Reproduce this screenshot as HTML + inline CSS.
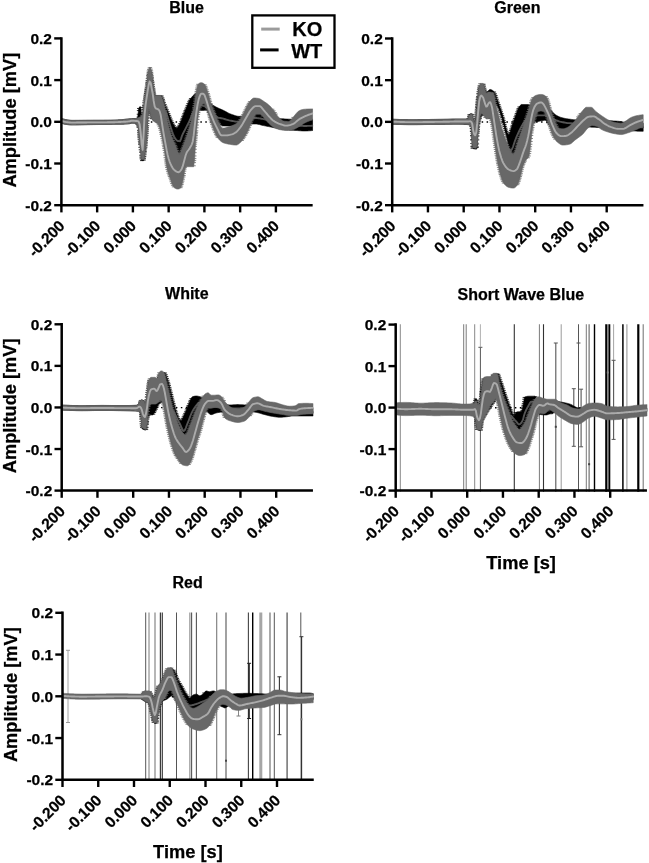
<!DOCTYPE html>
<html lang="en"><head><meta charset="utf-8"><title>ERG amplitude: KO vs WT</title>
<style>
html,body{margin:0;padding:0;background:#fff;}
body{width:649px;height:863px;overflow:hidden;}
svg{display:block;}
text{font-family:"Liberation Sans", sans-serif;font-weight:bold;fill:#000;stroke:#000;stroke-width:0.25px;}
.title{font-size:16px;}
.tick{font-size:15.5px;}
.axl{font-size:18.25px;}
.leg{font-size:20px;}
</style></head><body>
<svg width="649" height="863" viewBox="0 0 649 863">
<rect width="649" height="863" fill="#fff"/>
<g class="panel" id="p-blue">
<text class="title" x="186.52" y="13.3" text-anchor="middle">Blue</text>
<line x1="61.75" y1="122" x2="311.65" y2="122" stroke="#000" stroke-width="1.4" stroke-dasharray="1.5 3.45"/>
<clipPath id="clip-blue"><rect x="61.4" y="38.1" width="251.75" height="168.3"/></clipPath>
<g clip-path="url(#clip-blue)">
<polygon points="61.6,118.6 62.6,118.86 63.6,119.11 64.6,119.33 65.6,119.53 66.6,119.71 67.6,119.89 68.6,120.06 69.6,120.22 70.6,120.33 71.61,120.39 72.61,120.4 73.61,120.4 74.61,120.4 75.61,120.39 76.61,120.39 77.61,120.38 78.61,120.38 79.61,120.37 80.61,120.36 81.61,120.36 82.61,120.35 83.61,120.34 84.61,120.34 85.61,120.33 86.61,120.32 87.61,120.31 88.61,120.31 89.61,120.3 90.61,120.3 91.62,120.29 92.62,120.29 93.62,120.28 94.62,120.28 95.62,120.28 96.62,120.27 97.62,120.27 98.62,120.27 99.62,120.26 100.62,120.26 101.62,120.25 102.62,120.25 103.62,120.25 104.62,120.24 105.62,120.23 106.62,120.23 107.62,120.22 108.62,120.21 109.62,120.2 110.62,120.19 111.63,120.17 112.63,120.14 113.63,120.1 114.63,120.06 115.63,120.01 116.63,119.95 117.63,119.89 118.63,119.83 119.63,119.76 120.63,119.69 121.63,119.63 122.63,119.55 123.63,119.47 124.63,119.38 125.63,119.28 126.63,119.17 127.63,119.06 128.63,118.95 129.63,118.84 130.63,118.73 131.64,118.63 132.64,118.58 133.64,118.55 134.64,118.52 135.64,118.47 136.64,118.38 137.64,118.03 138.64,109.07 139.64,106.8 140.64,106.8 141.64,116.79 142.64,115.03 143.64,107.53 144.64,99.49 145.64,93.32 146.64,86.2 147.64,78.63 148.64,73.19 149.64,70.73 150.65,71.45 151.65,75.18 152.65,82.3 153.65,88.68 154.65,94.74 155.65,95.3 156.65,95.51 157.65,95.59 158.65,95.6 159.65,95.6 160.65,95.6 161.65,95.65 162.65,97.71 163.65,101.1 164.65,103.74 165.65,106.1 166.65,108.47 167.65,110.93 168.65,113.42 169.65,115.86 170.66,118.29 171.66,120.73 172.66,122.88 173.66,124.66 174.66,126.43 175.66,127.79 176.66,128.29 177.66,127.3 178.66,125.88 179.66,124.17 180.66,122.23 181.66,119.79 182.66,117.1 183.66,114.51 184.66,111.98 185.66,109.45 186.66,107.01 187.66,104.56 188.66,102.16 189.66,100.1 190.67,98.53 191.67,97.21 192.67,96.09 193.67,95.11 194.67,94.11 195.67,93.36 196.67,93.16 197.67,93.4 198.67,93.9 199.67,94.53 200.67,95.19 201.67,95.81 202.67,96.43 203.67,97.1 204.67,97.82 205.67,98.58 206.67,99.39 207.67,100.28 208.67,101.33 209.68,102.41 210.68,103.39 211.68,104.2 212.68,104.94 213.68,105.62 214.68,106.24 215.68,106.82 216.68,107.35 217.68,107.83 218.68,108.28 219.68,108.71 220.68,109.12 221.68,109.55 222.68,109.99 223.68,110.47 224.68,110.99 225.68,111.53 226.68,112.09 227.68,112.63 228.68,113.15 229.69,113.63 230.69,114.05 231.69,114.41 232.69,114.77 233.69,115.12 234.69,115.46 235.69,115.77 236.69,116.03 237.69,116.23 238.69,116.34 239.69,116.36 240.69,116.32 241.69,116.25 242.69,116.14 243.69,116.01 244.69,115.86 245.69,115.69 246.69,115.52 247.69,115.35 248.69,115.1 249.7,114.77 250.7,114.4 251.7,114.02 252.7,113.66 253.7,113.37 254.7,113.18 255.7,113.12 256.7,113.19 257.7,113.37 258.7,113.62 259.7,113.94 260.7,114.29 261.7,114.67 262.7,115.04 263.7,115.39 264.7,115.78 265.7,116.26 266.7,116.79 267.7,117.32 268.7,117.81 269.71,118.22 270.71,118.51 271.71,118.64 272.71,118.64 273.71,118.64 274.71,118.64 275.71,118.64 276.71,118.64 277.71,118.64 278.71,118.64 279.71,118.64 280.71,118.65 281.71,118.69 282.71,118.75 283.71,118.83 284.71,118.91 285.71,118.99 286.71,119.06 287.71,119.11 288.72,119.14 289.72,119.17 290.72,119.2 291.72,119.23 292.72,119.25 293.72,119.27 294.72,119.28 295.72,119.28 296.72,119.28 297.72,119.22 298.72,119.13 299.72,119.02 300.72,118.9 301.72,118.79 302.72,118.7 303.72,118.65 304.72,118.64 305.72,118.65 306.72,118.67 307.72,118.71 308.73,118.76 309.73,118.82 310.73,118.91 311.73,119.01 312.73,119.12 312.73,130.49 311.73,130.6 310.73,130.69 309.73,130.77 308.73,130.84 307.72,130.9 306.72,130.93 305.72,130.96 304.72,130.97 303.72,130.97 302.72,130.94 301.72,130.89 300.72,130.83 299.72,130.75 298.72,130.67 297.72,130.59 296.72,130.52 295.72,130.46 294.72,130.41 293.72,130.35 292.72,130.3 291.72,130.25 290.72,130.19 289.72,130.13 288.72,130.05 287.71,129.97 286.71,129.87 285.71,129.75 284.71,129.62 283.71,129.47 282.71,129.32 281.71,129.16 280.71,128.99 279.71,128.83 278.71,128.65 277.71,128.46 276.71,128.26 275.71,128.05 274.71,127.84 273.71,127.63 272.71,127.42 271.71,127.22 270.71,127.02 269.71,126.82 268.7,126.62 267.7,126.42 266.7,126.22 265.7,126.02 264.7,125.82 263.7,125.62 262.7,125.4 261.7,125.14 260.7,124.88 259.7,124.62 258.7,124.38 257.7,124.19 256.7,124.05 255.7,123.99 254.7,123.99 253.7,123.99 252.7,123.99 251.7,123.99 250.7,123.99 249.7,123.99 248.69,123.99 247.69,123.99 246.69,124.01 245.69,124.09 244.69,124.22 243.69,124.38 242.69,124.56 241.69,124.75 240.69,124.93 239.69,125.08 238.69,125.22 237.69,125.37 236.69,125.53 235.69,125.69 234.69,125.83 233.69,125.96 232.69,126.05 231.69,126.1 230.69,126.1 229.69,126.1 228.68,126.09 227.68,126.07 226.68,126.05 225.68,126.03 224.68,126 223.68,125.96 222.68,125.89 221.68,125.55 220.68,124.97 219.68,124.2 218.68,123.32 217.68,122.4 216.68,121.52 215.68,120.59 214.68,119.53 213.68,118.39 212.68,117.23 211.68,116.08 210.68,114.98 209.68,113.68 208.67,112.32 207.67,111.16 206.67,110.46 205.67,110.36 204.67,110.37 203.67,110.39 202.67,110.43 201.67,110.47 200.67,110.54 199.67,110.62 198.67,110.72 197.67,110.83 196.67,110.97 195.67,111.55 194.67,113.25 193.67,115.54 192.67,118.08 191.67,121.52 190.67,125.08 189.66,128.46 188.66,131.79 187.66,134.96 186.66,138.05 185.66,140.99 184.66,143.75 183.66,146.34 182.66,148.8 181.66,151.16 180.66,153.95 179.66,155.89 178.66,155.64 177.66,154.2 176.66,151.99 175.66,149.35 174.66,146.64 173.66,144.17 172.66,141.57 171.66,138.78 170.66,135.89 169.65,133.01 168.65,130.09 167.65,127.11 166.65,124.05 165.65,120.77 164.65,116.46 163.65,112.86 162.65,112.24 161.65,114.78 160.65,117.93 159.65,119.19 158.65,119.68 157.65,120.06 156.65,120.33 155.65,120.47 154.65,120.48 153.65,120.23 152.65,119.73 151.65,118.14 150.65,114.36 149.64,110.39 148.64,107.51 147.64,122.05 146.64,135.54 145.64,146.91 144.64,155.82 143.64,160.6 142.64,160.6 141.64,160.52 140.64,150.83 139.64,141.59 138.64,129.61 137.64,125.13 136.64,123.75 135.64,123.52 134.64,123.37 133.64,123.27 132.64,123.2 131.64,123.18 130.63,123.41 129.63,123.65 128.63,123.77 127.63,123.87 126.63,123.96 125.63,124.03 124.63,124.09 123.63,124.14 122.63,124.18 121.63,124.21 120.63,124.24 119.63,124.26 118.63,124.28 117.63,124.3 116.63,124.31 115.63,124.33 114.63,124.34 113.63,124.36 112.63,124.37 111.63,124.38 110.62,124.39 109.62,124.4 108.62,124.42 107.62,124.43 106.62,124.44 105.62,124.45 104.62,124.46 103.62,124.47 102.62,124.48 101.62,124.49 100.62,124.5 99.62,124.5 98.62,124.51 97.62,124.52 96.62,124.53 95.62,124.54 94.62,124.55 93.62,124.56 92.62,124.57 91.62,124.58 90.61,124.59 89.61,124.61 88.61,124.62 87.61,124.64 86.61,124.66 85.61,124.68 84.61,124.7 83.61,124.72 82.61,124.74 81.61,124.76 80.61,124.79 79.61,124.81 78.61,124.83 77.61,124.85 76.61,124.86 75.61,124.88 74.61,124.89 73.61,124.89 72.61,124.9 71.61,124.9 70.6,124.86 69.6,124.8 68.6,124.71 67.6,124.6 66.6,124.48 65.6,124.34 64.6,124.13 63.6,123.86 62.6,123.55 61.6,123.2" fill="#000000" stroke="#000" stroke-width="0.6"/>
<path d="M136.56 117.13h3.4M136.71 114.25h3.4M136.86 110.55h3.4M137.01 108.46h3.4M139.41 107.46h3.4M139.56 109.95h3.4M139.71 113.17h3.4M139.86 115.92h3.4M140.46 116.49h3.4M141.06 114.56h3.4M141.51 112.45h3.4M141.81 109.36h3.4M141.96 107.3h3.4M142.11 105.41h3.4M142.41 102.87h3.4M142.71 100.9h3.4M143.01 99.08h3.4M143.31 97.18h3.4M143.61 95.35h3.4M143.91 93.53h3.4M144.21 91.61h3.4M144.51 89.52h3.4M144.81 87.24h3.4M145.11 84.91h3.4M145.41 82.65h3.4M145.71 80.45h3.4M146.01 78.13h3.4M146.31 75.99h3.4M146.61 74.35h3.4M147.06 72.82h3.4M147.66 71.21h3.4M148.71 70.91h3.4M149.31 72.59h3.4M149.76 74.24h3.4M150.06 75.88h3.4M150.36 78.03h3.4M150.66 80.31h3.4M150.96 82.39h3.4M151.26 84.35h3.4M151.56 86.29h3.4M151.86 88.16h3.4M152.16 90.02h3.4M152.46 92.14h3.4M152.76 93.99h3.4M160.26 96h3.4M161.01 97.9h3.4M161.46 99.43h3.4M161.91 100.97h3.4M162.51 102.68h3.4M163.26 104.48h3.4M164.01 106.23h3.4M164.76 108.01h3.4M165.51 109.84h3.4M166.26 111.7h3.4M167.01 113.56h3.4M167.76 115.39h3.4M168.51 117.19h3.4M169.26 119.05h3.4M170.01 120.86h3.4M170.76 122.5h3.4M171.66 124.13h3.4M172.56 125.76h3.4M173.61 127.4h3.4M176.31 126.84h3.4M177.36 125.22h3.4M178.26 123.61h3.4M179.16 121.77h3.4M179.91 119.92h3.4M180.51 118.32h3.4M181.11 116.7h3.4M181.71 115.14h3.4M182.31 113.62h3.4M182.91 112.1h3.4M183.51 110.58h3.4M184.11 109.07h3.4M184.86 107.24h3.4M185.61 105.43h3.4M186.36 103.58h3.4M187.11 101.83h3.4M187.86 100.29h3.4M188.91 98.61h3.4" stroke="#000" stroke-width="0.8" fill="none"/>
<path d="M135.51 124.32h3.4M136.26 125.94h3.4M136.71 127.54h3.4M137.01 130.4h3.4M137.16 132.27h3.4M137.31 134.21h3.4M137.46 136.04h3.4M137.61 137.71h3.4M137.76 139.46h3.4M137.91 141.23h3.4M138.06 142.96h3.4M138.21 144.59h3.4M138.51 147.37h3.4M138.81 149.79h3.4M139.11 152.21h3.4M139.41 155.29h3.4M139.56 157.18h3.4M139.71 158.91h3.4M140.01 160.6h3.4M142.26 160.13h3.4M142.56 158.62h3.4M142.86 156.47h3.4M143.16 154.09h3.4M143.46 151.71h3.4M143.76 148.86h3.4M143.91 147.27h3.4M144.06 145.61h3.4M144.21 143.92h3.4M144.36 142.2h3.4M144.51 140.5h3.4M144.66 138.8h3.4M144.81 137.09h3.4M144.96 135.35h3.4M145.11 133.56h3.4M145.26 131.72h3.4M145.41 129.81h3.4M145.56 127.81h3.4M145.71 125.72h3.4M145.86 123.48h3.4M146.01 120.86h3.4M146.16 118.04h3.4M146.31 115.26h3.4M146.46 112.78h3.4M146.61 110.54h3.4M146.76 108.39h3.4M147.21 107.83h3.4M147.81 109.81h3.4M148.26 111.78h3.4M148.71 113.53h3.4M149.16 115.18h3.4M149.61 116.95h3.4M150.06 118.49h3.4M158.61 118.65h3.4M159.36 116.74h3.4M159.96 114.75h3.4M160.56 112.99h3.4M161.76 112.45h3.4M162.36 114.1h3.4M162.81 115.86h3.4M163.26 117.83h3.4M163.71 119.79h3.4M164.16 121.54h3.4M164.76 123.45h3.4M165.36 125.31h3.4M165.96 127.13h3.4M166.56 128.93h3.4M167.16 130.7h3.4M167.76 132.45h3.4M168.36 134.18h3.4M168.96 135.91h3.4M169.56 137.65h3.4M170.16 139.37h3.4M170.76 141.04h3.4M171.36 142.66h3.4M171.96 144.19h3.4M172.71 146.01h3.4M173.31 147.59h3.4M173.91 149.23h3.4M174.51 150.84h3.4M175.11 152.37h3.4M175.86 154.02h3.4M178.26 155.52h3.4M179.01 153.81h3.4M179.61 152.1h3.4M180.21 150.56h3.4M180.96 148.79h3.4M181.71 146.96h3.4M182.31 145.44h3.4M182.91 143.88h3.4M183.51 142.25h3.4M184.11 140.56h3.4M184.71 138.8h3.4M185.31 136.98h3.4M185.91 135.12h3.4M186.51 133.23h3.4M187.11 131.3h3.4M187.71 129.3h3.4M188.16 127.78h3.4M188.61 126.26h3.4M189.06 124.75h3.4M189.51 123.17h3.4M189.96 121.53h3.4M190.41 119.91h3.4M190.86 118.4h3.4M191.46 116.73h3.4M192.21 114.95h3.4M192.96 113.25h3.4M193.86 111.68h3.4M207.07 112.44h3.4M208.27 114.07h3.4" stroke="#000" stroke-width="0.8" fill="none"/>
<polyline points="166,112 167,115.19 168.01,118.41 169.01,121.68 170.02,124.95 171.02,128.16 172.03,131.4 173.03,134.18 174.04,136.49 175.04,138.38 176.05,139.63 177.05,140.6 178.06,141.03 179.06,141.16 180.07,141.18 181.07,138.62 182.08,135.56 183.08,133.41 184.09,131.46 185.09,129.57 186.1,127.61 187.1,125.64 188.11,123.69 189.11,121.67 190.12,119.52 191.12,117.01 192.13,114.33 193.13,111.86 194.14,109.96 195.14,108.3 196.15,106.77 197.15,105.69 198.16,105.32 199.16,105.35 200.17,105.42 201.17,105.53 202.18,105.68 203.18,105.85 204.19,106.06 205.19,106.39 206.2,107.11 207.2,108.08 208.21,109.12 209.21,110.04 210.22,110.7 211.22,111.17 212.23,111.65 213.23,112.32 214.24,113.38 215.24,116.07 216.25,116.72 217.25,117.21 218.26,117.56 219.26,117.82 220.27,118.02 221.27,118.21 222.28,118.42 223.28,118.69 224.29,118.98 225.29,119.28 226.3,119.56 227.3,119.84 228.31,120.1 229.31,120.35 230.32,120.57 231.32,120.76 232.33,120.95 233.33,121.15 234.34,121.33 235.34,121.51 236.35,121.66 237.35,121.78 238.36,121.86 239.36,121.88 240.37,121.83 241.37,121.67 242.38,121.44 243.38,121.16 244.39,120.85 245.39,120.53 246.4,120.22 247.4,119.95 248.41,119.69 249.41,119.38 250.42,119.06 251.42,118.75 252.43,118.46 253.43,118.22 254.44,118.06 255.44,117.99 256.45,118.01 257.45,118.08 258.46,118.19 259.46,118.34 260.47,118.51 261.47,118.7 262.48,118.89 263.48,119.08 264.49,119.28 265.49,119.51 266.5,119.76 267.5,120.04 268.51,120.32 269.51,120.61 270.52,120.89 271.52,121.16 272.53,121.41 273.53,121.66 274.54,121.91 275.54,122.16 276.55,122.4 277.55,122.64 278.56,122.87 279.56,123.1 280.57,123.32 281.57,123.55 282.58,123.77 283.58,123.99 284.59,124.2 285.59,124.4 286.6,124.58 287.6,124.74 288.61,124.88 289.61,125.01 290.62,125.13 291.62,125.24 292.63,125.34 293.63,125.43 294.64,125.51 295.64,125.59 296.65,125.64 297.65,125.7 298.66,125.76 299.66,125.81 300.67,125.86 301.67,125.89 302.68,125.92 303.68,125.94 304.69,125.94 305.69,125.94 306.7,125.93 307.7,125.92 308.71,125.91 309.71,125.89 310.72,125.86 311.72,125.82 312.73,125.78" fill="none" stroke="#555555" stroke-width="1.9" stroke-linejoin="round" stroke-linecap="round"/>
<polygon points="61.6,118.6 62.6,118.86 63.6,119.11 64.6,119.33 65.6,119.53 66.6,119.71 67.6,119.89 68.6,120.06 69.6,120.22 70.6,120.33 71.61,120.39 72.61,120.4 73.61,120.4 74.61,120.4 75.61,120.39 76.61,120.39 77.61,120.38 78.61,120.38 79.61,120.37 80.61,120.36 81.61,120.36 82.61,120.35 83.61,120.34 84.61,120.34 85.61,120.33 86.61,120.32 87.61,120.31 88.61,120.31 89.61,120.3 90.61,120.3 91.62,120.29 92.62,120.29 93.62,120.28 94.62,120.28 95.62,120.28 96.62,120.27 97.62,120.27 98.62,120.27 99.62,120.26 100.62,120.26 101.62,120.25 102.62,120.25 103.62,120.25 104.62,120.24 105.62,120.23 106.62,120.23 107.62,120.22 108.62,120.21 109.62,120.2 110.62,120.19 111.63,120.17 112.63,120.14 113.63,120.1 114.63,120.06 115.63,120.01 116.63,119.95 117.63,119.89 118.63,119.83 119.63,119.76 120.63,119.69 121.63,119.63 122.63,119.55 123.63,119.44 124.63,119.32 125.63,119.18 126.63,119.05 127.63,118.94 128.63,118.85 129.63,118.8 130.63,118.8 131.64,118.8 132.64,118.78 133.64,118.74 134.64,118.68 135.64,118.59 136.64,118.48 137.64,118.01 138.64,117.43 139.64,117.03 140.64,116.6 141.64,115.86 142.64,113.99 143.64,107.08 144.64,99.01 145.64,92.5 146.64,84.91 147.64,76.24 148.64,69.78 149.64,67.42 150.65,68.08 151.65,72.05 152.65,81.55 153.65,89.58 154.65,94.8 155.65,95.4 156.65,95.4 157.65,95.4 158.65,95.4 159.65,95.4 160.65,95.4 161.65,97.08 162.65,99.91 163.65,103.16 164.65,107.07 165.65,111.69 166.65,117.07 167.65,121.92 168.65,126.33 169.65,130.28 170.66,133.66 171.66,136.63 172.66,139.24 173.66,141.53 174.66,143.66 175.66,145.87 176.66,148.66 177.66,151.57 178.66,153.72 179.66,154.19 180.66,152.28 181.66,149.53 182.66,147.18 183.66,144.72 184.66,142.12 185.66,139.37 186.66,136.42 187.66,133.34 188.66,130.2 189.66,127.07 190.67,123.51 191.67,118.75 192.67,113.62 193.67,108.75 194.67,102.28 195.67,95.29 196.67,89.37 197.67,84.94 198.67,83.69 199.67,83.03 200.67,82.66 201.67,82.63 202.67,82.94 203.67,83.54 204.67,84.34 205.67,86.13 206.67,88.92 207.67,91.99 208.67,95.25 209.68,98.98 210.68,102.56 211.68,105.57 212.68,108.39 213.68,111.09 214.68,113.64 215.68,116.06 216.68,118.32 217.68,120.43 218.68,122.44 219.68,124.62 220.68,126.62 221.68,127.95 222.68,128.2 223.68,128.09 224.68,127.89 225.68,127.64 226.68,127.37 227.68,127.11 228.68,126.82 229.69,126.51 230.69,126.16 231.69,125.78 232.69,125.37 233.69,124.93 234.69,124.46 235.69,123.93 236.69,123.31 237.69,122.56 238.69,121.53 239.69,120.14 240.69,118.53 241.69,116.85 242.69,115.04 243.69,113 244.69,110.89 245.69,108.86 246.69,106.89 247.69,104.87 248.69,103 249.7,101.51 250.7,100.37 251.7,99.31 252.7,98.47 253.7,98.04 254.7,98.03 255.7,98.09 256.7,98.19 257.7,98.33 258.7,98.48 259.7,98.76 260.7,99.25 261.7,99.88 262.7,100.58 263.7,101.27 264.7,101.93 265.7,102.61 266.7,103.33 267.7,104.1 268.7,104.93 269.71,105.83 270.71,106.83 271.71,108.01 272.71,109.29 273.71,110.6 274.71,111.99 275.71,113.48 276.71,114.91 277.71,116.16 278.71,117.3 279.71,118.3 280.71,119.15 281.71,119.98 282.71,120.67 283.71,121.05 284.71,121.18 285.71,121.27 286.71,121.34 287.71,121.39 288.72,121.38 289.72,120.89 290.72,119.99 291.72,119.05 292.72,117.87 293.72,116.55 294.72,115.27 295.72,114.1 296.72,112.92 297.72,111.87 298.72,111.1 299.72,110.52 300.72,110.04 301.72,109.68 302.72,109.48 303.72,109.34 304.72,109.22 305.72,109.14 306.72,109.07 307.72,109.03 308.73,108.99 309.73,108.95 310.73,108.92 311.73,108.9 312.73,108.9 312.73,119.94 311.73,120.18 310.73,120.47 309.73,120.81 308.73,121.18 307.72,121.58 306.72,122.01 305.72,122.46 304.72,122.99 303.72,123.61 302.72,124.28 301.72,124.96 300.72,125.63 299.72,126.25 298.72,126.83 297.72,127.43 296.72,128.02 295.72,128.59 294.72,129.08 293.72,129.47 292.72,129.72 291.72,129.91 290.72,130.09 289.72,130.24 288.72,130.36 287.71,130.44 286.71,130.48 285.71,130.47 284.71,130.41 283.71,130.3 282.71,130.16 281.71,130 280.71,129.82 279.71,129.63 278.71,129.4 277.71,129.1 276.71,128.74 275.71,128.33 274.71,127.88 273.71,127.38 272.71,126.8 271.71,126.07 270.71,125.22 269.71,124.28 268.7,123.31 267.7,122.27 266.7,121.1 265.7,119.86 264.7,118.64 263.7,117.5 262.7,116.25 261.7,115.01 260.7,114.29 259.7,114.25 258.7,114.25 257.7,114.25 256.7,114.25 255.7,114.54 254.7,115.73 253.7,117.39 252.7,119.13 251.7,121.41 250.7,124.03 249.7,126.64 248.69,128.92 247.69,131.08 246.69,133.15 245.69,135.04 244.69,136.71 243.69,138.29 242.69,139.77 241.69,141.09 240.69,142.19 239.69,143.06 238.69,143.88 237.69,144.58 236.69,145.02 235.69,145.09 234.69,145.04 233.69,144.94 232.69,144.8 231.69,144.64 230.69,144.47 229.69,144.3 228.68,144.13 227.68,143.94 226.68,143.73 225.68,143.49 224.68,143.21 223.68,142.88 222.68,142.47 221.68,141.88 220.68,141.11 219.68,140.18 218.68,139.11 217.68,137.86 216.68,136.25 215.68,134.29 214.68,132.04 213.68,129.55 212.68,126.88 211.68,124.09 210.68,121.23 209.68,118.16 208.67,114.38 207.67,110.65 206.67,107.77 205.67,105.16 204.67,103.72 203.67,103.84 202.67,104.3 201.67,105.01 200.67,106.2 199.67,108.82 198.67,112.77 197.67,120.83 196.67,130.24 195.67,140.96 194.67,158.56 193.67,166.69 192.67,166.69 191.67,166.69 190.67,166.69 189.66,166.69 188.66,166.69 187.66,166.69 186.66,166.79 185.66,167.18 184.66,170.8 183.66,177.27 182.66,181.72 181.66,185.41 180.66,187.99 179.66,188.61 178.66,188.98 177.66,189.09 176.66,188.93 175.66,188.56 174.66,188.04 173.66,187.07 172.66,185.36 171.66,182.97 170.66,179.8 169.65,176.99 168.65,174.33 167.65,171.22 166.65,166.83 165.65,160.59 164.65,152.68 163.65,146.18 162.65,141.33 161.65,136.44 160.65,131.83 159.65,127.74 158.65,125.38 157.65,124.03 156.65,123.23 155.65,122.62 154.65,121.99 153.65,121.26 152.65,120.43 151.65,118.39 150.65,114.58 149.64,110.48 148.64,107.51 147.64,122.05 146.64,135.56 145.64,146.84 144.64,155.5 143.64,159.5 142.64,159.5 141.64,159.5 140.64,150.67 139.64,141.62 138.64,129.45 137.64,124.99 136.64,123.66 135.64,123.35 134.64,123.14 133.64,122.98 132.64,122.89 131.64,122.86 130.63,123.28 129.63,123.66 128.63,123.79 127.63,123.9 126.63,123.98 125.63,124.05 124.63,124.11 123.63,124.15 122.63,124.18 121.63,124.21 120.63,124.24 119.63,124.26 118.63,124.28 117.63,124.3 116.63,124.31 115.63,124.33 114.63,124.34 113.63,124.36 112.63,124.37 111.63,124.38 110.62,124.39 109.62,124.4 108.62,124.42 107.62,124.43 106.62,124.44 105.62,124.45 104.62,124.46 103.62,124.47 102.62,124.48 101.62,124.49 100.62,124.5 99.62,124.5 98.62,124.51 97.62,124.52 96.62,124.53 95.62,124.54 94.62,124.55 93.62,124.56 92.62,124.57 91.62,124.58 90.61,124.59 89.61,124.61 88.61,124.62 87.61,124.64 86.61,124.66 85.61,124.68 84.61,124.7 83.61,124.72 82.61,124.74 81.61,124.76 80.61,124.79 79.61,124.81 78.61,124.83 77.61,124.85 76.61,124.86 75.61,124.88 74.61,124.89 73.61,124.89 72.61,124.9 71.61,124.9 70.6,124.86 69.6,124.8 68.6,124.71 67.6,124.6 66.6,124.48 65.6,124.34 64.6,124.13 63.6,123.86 62.6,123.55 61.6,123.2" fill="#686868" stroke="#686868" stroke-width="0.6"/>
<path d="M140.31 115.38h3.4M141.06 113.63h3.4M141.51 111.96h3.4M141.81 108.94h3.4M141.96 106.84h3.4M142.11 104.91h3.4M142.41 102.38h3.4M142.71 100.43h3.4M143.01 98.59h3.4M143.31 96.63h3.4M143.61 94.69h3.4M143.91 92.72h3.4M144.21 90.66h3.4M144.51 88.42h3.4M144.81 86.01h3.4M145.11 83.53h3.4M145.41 81.04h3.4M145.71 78.47h3.4M146.01 75.61h3.4M146.31 72.94h3.4M146.61 70.97h3.4M147.06 69.41h3.4M147.66 67.87h3.4M148.71 67.57h3.4M149.31 69.16h3.4M149.76 70.86h3.4M150.06 73h3.4M150.36 75.95h3.4M150.51 77.52h3.4M150.66 79.02h3.4M150.96 81.67h3.4M151.26 84.25h3.4M151.56 86.71h3.4M151.86 88.93h3.4M152.16 91.22h3.4M152.46 93.29h3.4M159.36 95.78h3.4M160.11 97.53h3.4M160.71 99.26h3.4M161.31 100.99h3.4M161.91 103.02h3.4M162.36 104.7h3.4M162.81 106.49h3.4M163.26 108.36h3.4M163.71 110.46h3.4M164.01 112h3.4M164.31 113.6h3.4M164.61 115.23h3.4M164.91 116.84h3.4M165.21 118.41h3.4M165.66 120.58h3.4M166.11 122.63h3.4M166.56 124.64h3.4M167.01 126.57h3.4M167.46 128.41h3.4M167.91 130.12h3.4M168.36 131.71h3.4M168.96 133.68h3.4M169.56 135.51h3.4M170.16 137.2h3.4M170.76 138.77h3.4M171.51 140.54h3.4M172.26 142.19h3.4M173.01 143.78h3.4M173.76 145.42h3.4M174.36 146.92h3.4M174.96 148.67h3.4M175.56 150.46h3.4M176.16 152.1h3.4M176.91 153.65h3.4M178.26 153.82h3.4M179.01 152.14h3.4M179.61 150.46h3.4M180.21 148.94h3.4M180.96 147.18h3.4M181.71 145.35h3.4M182.31 143.83h3.4M182.91 142.26h3.4M183.51 140.63h3.4M184.11 138.94h3.4M184.71 137.17h3.4M185.31 135.36h3.4M185.91 133.5h3.4M186.51 131.61h3.4M187.11 129.74h3.4M187.71 127.88h3.4M188.31 125.91h3.4M188.76 124.29h3.4M189.21 122.47h3.4M189.66 120.32h3.4M189.96 118.76h3.4M190.26 117.17h3.4M190.56 115.6h3.4M191.01 113.39h3.4M191.46 111.26h3.4M191.91 109.03h3.4M192.21 107.4h3.4M192.51 105.56h3.4M192.81 103.43h3.4M193.11 101.16h3.4M193.41 98.91h3.4M193.71 96.82h3.4M194.01 95.02h3.4M194.31 93.24h3.4M194.61 91.44h3.4M194.91 89.68h3.4M195.21 88.04h3.4M195.66 85.97h3.4M196.26 84.32h3.4M203.32 84.8h3.4M204.07 86.36h3.4M204.67 88h3.4M205.27 89.82h3.4M205.87 91.67h3.4M206.47 93.5h3.4M206.92 95.04h3.4M207.37 96.68h3.4M207.82 98.38h3.4M208.27 100.07h3.4M208.72 101.68h3.4M209.32 103.63h3.4M209.92 105.39h3.4M210.52 107.11h3.4M211.12 108.78h3.4M211.72 110.4h3.4M212.32 111.97h3.4M212.92 113.49h3.4M213.67 115.32h3.4M214.42 117.07h3.4M215.17 118.73h3.4M215.92 120.31h3.4M216.82 122.1h3.4M217.57 123.72h3.4M218.32 125.34h3.4M219.22 127.02h3.4M237.37 121.04h3.4M238.42 119.47h3.4M239.47 117.73h3.4M240.37 116.2h3.4M241.27 114.49h3.4M242.02 112.94h3.4M242.77 111.36h3.4M243.52 109.8h3.4M244.42 108.04h3.4M245.17 106.54h3.4M245.92 105.02h3.4M246.82 103.31h3.4M247.87 101.67h3.4M270.97 109.24h3.4M272.17 110.82h3.4M273.37 112.53h3.4M274.42 114.08h3.4M291.38 117.41h3.4" stroke="#686868" stroke-width="0.8" fill="none"/>
<path d="M135.51 124.22h3.4M136.26 125.77h3.4M136.71 127.34h3.4M137.01 130.27h3.4M137.16 132.19h3.4M137.31 134.17h3.4M137.46 136.03h3.4M137.61 137.72h3.4M137.76 139.48h3.4M137.91 141.26h3.4M138.06 142.98h3.4M138.21 144.6h3.4M138.51 147.33h3.4M138.81 149.67h3.4M139.11 152.02h3.4M139.41 155.14h3.4M139.56 157.03h3.4M139.71 158.61h3.4M142.41 158.82h3.4M142.71 157.17h3.4M143.01 154.99h3.4M143.31 152.73h3.4M143.61 150.22h3.4M143.91 147.2h3.4M144.06 145.56h3.4M144.21 143.88h3.4M144.36 142.19h3.4M144.51 140.5h3.4M144.66 138.81h3.4M144.81 137.11h3.4M144.96 135.37h3.4M145.11 133.58h3.4M145.26 131.73h3.4M145.41 129.82h3.4M145.56 127.82h3.4M145.71 125.72h3.4M145.86 123.48h3.4M146.01 120.86h3.4M146.16 118.04h3.4M146.31 115.26h3.4M146.46 112.78h3.4M146.61 110.54h3.4M146.76 108.39h3.4M147.21 107.84h3.4M147.81 109.88h3.4M148.26 111.92h3.4M148.71 113.73h3.4M149.16 115.4h3.4M149.61 117.17h3.4M150.06 118.75h3.4M156.66 124.89h3.4M157.56 126.72h3.4M158.16 128.44h3.4M158.61 130.29h3.4M159.06 132.33h3.4M159.51 134.36h3.4M159.96 136.49h3.4M160.41 138.69h3.4M160.86 140.9h3.4M161.31 143.04h3.4M161.76 145.21h3.4M162.06 146.76h3.4M162.36 148.47h3.4M162.66 150.45h3.4M162.96 152.75h3.4M163.26 155.22h3.4M163.56 157.67h3.4M163.86 159.95h3.4M164.16 161.95h3.4M164.46 163.89h3.4M164.76 165.73h3.4M165.06 167.42h3.4M165.51 169.55h3.4M165.96 171.25h3.4M166.56 173.2h3.4M167.16 174.9h3.4M167.76 176.48h3.4M168.36 178.07h3.4M168.96 179.82h3.4M169.56 181.74h3.4M170.16 183.57h3.4M170.91 185.28h3.4M171.81 186.86h3.4M179.16 187.67h3.4M179.76 186.08h3.4M180.21 184.49h3.4M180.66 182.81h3.4M181.11 181.12h3.4M181.56 179.17h3.4M182.01 177.02h3.4M182.31 175.48h3.4M182.61 173.45h3.4M182.91 171.17h3.4M183.21 169.09h3.4M183.66 167.36h3.4M192.36 165.76h3.4M192.66 162.6h3.4M192.81 160.62h3.4M192.96 158.6h3.4M193.11 155.94h3.4M193.26 152.63h3.4M193.41 149.25h3.4M193.56 146.35h3.4M193.71 144.15h3.4M193.86 142.2h3.4M194.01 140.43h3.4M194.16 138.76h3.4M194.31 137.14h3.4M194.46 135.51h3.4M194.61 133.89h3.4M194.76 132.32h3.4M194.91 130.78h3.4M195.21 127.82h3.4M195.51 125.03h3.4M195.81 122.28h3.4M196.11 119.47h3.4M196.41 116.79h3.4M196.71 114.42h3.4M197.01 112.52h3.4M197.46 110.62h3.4M197.91 109h3.4M198.52 107.22h3.4M199.27 105.71h3.4M203.47 104.19h3.4M204.22 105.74h3.4M204.82 107.34h3.4M205.42 108.93h3.4M206.02 110.79h3.4M206.47 112.42h3.4M206.92 114.15h3.4M207.37 115.91h3.4M207.82 117.6h3.4M208.27 119.14h3.4M208.87 120.91h3.4M209.47 122.63h3.4M210.07 124.34h3.4M210.67 126.03h3.4M211.27 127.67h3.4M211.87 129.26h3.4M212.47 130.79h3.4M213.22 132.6h3.4M213.97 134.27h3.4M214.72 135.77h3.4M215.62 137.32h3.4M240.52 140.41h3.4M241.72 138.7h3.4M242.77 137.07h3.4M243.82 135.35h3.4M244.72 133.68h3.4M245.47 132.18h3.4M246.22 130.59h3.4M246.97 128.97h3.4M247.72 127.3h3.4M248.47 125.42h3.4M249.07 123.83h3.4M249.67 122.24h3.4M250.27 120.73h3.4M251.02 119.08h3.4M251.92 117.52h3.4M252.82 116.01h3.4M260.77 115.95h3.4" stroke="#686868" stroke-width="0.8" fill="none"/>
<polyline points="61.6,121 62.6,121.27 63.6,121.53 64.6,121.75 65.6,121.94 66.6,122.09 67.6,122.23 68.6,122.36 69.6,122.47 70.6,122.55 71.61,122.6 72.61,122.6 73.61,122.6 74.61,122.59 75.61,122.58 76.61,122.57 77.61,122.56 78.61,122.55 79.61,122.54 80.61,122.52 81.61,122.51 82.61,122.49 83.61,122.48 84.61,122.46 85.61,122.45 86.61,122.43 87.61,122.42 88.61,122.41 89.61,122.4 90.61,122.4 91.62,122.39 92.62,122.38 93.62,122.38 94.62,122.38 95.62,122.37 96.62,122.37 97.62,122.36 98.62,122.36 99.62,122.36 100.62,122.35 101.62,122.35 102.62,122.35 103.62,122.34 104.62,122.34 105.62,122.33 106.62,122.33 107.62,122.32 108.62,122.31 109.62,122.3 110.62,122.29 111.63,122.28 112.63,122.26 113.63,122.23 114.63,122.21 115.63,122.17 116.63,122.14 117.63,122.1 118.63,122.06 119.63,122.01 120.63,121.97 121.63,121.92 122.63,121.87 123.63,121.81 124.63,121.75 125.63,121.68 126.63,121.6 127.63,121.51 128.63,121.39 129.63,121.26 130.63,120.99 131.64,120.75 132.64,120.76 133.64,120.8 134.64,120.85 135.64,120.93 136.64,121.01 137.64,121.19 138.64,121.61 139.64,124.39 140.64,132.08 141.64,143.74 142.64,149.95 143.64,133.88 144.64,114.03 145.64,104.29 146.64,97.63 147.64,91.07 148.64,85.04 149.64,81.52 150.65,82.75 151.65,88.23 152.65,93.47 153.65,100.9 154.65,106.31 155.65,108.29 156.65,108.76 157.65,109.06 158.65,109.64 159.65,111.33 160.65,114.66 161.65,120.86 162.65,127.6 163.65,133.77 164.65,139.27 165.65,144.73 166.65,150.18 167.65,155.01 168.65,158.76 169.65,161.82 170.66,164.19 171.66,166.22 172.66,168.01 173.66,169.43 174.66,170.37 175.66,171.07 176.66,171.67 177.66,172.07 178.66,172.2 179.66,171.68 180.66,170.49 181.66,168.9 182.66,166.43 183.66,162.69 184.66,159.04 185.66,155.25 186.66,152.6 187.66,151.02 188.66,149.75 189.66,148.33 190.67,146.56 191.67,144.58 192.67,141.74 193.67,135.44 194.67,126.49 195.67,117.69 196.67,110.25 197.67,104.13 198.67,99.47 199.67,96.4 200.67,94.13 201.67,93.64 202.67,93.74 203.67,93.95 204.67,95.33 205.67,98.2 206.67,101.11 207.67,104.47 208.67,107.92 209.68,110.91 210.68,113.61 211.68,116.2 212.68,118.67 213.68,121.03 214.68,123.28 215.68,125.41 216.68,127.42 217.68,129.33 218.68,131.43 219.68,133.46 220.68,134.92 221.68,135.36 222.68,135.36 223.68,135.36 224.68,135.36 225.68,135.36 226.68,135.35 227.68,135.28 228.68,135.12 229.69,134.92 230.69,134.68 231.69,134.42 232.69,134.06 233.69,133.59 234.69,133.03 235.69,132.4 236.69,131.65 237.69,130.67 238.69,129.49 239.69,128.19 240.69,126.82 241.69,125.39 242.69,123.78 243.69,122.05 244.69,120.29 245.69,118.56 246.69,116.83 247.69,114.99 248.69,113.18 249.7,111.54 250.7,110.22 251.7,109.07 252.7,107.95 253.7,106.99 254.7,106.34 255.7,106.14 256.7,106.14 257.7,106.14 258.7,106.14 259.7,106.14 260.7,106.6 261.7,107.66 262.7,108.97 263.7,110.2 264.7,111.32 265.7,112.51 266.7,113.72 267.7,114.91 268.7,116.02 269.71,117.13 270.71,118.23 271.71,119.27 272.71,120.19 273.71,120.92 274.71,121.56 275.71,122.14 276.71,122.66 277.71,123.13 278.71,123.55 279.71,123.92 280.71,124.26 281.71,124.6 282.71,124.93 283.71,125.22 284.71,125.45 285.71,125.59 286.71,125.61 287.71,125.53 288.72,125.35 289.72,125.1 290.72,124.79 291.72,124.44 292.72,124.07 293.72,123.61 294.72,122.95 295.72,122.13 296.72,121.25 297.72,120.38 298.72,119.59 299.72,118.94 300.72,118.37 301.72,117.83 302.72,117.32 303.72,116.84 304.72,116.39 305.72,115.95 306.72,115.54 307.72,115.14 308.73,114.76 309.73,114.4 310.73,114.06 311.73,113.74 312.73,113.44" fill="none" stroke="#ababab" stroke-width="1.9" stroke-linejoin="round" stroke-linecap="round"/>
</g>
<path d="M61.4 37.15V205.2H312.65" fill="none" stroke="#000" stroke-width="2.5" stroke-linejoin="miter"/>
<line x1="54.2" y1="38.4" x2="61.4" y2="38.4" stroke="#000" stroke-width="2.4"/>
<text class="tick" x="52" y="44" text-anchor="end">0.2</text>
<line x1="54.2" y1="80.1" x2="61.4" y2="80.1" stroke="#000" stroke-width="2.4"/>
<text class="tick" x="52" y="85.7" text-anchor="end">0.1</text>
<line x1="54.2" y1="121.8" x2="61.4" y2="121.8" stroke="#000" stroke-width="2.4"/>
<text class="tick" x="52" y="127.4" text-anchor="end">0.0</text>
<line x1="54.2" y1="163.5" x2="61.4" y2="163.5" stroke="#000" stroke-width="2.4"/>
<text class="tick" x="52" y="169.1" text-anchor="end">-0.1</text>
<line x1="54.2" y1="205.2" x2="61.4" y2="205.2" stroke="#000" stroke-width="2.4"/>
<text class="tick" x="52" y="210.8" text-anchor="end">-0.2</text>
<line x1="61.4" y1="205.2" x2="61.4" y2="212.4" stroke="#000" stroke-width="2.4"/>
<text class="tick" text-anchor="end" transform="translate(61.9 223) rotate(-45)" x="0" y="5.4">-0.200</text>
<line x1="97.15" y1="205.2" x2="97.15" y2="212.4" stroke="#000" stroke-width="2.4"/>
<text class="tick" text-anchor="end" transform="translate(97.65 223) rotate(-45)" x="0" y="5.4">-0.100</text>
<line x1="132.9" y1="205.2" x2="132.9" y2="212.4" stroke="#000" stroke-width="2.4"/>
<text class="tick" text-anchor="end" transform="translate(133.4 223) rotate(-45)" x="0" y="5.4">0.000</text>
<line x1="168.65" y1="205.2" x2="168.65" y2="212.4" stroke="#000" stroke-width="2.4"/>
<text class="tick" text-anchor="end" transform="translate(169.15 223) rotate(-45)" x="0" y="5.4">0.100</text>
<line x1="204.4" y1="205.2" x2="204.4" y2="212.4" stroke="#000" stroke-width="2.4"/>
<text class="tick" text-anchor="end" transform="translate(204.9 223) rotate(-45)" x="0" y="5.4">0.200</text>
<line x1="240.15" y1="205.2" x2="240.15" y2="212.4" stroke="#000" stroke-width="2.4"/>
<text class="tick" text-anchor="end" transform="translate(240.65 223) rotate(-45)" x="0" y="5.4">0.300</text>
<line x1="275.9" y1="205.2" x2="275.9" y2="212.4" stroke="#000" stroke-width="2.4"/>
<text class="tick" text-anchor="end" transform="translate(276.4 223) rotate(-45)" x="0" y="5.4">0.400</text>
<text class="axl" text-anchor="middle" transform="translate(15.8 120.2) rotate(-90)">Amplitude [mV]</text>
</g>
<g class="panel" id="p-green">
<text class="title" x="517.33" y="13.4" text-anchor="middle">Green</text>
<line x1="392.55" y1="122.05" x2="642.45" y2="122.05" stroke="#000" stroke-width="1.4" stroke-dasharray="1.5 3.45"/>
<clipPath id="clip-green"><rect x="392.2" y="38.2" width="251.75" height="168.2"/></clipPath>
<g clip-path="url(#clip-green)">
<polygon points="392.2,119.25 393.2,119.28 394.2,119.32 395.2,119.35 396.2,119.38 397.2,119.41 398.2,119.44 399.2,119.47 400.2,119.49 401.2,119.52 402.2,119.54 403.2,119.56 404.2,119.58 405.2,119.59 406.2,119.61 407.2,119.62 408.2,119.63 409.2,119.64 410.2,119.65 411.2,119.65 412.2,119.65 413.2,119.65 414.2,119.65 415.2,119.64 416.2,119.64 417.2,119.63 418.2,119.62 419.2,119.61 420.2,119.6 421.2,119.59 422.2,119.58 423.2,119.57 424.2,119.55 425.2,119.54 426.2,119.53 427.2,119.51 428.2,119.5 429.2,119.49 430.2,119.47 431.2,119.46 432.2,119.45 433.2,119.44 434.2,119.43 435.2,119.42 436.2,119.41 437.2,119.4 438.2,119.38 439.2,119.37 440.2,119.36 441.2,119.35 442.2,119.33 443.2,119.32 444.2,119.3 445.2,119.29 446.2,119.27 447.2,119.25 448.2,119.22 449.2,119.18 450.2,119.13 451.2,119.08 452.2,119.03 453.2,118.99 454.2,118.97 455.2,118.96 456.2,118.96 457.2,118.96 458.2,118.96 459.2,118.96 460.2,118.96 461.2,118.96 462.2,118.96 463.2,118.96 464.2,118.96 465.2,118.96 466.2,118.96 467.2,118.96 468.2,118.71 469.2,114.58 470.2,113.77 471.2,113.77 472.2,113.77 473.2,119.07 474.2,121.79 475.2,122.78 476.2,113.1 477.2,101.91 478.2,92.4 479.2,86.68 480.21,84.86 481.21,84.51 482.21,84.3 483.21,84.22 484.21,86.31 485.21,90.53 486.21,91.31 487.21,91.52 488.21,91.06 489.21,89.84 490.21,89.43 491.21,89.68 492.21,90.19 493.21,90.9 494.21,91.79 495.21,93.68 496.21,96.49 497.21,99.64 498.21,102.6 499.21,105.47 500.21,108.44 501.21,111.49 502.21,114.57 503.21,117.73 504.21,121.57 505.21,125.81 506.21,129.82 507.21,133 508.21,134.72 509.21,134.3 510.21,131.7 511.21,128.3 512.21,125.37 513.21,122.55 514.21,119.69 515.21,116.87 516.21,114.17 517.21,111.32 518.21,108.69 519.21,106.83 520.21,105.46 521.21,104.59 522.21,104.51 523.21,104.51 524.21,104.51 525.21,104.51 526.21,104.51 527.21,104.51 528.21,104.52 529.21,104.85 530.21,105.47 531.21,106.09 532.21,106.62 533.21,107.19 534.21,107.74 535.21,108.22 536.21,108.58 537.21,108.87 538.21,109.16 539.21,109.41 540.21,109.62 541.21,109.78 542.21,109.86 543.21,109.8 544.21,109.51 545.21,109.38 546.21,109.42 547.21,109.52 548.21,109.66 549.21,109.85 550.21,110.08 551.21,110.45 552.21,111.4 553.21,112.64 554.21,113.8 555.21,114.57 556.21,115.2 557.21,115.78 558.21,116.31 559.21,116.77 560.21,117.17 561.21,117.49 562.21,117.77 563.21,118.02 564.21,118.25 565.21,118.45 566.21,118.64 567.21,118.81 568.21,118.96 569.21,119.1 570.21,119.24 571.21,119.38 572.21,119.51 573.21,119.64 574.21,119.75 575.21,119.84 576.21,119.9 577.21,119.93 578.21,119.94 579.21,119.94 580.21,119.94 581.21,119.94 582.21,119.94 583.21,119.94 584.21,119.94 585.21,119.94 586.21,119.94 587.21,119.94 588.21,119.94 589.21,119.94 590.21,119.94 591.21,119.94 592.21,119.94 593.21,119.94 594.21,119.94 595.21,119.95 596.21,119.97 597.21,120 598.21,120.04 599.21,120.08 600.21,120.14 601.21,120.19 602.21,120.25 603.21,120.32 604.21,120.38 605.21,120.45 606.21,120.52 607.21,120.58 608.21,120.65 609.21,120.71 610.21,120.76 611.21,120.81 612.21,120.87 613.21,120.92 614.21,120.97 615.21,121.03 616.21,121.1 617.21,121.17 618.21,121.25 619.21,121.36 620.21,121.5 621.21,121.66 622.21,121.83 623.21,122 624.21,122.15 625.21,122.28 626.21,122.37 627.21,122.45 628.21,122.52 629.21,122.59 630.21,122.66 631.21,122.73 632.21,122.79 633.21,122.85 634.21,122.91 635.21,122.96 636.21,123.01 637.21,123.05 638.21,123.09 639.21,123.12 640.21,123.15 641.21,123.17 642.21,123.18 643.21,123.18 643.21,131.3 642.21,131.29 641.21,131.28 640.21,131.25 639.21,131.22 638.21,131.18 637.21,131.14 636.21,131.08 635.21,131.03 634.21,130.97 633.21,130.88 632.21,130.74 631.21,130.58 630.21,130.39 629.21,130.19 628.21,130 627.21,129.83 626.21,129.68 625.21,129.56 624.21,129.43 623.21,129.31 622.21,129.19 621.21,129.07 620.21,128.95 619.21,128.84 618.21,128.73 617.21,128.63 616.21,128.53 615.21,128.44 614.21,128.35 613.21,128.27 612.21,128.2 611.21,128.13 610.21,128.07 609.21,128.01 608.21,127.97 607.21,127.93 606.21,127.89 605.21,127.86 604.21,127.83 603.21,127.79 602.21,127.75 601.21,127.7 600.21,127.64 599.21,127.57 598.21,127.51 597.21,127.44 596.21,127.38 595.21,127.32 594.21,127.26 593.21,127.22 592.21,127.18 591.21,127.14 590.21,127.09 589.21,127.05 588.21,127.01 587.21,126.97 586.21,126.93 585.21,126.9 584.21,126.87 583.21,126.84 582.21,126.81 581.21,126.79 580.21,126.77 579.21,126.76 578.21,126.75 577.21,126.76 576.21,126.83 575.21,126.97 574.21,127.17 573.21,127.41 572.21,127.67 571.21,127.94 570.21,128.19 569.21,128.41 568.21,128.63 567.21,128.89 566.21,129.15 565.21,129.41 564.21,129.64 563.21,129.83 562.21,129.96 561.21,130 560.21,129.97 559.21,129.87 558.21,129.73 557.21,129.53 556.21,129.3 555.21,129.03 554.21,128.73 553.21,128.41 552.21,127.86 551.21,126.87 550.21,125.6 549.21,124.19 548.21,122.81 547.21,121.59 546.21,120.7 545.21,120.27 544.21,120.32 543.21,120.49 542.21,120.66 541.21,120.83 540.21,121.02 539.21,121.22 538.21,121.43 537.21,121.65 536.21,121.87 535.21,122.16 534.21,122.51 533.21,122.84 532.21,123.09 531.21,123.18 530.21,123.18 529.21,123.18 528.21,123.18 527.21,123.18 526.21,123.22 525.21,124.18 524.21,125.98 523.21,128 522.21,130.26 521.21,133.07 520.21,136.15 519.21,139.24 518.21,142.13 517.21,145.45 516.21,149 515.21,152.22 514.21,154.52 513.21,155.32 512.21,154.74 511.21,153.39 510.21,151.61 509.21,148.5 508.21,143.79 507.21,138.91 506.21,134.69 505.21,130.44 504.21,126.27 503.21,122.32 502.21,118.74 501.21,115.36 500.21,112.02 499.21,109.14 498.21,107.18 497.21,106.09 496.21,105.15 495.21,104.4 494.21,103.9 493.21,103.7 492.21,106.75 491.21,113.35 490.21,118.27 489.21,118.53 488.21,118.09 487.21,117.42 486.21,116.68 485.21,116 484.21,115.52 483.21,115.4 482.21,115.82 481.21,116.83 480.21,118.43 479.2,120.73 478.2,129.1 477.2,148.3 476.2,149.14 475.2,149.06 474.2,148.91 473.2,148.65 472.2,147.08 471.2,126.71 470.2,125.56 469.2,124.93 468.2,124.67 467.2,124.58 466.2,124.5 465.2,124.44 464.2,124.38 463.2,124.33 462.2,124.29 461.2,124.25 460.2,124.22 459.2,124.2 458.2,124.18 457.2,124.17 456.2,124.16 455.2,124.16 454.2,124.16 453.2,124.18 452.2,124.21 451.2,124.24 450.2,124.27 449.2,124.31 448.2,124.33 447.2,124.35 446.2,124.36 445.2,124.37 444.2,124.38 443.2,124.39 442.2,124.39 441.2,124.4 440.2,124.4 439.2,124.41 438.2,124.41 437.2,124.42 436.2,124.42 435.2,124.43 434.2,124.44 433.2,124.44 432.2,124.45 431.2,124.46 430.2,124.47 429.2,124.48 428.2,124.49 427.2,124.5 426.2,124.52 425.2,124.53 424.2,124.54 423.2,124.56 422.2,124.57 421.2,124.58 420.2,124.59 419.2,124.61 418.2,124.62 417.2,124.63 416.2,124.63 415.2,124.64 414.2,124.65 413.2,124.65 412.2,124.65 411.2,124.65 410.2,124.65 409.2,124.64 408.2,124.63 407.2,124.62 406.2,124.61 405.2,124.59 404.2,124.58 403.2,124.56 402.2,124.54 401.2,124.52 400.2,124.49 399.2,124.47 398.2,124.44 397.2,124.41 396.2,124.38 395.2,124.35 394.2,124.32 393.2,124.28 392.2,124.25" fill="#000000" stroke="#000" stroke-width="0.6"/>
<path d="M466.57 118.54h3.4M467.02 116.74h3.4M467.47 114.71h3.4M470.77 114.43h3.4M471.07 116.26h3.4M471.37 118.32h3.4M471.82 120.1h3.4M472.42 121.61h3.4M473.62 122.4h3.4M473.92 120.18h3.4M474.07 118.57h3.4M474.22 116.76h3.4M474.37 114.84h3.4M474.52 112.89h3.4M474.67 111.01h3.4M474.82 109.29h3.4M474.97 107.76h3.4M475.12 106.18h3.4M475.27 104.53h3.4M475.42 102.85h3.4M475.57 101.16h3.4M475.72 99.5h3.4M475.87 97.89h3.4M476.02 96.37h3.4M476.32 93.7h3.4M476.62 91.67h3.4M476.92 89.8h3.4M477.22 88.07h3.4M477.67 86.01h3.4M482.02 84.61h3.4M482.47 86.18h3.4M482.92 88.26h3.4M483.37 90.13h3.4M492.68 92.02h3.4M493.58 93.85h3.4M494.18 95.49h3.4M494.78 97.33h3.4M495.38 99.24h3.4M495.98 101.09h3.4M496.58 102.8h3.4M497.18 104.51h3.4M497.78 106.27h3.4M498.38 108.05h3.4M498.98 109.87h3.4M499.58 111.71h3.4M500.18 113.56h3.4M500.78 115.41h3.4M501.38 117.29h3.4M501.83 118.88h3.4M502.28 120.64h3.4M502.73 122.5h3.4M503.18 124.41h3.4M503.63 126.32h3.4M504.08 128.17h3.4M504.53 129.9h3.4M504.98 131.46h3.4M505.58 133.18h3.4M507.53 134.26h3.4M508.28 132.41h3.4M508.88 130.45h3.4M509.33 128.89h3.4M509.93 126.96h3.4M510.53 125.3h3.4M511.13 123.62h3.4M511.73 121.91h3.4M512.33 120.19h3.4M512.93 118.48h3.4M513.53 116.81h3.4M514.13 115.18h3.4M514.73 113.54h3.4M515.33 111.82h3.4M515.93 110.15h3.4M516.53 108.64h3.4M517.43 106.94h3.4" stroke="#000" stroke-width="0.8" fill="none"/>
<path d="M469.42 126.59h3.4M469.72 128.49h3.4M469.87 131.53h3.4M470.02 135.42h3.4M470.17 139.61h3.4M470.32 143.51h3.4M470.47 146.56h3.4M470.62 148.21h3.4M475.57 147.26h3.4M475.72 143.94h3.4M475.87 139.92h3.4M476.02 136.04h3.4M476.17 133.16h3.4M476.32 131.28h3.4M476.47 129.48h3.4M476.62 127.77h3.4M476.77 126.18h3.4M477.07 123.41h3.4M477.37 121.36h3.4M477.82 119.86h3.4M478.57 118.3h3.4M488.48 118.34h3.4M488.93 116.75h3.4M489.23 115.12h3.4M489.53 113.22h3.4M489.83 111.17h3.4M490.13 109.13h3.4M490.43 107.22h3.4M490.73 105.6h3.4M491.18 104h3.4M496.58 107.28h3.4M497.48 109.07h3.4M498.08 110.7h3.4M498.68 112.57h3.4M499.28 114.58h3.4M499.73 116.12h3.4M500.18 117.65h3.4M500.78 119.67h3.4M501.23 121.28h3.4M501.68 122.98h3.4M502.13 124.74h3.4M502.58 126.57h3.4M503.03 128.43h3.4M503.48 130.33h3.4M503.93 132.24h3.4M504.38 134.15h3.4M504.83 136.05h3.4M505.28 137.92h3.4M505.73 139.94h3.4M506.18 142.15h3.4M506.48 143.66h3.4M506.93 145.89h3.4M507.38 147.96h3.4M507.83 149.75h3.4M508.43 151.46h3.4M509.33 153.1h3.4M512.48 154.56h3.4M513.23 152.97h3.4M513.83 151.25h3.4M514.43 149.27h3.4M514.88 147.68h3.4M515.33 146.07h3.4M515.78 144.49h3.4M516.23 142.99h3.4M516.83 141.2h3.4M517.43 139.46h3.4M518.03 137.63h3.4M518.63 135.75h3.4M519.23 133.9h3.4M519.83 132.11h3.4M520.43 130.46h3.4M521.18 128.66h3.4M521.93 127.15h3.4M522.68 125.63h3.4M523.58 124.07h3.4M546.54 122.85h3.4M547.74 124.52h3.4M548.94 126.17h3.4" stroke="#000" stroke-width="0.8" fill="none"/>
<polyline points="502.08,131.3 503.08,135.09 504.08,138.52 505.08,141.55 506.08,144.11 507.08,146.16 508.08,148.05 509.08,149.69 510.09,150.67 511.09,150.52 512.09,149.01 513.09,146.53 514.09,143.56 515.09,140.56 516.09,138 517.09,135.74 518.09,133.46 519.09,131.25 520.1,129.16 521.1,127.24 522.1,125.44 523.1,123.77 524.1,122.29 525.1,120.94 526.1,119.72 527.1,118.75 528.1,118 529.1,117.36 530.11,116.83 531.11,116.42 532.11,116.12 533.11,115.85 534.11,115.61 535.11,115.45 536.11,115.39 537.11,115.39 538.11,115.39 539.11,115.39 540.11,115.39 541.12,115.39 542.12,115.39 543.12,115.39 544.12,115.39 545.12,115.39 546.12,115.53 547.12,115.86 548.12,116.33 549.12,116.9 550.12,117.51 551.13,118.12 552.13,118.67 553.13,119.13 554.13,119.52 555.13,119.91 556.13,120.29 557.13,120.66 558.13,121.01 559.13,121.33 560.13,121.62 561.13,121.86 562.14,122.08 563.14,122.28 564.14,122.48 565.14,122.66 566.14,122.82 567.14,122.97 568.14,123.08 569.14,123.17 570.14,123.23 571.14,123.28 572.15,123.33 573.15,123.37 574.15,123.41 575.15,123.44 576.15,123.47 577.15,123.5 578.15,123.52 579.15,123.55 580.15,123.57 581.15,123.59 582.16,123.61 583.16,123.63 584.16,123.64 585.16,123.66 586.16,123.67 587.16,123.69 588.16,123.71 589.16,123.72 590.16,123.74 591.16,123.76 592.16,123.79 593.17,123.82 594.17,123.85 595.17,123.88 596.17,123.92 597.17,123.97 598.17,124.02 599.17,124.07 600.17,124.13 601.17,124.19 602.17,124.25 603.18,124.32 604.18,124.38 605.18,124.45 606.18,124.53 607.18,124.6 608.18,124.67 609.18,124.75 610.18,124.82 611.18,124.91 612.18,125 613.19,125.1 614.19,125.2 615.19,125.31 616.19,125.42 617.19,125.54 618.19,125.65 619.19,125.77 620.19,125.88 621.19,125.99 622.19,126.09 623.19,126.19 624.2,126.28 625.2,126.36 626.2,126.43 627.2,126.49 628.2,126.56 629.2,126.62 630.2,126.68 631.2,126.74 632.2,126.8 633.2,126.85 634.21,126.9 635.21,126.95 636.21,127 637.21,127.05 638.21,127.09 639.21,127.12 640.21,127.16 641.21,127.19 642.21,127.22 643.21,127.24" fill="none" stroke="#555555" stroke-width="1.9" stroke-linejoin="round" stroke-linecap="round"/>
<polygon points="392.2,119.25 393.2,119.28 394.2,119.32 395.2,119.35 396.2,119.38 397.2,119.41 398.2,119.44 399.2,119.47 400.2,119.49 401.2,119.52 402.2,119.54 403.2,119.56 404.2,119.58 405.2,119.59 406.2,119.61 407.2,119.62 408.2,119.63 409.2,119.64 410.2,119.65 411.2,119.65 412.2,119.65 413.2,119.65 414.2,119.65 415.2,119.64 416.2,119.64 417.2,119.63 418.2,119.62 419.2,119.61 420.2,119.6 421.2,119.59 422.2,119.58 423.2,119.57 424.2,119.55 425.2,119.54 426.2,119.53 427.2,119.51 428.2,119.5 429.2,119.49 430.2,119.47 431.2,119.46 432.2,119.45 433.2,119.44 434.2,119.43 435.2,119.41 436.2,119.4 437.2,119.39 438.2,119.38 439.2,119.36 440.2,119.35 441.2,119.34 442.2,119.32 443.2,119.31 444.2,119.29 445.2,119.28 446.2,119.26 447.2,119.25 448.2,119.23 449.2,119.21 450.2,119.19 451.2,119.17 452.2,119.15 453.2,119.14 454.2,119.13 455.2,119.12 456.2,119.12 457.2,119.12 458.2,119.12 459.2,119.12 460.2,119.12 461.2,119.12 462.2,119.12 463.2,119.12 464.2,119.12 465.2,119.12 466.2,119.12 467.2,119.12 468.2,118.96 469.2,115.79 470.2,114.25 471.2,114.25 472.2,114.51 473.2,119.99 474.2,122.16 475.2,123.17 476.2,116.65 477.2,105.66 478.2,95.1 479.2,87.42 480.21,83.41 481.21,83.41 482.21,83.41 483.21,83.41 484.21,86.45 485.21,91.16 486.21,93.32 487.21,93.2 488.21,92.02 489.21,92.03 490.21,92.09 491.21,92.22 492.21,92.41 493.21,92.69 494.21,95.71 495.21,101.1 496.21,107.08 497.21,110.97 498.21,114.44 499.21,118.26 500.21,122.2 501.21,126.22 502.21,130.54 503.21,134.48 504.21,137.45 505.21,139.99 506.21,142.29 507.21,144.55 508.21,146.87 509.21,149.03 510.21,150.8 511.21,152.36 512.21,153.72 513.21,154.35 514.21,153.56 515.21,151.28 516.21,148.09 517.21,144.53 518.21,141.18 519.21,138.28 520.21,135.33 521.21,132.31 522.21,129.26 523.21,126.21 524.21,123.19 525.21,120.25 526.21,117.34 527.21,114.39 528.21,111.31 529.21,107.92 530.21,104.37 531.21,101.04 532.21,98.68 533.21,97.31 534.21,96.28 535.21,95.64 536.21,95.3 537.21,95 538.21,94.76 539.21,94.58 540.21,94.48 541.21,94.45 542.21,94.57 543.21,94.83 544.21,95.21 545.21,95.71 546.21,96.77 547.21,98.41 548.21,100.87 549.21,104.62 550.21,108.58 551.21,111.85 552.21,114.94 553.21,117.84 554.21,120.4 555.21,122.53 556.21,124.59 557.21,126.41 558.21,127.68 559.21,128.19 560.21,128.49 561.21,128.71 562.21,128.84 563.21,128.85 564.21,128.69 565.21,128.37 566.21,127.96 567.21,127.49 568.21,126.98 569.21,126.3 570.21,125.47 571.21,124.54 572.21,123.56 573.21,122.56 574.21,121.47 575.21,120.29 576.21,119.07 577.21,117.82 578.21,116.53 579.21,115.14 580.21,113.72 581.21,112.36 582.21,111.15 583.21,109.98 584.21,108.77 585.21,107.78 586.21,107.29 587.21,107.27 588.21,107.27 589.21,107.27 590.21,107.27 591.21,107.27 592.21,107.65 593.21,108.62 594.21,109.83 595.21,110.91 596.21,111.73 597.21,112.53 598.21,113.29 599.21,114.04 600.21,114.76 601.21,115.46 602.21,116.15 603.21,116.83 604.21,117.51 605.21,118.17 606.21,118.8 607.21,119.38 608.21,119.89 609.21,120.36 610.21,120.81 611.21,121.24 612.21,121.63 613.21,121.97 614.21,122.24 615.21,122.45 616.21,122.63 617.21,122.8 618.21,122.95 619.21,123.07 620.21,123.15 621.21,123.18 622.21,123.04 623.21,122.61 624.21,122.01 625.21,121.34 626.21,120.72 627.21,120.07 628.21,119.34 629.21,118.6 630.21,117.93 631.21,117.42 632.21,117.01 633.21,116.64 634.21,116.32 635.21,116.04 636.21,115.81 637.21,115.6 638.21,115.4 639.21,115.21 640.21,115.05 641.21,114.91 642.21,114.81 643.21,114.74 643.21,126.43 642.21,126.92 641.21,127.41 640.21,127.88 639.21,128.35 638.21,128.8 637.21,129.25 636.21,129.68 635.21,130.1 634.21,130.52 633.21,130.93 632.21,131.33 631.21,131.73 630.21,132.1 629.21,132.46 628.21,132.79 627.21,133.1 626.21,133.43 625.21,133.77 624.21,134.07 623.21,134.32 622.21,134.49 621.21,134.55 620.21,134.51 619.21,134.42 618.21,134.3 617.21,134.14 616.21,133.98 615.21,133.8 614.21,133.63 613.21,133.43 612.21,133.19 611.21,132.94 610.21,132.67 609.21,132.38 608.21,132.08 607.21,131.77 606.21,131.45 605.21,131.1 604.21,130.72 603.21,130.31 602.21,129.86 601.21,129.33 600.21,128.59 599.21,127.78 598.21,127.04 597.21,126.51 596.21,126.24 595.21,126 594.21,125.81 593.21,125.67 592.21,125.62 591.21,125.79 590.21,126.33 589.21,127.09 588.21,127.9 587.21,128.78 586.21,129.9 585.21,131.16 584.21,132.45 583.21,133.65 582.21,134.66 581.21,135.51 580.21,136.29 579.21,137.03 578.21,137.73 577.21,138.43 576.21,139.14 575.21,139.92 574.21,140.81 573.21,141.73 572.21,142.62 571.21,143.4 570.21,143.99 569.21,144.32 568.21,144.52 567.21,144.7 566.21,144.85 565.21,144.97 564.21,145.05 563.21,145.09 562.21,145.03 561.21,144.72 560.21,144.2 559.21,143.54 558.21,142.82 557.21,142.01 556.21,140.93 555.21,139.6 554.21,138.06 553.21,136.34 552.21,134.18 551.21,131.39 550.21,128.31 549.21,125.25 548.21,121.99 547.21,118.27 546.21,114.92 545.21,112.83 544.21,112.1 543.21,111.55 542.21,111.17 541.21,111.01 540.21,111.08 539.21,111.36 538.21,111.82 537.21,112.46 536.21,114.03 535.21,117.42 534.21,121.19 533.21,125.37 532.21,130.69 531.21,139.26 530.21,148.09 529.21,155.19 528.21,157.67 527.21,158.81 526.21,159.75 525.21,161.17 524.21,163 523.21,165.32 522.21,168.95 521.21,173.36 520.21,177.05 519.21,180.6 518.21,183.54 517.21,185.24 516.21,186.42 515.21,187.37 514.21,187.97 513.21,188.11 512.21,188.05 511.21,187.92 510.21,187.72 509.21,187.48 508.21,187.19 507.21,186.69 506.21,185.96 505.21,185.02 504.21,183.89 503.21,182.47 502.21,180.24 501.21,177.3 500.21,173.91 499.21,170.19 498.21,165.58 497.21,160.25 496.21,154.53 495.21,148 494.21,141.07 493.21,133.96 492.21,126.78 491.21,121.85 490.21,118.57 489.21,118.41 488.21,118.75 487.21,119.06 486.21,118.96 485.21,117.72 484.21,116.07 483.21,114.89 482.21,114 481.21,113.47 480.21,115.41 479.2,120.73 478.2,127.93 477.2,144.65 476.2,148.33 475.2,148.25 474.2,148.08 473.2,147.8 472.2,144.18 471.2,126.39 470.2,125.34 469.2,124.76 468.2,124.5 467.2,124.42 466.2,124.34 465.2,124.28 464.2,124.22 463.2,124.17 462.2,124.12 461.2,124.09 460.2,124.06 459.2,124.03 458.2,124.02 457.2,124 456.2,124 455.2,123.99 454.2,124 453.2,124.04 452.2,124.09 451.2,124.15 450.2,124.22 449.2,124.28 448.2,124.32 447.2,124.35 446.2,124.36 445.2,124.37 444.2,124.38 443.2,124.39 442.2,124.4 441.2,124.4 440.2,124.41 439.2,124.41 438.2,124.42 437.2,124.42 436.2,124.43 435.2,124.43 434.2,124.44 433.2,124.44 432.2,124.45 431.2,124.46 430.2,124.47 429.2,124.48 428.2,124.49 427.2,124.5 426.2,124.52 425.2,124.53 424.2,124.54 423.2,124.56 422.2,124.57 421.2,124.58 420.2,124.59 419.2,124.61 418.2,124.62 417.2,124.63 416.2,124.63 415.2,124.64 414.2,124.65 413.2,124.65 412.2,124.65 411.2,124.65 410.2,124.65 409.2,124.64 408.2,124.63 407.2,124.62 406.2,124.61 405.2,124.59 404.2,124.58 403.2,124.56 402.2,124.54 401.2,124.52 400.2,124.49 399.2,124.47 398.2,124.44 397.2,124.41 396.2,124.38 395.2,124.35 394.2,124.32 393.2,124.28 392.2,124.25" fill="#686868" stroke="#686868" stroke-width="0.6"/>
<path d="M466.57 118.85h3.4M467.17 117.03h3.4M467.62 115.4h3.4M470.62 114.97h3.4M470.92 116.79h3.4M471.22 118.79h3.4M471.67 120.4h3.4M472.42 122.01h3.4M473.77 122.85h3.4M474.07 121.06h3.4M474.37 118.16h3.4M474.52 116.45h3.4M474.67 114.67h3.4M474.82 112.88h3.4M474.97 111.13h3.4M475.12 109.5h3.4M475.42 106.53h3.4M475.57 104.95h3.4M475.72 103.32h3.4M475.87 101.67h3.4M476.02 100.03h3.4M476.17 98.42h3.4M476.32 96.87h3.4M476.62 94.05h3.4M476.92 91.74h3.4M477.22 89.49h3.4M477.52 87.3h3.4M477.82 85.39h3.4M478.27 83.61h3.4M482.02 84h3.4M482.47 86.25h3.4M482.77 88.1h3.4M483.07 89.75h3.4M483.67 91.6h3.4M484.42 93.2h3.4M485.62 93.04h3.4M491.78 93.11h3.4M492.38 95.17h3.4M492.83 97.06h3.4M493.13 98.65h3.4M493.43 100.56h3.4M493.73 102.6h3.4M494.03 104.56h3.4M494.33 106.25h3.4M494.78 108.23h3.4M495.23 109.97h3.4M495.68 111.57h3.4M496.13 113.11h3.4M496.58 114.7h3.4M497.03 116.4h3.4M497.48 118.15h3.4M497.93 119.91h3.4M498.38 121.69h3.4M498.83 123.48h3.4M499.28 125.28h3.4M499.73 127.16h3.4M500.18 129.12h3.4M500.63 131.07h3.4M501.08 132.91h3.4M501.53 134.55h3.4M502.13 136.4h3.4M502.73 138.05h3.4M503.33 139.56h3.4M504.08 141.32h3.4M504.83 143.01h3.4M505.58 144.72h3.4M506.33 146.47h3.4M507.08 148.15h3.4M507.83 149.66h3.4M508.88 151.37h3.4M509.93 152.99h3.4M512.48 153.6h3.4M513.23 152.03h3.4M513.83 150.32h3.4M514.43 148.35h3.4M514.88 146.76h3.4M515.33 145.15h3.4M515.78 143.56h3.4M516.23 142.04h3.4M516.83 140.22h3.4M517.43 138.5h3.4M518.03 136.74h3.4M518.63 134.95h3.4M519.23 133.15h3.4M519.83 131.32h3.4M520.43 129.49h3.4M521.03 127.66h3.4M521.63 125.83h3.4M522.23 124.01h3.4M522.83 122.22h3.4M523.43 120.46h3.4M524.03 118.72h3.4M524.63 116.97h3.4M525.23 115.21h3.4M525.83 113.4h3.4M526.43 111.54h3.4M527.03 109.6h3.4M527.49 108.01h3.4M527.94 106.35h3.4M528.39 104.76h3.4M528.99 102.76h3.4M529.59 100.8h3.4M530.19 99.24h3.4M531.24 97.65h3.4M544.44 96.68h3.4M545.49 98.37h3.4M546.24 100.04h3.4M546.84 102.02h3.4M547.29 103.74h3.4M547.74 105.56h3.4M548.19 107.36h3.4M548.64 109.05h3.4M549.24 111h3.4M549.84 112.88h3.4M550.44 114.73h3.4M551.04 116.52h3.4M551.64 118.2h3.4M552.24 119.76h3.4M552.99 121.46h3.4M553.74 123.02h3.4M554.49 124.56h3.4M555.39 126.22h3.4M576.25 116.88h3.4M577.45 115.23h3.4M578.65 113.53h3.4" stroke="#686868" stroke-width="0.8" fill="none"/>
<path d="M469.57 126.52h3.4M469.87 130.16h3.4M470.02 133.3h3.4M470.17 136.82h3.4M470.32 140.36h3.4M470.47 143.54h3.4M470.62 146h3.4M470.92 147.57h3.4M475.42 146.33h3.4M475.57 143.08h3.4M475.72 139.23h3.4M475.87 135.6h3.4M476.02 132.99h3.4M476.17 131.28h3.4M476.32 129.7h3.4M476.62 126.89h3.4M476.92 124.49h3.4M477.22 122.43h3.4M477.52 120.64h3.4M477.82 119h3.4M478.12 117.34h3.4M478.42 115.79h3.4M478.87 114.04h3.4M482.32 115.79h3.4M483.37 117.51h3.4M488.63 118.8h3.4M489.23 120.71h3.4M489.68 122.56h3.4M490.13 124.57h3.4M490.43 126.28h3.4M490.73 128.24h3.4M491.03 130.37h3.4M491.33 132.6h3.4M491.63 134.86h3.4M491.93 137.08h3.4M492.23 139.18h3.4M492.53 141.21h3.4M492.83 143.28h3.4M493.13 145.36h3.4M493.43 147.45h3.4M493.73 149.51h3.4M494.03 151.51h3.4M494.33 153.43h3.4M494.63 155.25h3.4M494.93 156.97h3.4M495.23 158.68h3.4M495.53 160.37h3.4M495.83 162.02h3.4M496.13 163.63h3.4M496.43 165.18h3.4M496.88 167.39h3.4M497.33 169.43h3.4M497.78 171.27h3.4M498.23 172.91h3.4M498.68 174.51h3.4M499.13 176.06h3.4M499.73 178h3.4M500.33 179.76h3.4M500.93 181.28h3.4M501.83 183.01h3.4M515.93 184.68h3.4M516.68 183.1h3.4M517.28 181.34h3.4M517.73 179.82h3.4M518.18 178.22h3.4M518.63 176.59h3.4M519.08 175h3.4M519.53 173.25h3.4M519.98 171.28h3.4M520.43 169.27h3.4M520.88 167.39h3.4M521.33 165.81h3.4M521.93 164.26h3.4M522.68 162.65h3.4M523.58 161.05h3.4M526.43 157.78h3.4M527.34 155.94h3.4M527.79 153.58h3.4M528.09 151.44h3.4M528.39 149.08h3.4M528.69 146.69h3.4M528.99 144.29h3.4M529.29 141.48h3.4M529.59 138.48h3.4M529.89 135.53h3.4M530.19 132.91h3.4M530.49 130.83h3.4M530.79 129.06h3.4M531.09 127.44h3.4M531.54 125.24h3.4M531.99 123.26h3.4M532.44 121.46h3.4M532.89 119.78h3.4M533.34 118.08h3.4M533.79 116.38h3.4M534.24 114.83h3.4M534.84 113.25h3.4M543.69 113.08h3.4M544.44 114.73h3.4M545.04 116.6h3.4M545.49 118.2h3.4M545.94 119.88h3.4M546.39 121.56h3.4M546.84 123.16h3.4M547.44 125.04h3.4M548.04 126.85h3.4M548.64 128.72h3.4M549.24 130.58h3.4M549.84 132.37h3.4M550.44 134h3.4M551.19 135.73h3.4M552.09 137.36h3.4M553.14 139.06h3.4" stroke="#686868" stroke-width="0.8" fill="none"/>
<polyline points="392.2,121.65 393.2,121.69 394.2,121.73 395.2,121.77 396.2,121.81 397.2,121.85 398.2,121.88 399.2,121.92 400.2,121.95 401.2,121.98 402.2,122.01 403.2,122.03 404.2,122.06 405.2,122.08 406.2,122.1 407.2,122.11 408.2,122.13 409.2,122.14 410.2,122.14 411.2,122.15 412.2,122.15 413.2,122.15 414.2,122.15 415.2,122.14 416.2,122.14 417.2,122.13 418.2,122.12 419.2,122.11 420.2,122.1 421.2,122.09 422.2,122.08 423.2,122.07 424.2,122.05 425.2,122.04 426.2,122.03 427.2,122.01 428.2,122 429.2,121.99 430.2,121.97 431.2,121.96 432.2,121.95 433.2,121.94 434.2,121.93 435.2,121.92 436.2,121.9 437.2,121.89 438.2,121.88 439.2,121.87 440.2,121.86 441.2,121.84 442.2,121.83 443.2,121.81 444.2,121.8 445.2,121.78 446.2,121.77 447.2,121.75 448.2,121.73 449.2,121.7 450.2,121.67 451.2,121.63 452.2,121.6 453.2,121.58 454.2,121.56 455.2,121.56 456.2,121.56 457.2,121.56 458.2,121.56 459.2,121.56 460.2,121.56 461.2,121.56 462.2,121.56 463.2,121.56 464.2,121.56 465.2,121.56 466.2,121.56 467.2,121.56 468.2,121.55 469.2,121.4 470.2,121.24 471.2,121.76 472.2,123.67 473.2,130.61 474.2,134.12 475.2,135.35 476.2,132.48 477.2,123.19 478.2,111.23 479.2,101.25 480.21,96.94 481.21,95.62 482.21,96.34 483.21,97.72 484.21,101.01 485.21,104.14 486.21,106.55 487.21,106.25 488.21,103.81 489.21,102.49 490.21,102.24 491.21,104.4 492.21,108.27 493.21,114.79 494.21,121.52 495.21,128.41 496.21,135.04 497.21,140.77 498.21,146.1 499.21,150.71 500.21,154.4 501.21,157.69 502.21,160.54 503.21,162.86 504.21,164.59 505.21,166.09 506.21,167.39 507.21,168.45 508.21,169.24 509.21,169.77 510.21,170.25 511.21,170.65 512.21,170.93 513.21,171.07 514.21,170.96 515.21,170.51 516.21,169.83 517.21,168.83 518.21,166.77 519.21,164.1 520.21,161.42 521.21,158.49 522.21,155.35 523.21,152.33 524.21,149.67 525.21,147.11 526.21,144.2 527.21,140.55 528.21,136.13 529.21,131.05 530.21,124.72 531.21,118.76 532.21,114.01 533.21,110.03 534.21,107.55 535.21,105.69 536.21,104.33 537.21,103.58 538.21,103.09 539.21,102.71 540.21,102.47 541.21,102.41 542.21,102.86 543.21,103.87 544.21,105.34 545.21,107.14 546.21,109.16 547.21,111.27 548.21,113.36 549.21,115.79 550.21,118.76 551.21,121.84 552.21,124.58 553.21,126.95 554.21,129.26 555.21,131.27 556.21,132.76 557.21,133.77 558.21,134.69 559.21,135.45 560.21,135.97 561.21,136.17 562.21,136.15 563.21,136.11 564.21,136.04 565.21,135.94 566.21,135.83 567.21,135.53 568.21,134.98 569.21,134.28 570.21,133.51 571.21,132.74 572.21,131.9 573.21,130.93 574.21,129.9 575.21,128.82 576.21,127.74 577.21,126.69 578.21,125.67 579.21,124.61 580.21,123.55 581.21,122.5 582.21,121.49 583.21,120.56 584.21,119.73 585.21,118.88 586.21,118.05 587.21,117.33 588.21,116.84 589.21,116.64 590.21,116.54 591.21,116.46 592.21,116.4 593.21,116.37 594.21,116.42 595.21,116.79 596.21,117.41 597.21,118.15 598.21,118.88 599.21,119.56 600.21,120.3 601.21,121.1 602.21,121.91 603.21,122.7 604.21,123.44 605.21,124.08 606.21,124.67 607.21,125.24 608.21,125.78 609.21,126.28 610.21,126.73 611.21,127.12 612.21,127.46 613.21,127.81 614.21,128.14 615.21,128.44 616.21,128.67 617.21,128.82 618.21,128.86 619.21,128.86 620.21,128.86 621.21,128.86 622.21,128.86 623.21,128.85 624.21,128.63 625.21,128.2 626.21,127.62 627.21,126.96 628.21,126.31 629.21,125.72 630.21,125.21 631.21,124.68 632.21,124.15 633.21,123.63 634.21,123.13 635.21,122.66 636.21,122.25 637.21,121.86 638.21,121.48 639.21,121.13 640.21,120.79 641.21,120.48 642.21,120.19 643.21,119.94" fill="none" stroke="#ababab" stroke-width="1.9" stroke-linejoin="round" stroke-linecap="round"/>
</g>
<path d="M392.2 37.25V205.2H643.45" fill="none" stroke="#000" stroke-width="2.5" stroke-linejoin="miter"/>
<line x1="385" y1="38.5" x2="392.2" y2="38.5" stroke="#000" stroke-width="2.4"/>
<text class="tick" x="382.8" y="44.1" text-anchor="end">0.2</text>
<line x1="385" y1="80.17" x2="392.2" y2="80.17" stroke="#000" stroke-width="2.4"/>
<text class="tick" x="382.8" y="85.77" text-anchor="end">0.1</text>
<line x1="385" y1="121.85" x2="392.2" y2="121.85" stroke="#000" stroke-width="2.4"/>
<text class="tick" x="382.8" y="127.45" text-anchor="end">0.0</text>
<line x1="385" y1="163.52" x2="392.2" y2="163.52" stroke="#000" stroke-width="2.4"/>
<text class="tick" x="382.8" y="169.12" text-anchor="end">-0.1</text>
<line x1="385" y1="205.2" x2="392.2" y2="205.2" stroke="#000" stroke-width="2.4"/>
<text class="tick" x="382.8" y="210.8" text-anchor="end">-0.2</text>
<line x1="392.2" y1="205.2" x2="392.2" y2="212.4" stroke="#000" stroke-width="2.4"/>
<text class="tick" text-anchor="end" transform="translate(392.7 223) rotate(-45)" x="0" y="5.4">-0.200</text>
<line x1="427.95" y1="205.2" x2="427.95" y2="212.4" stroke="#000" stroke-width="2.4"/>
<text class="tick" text-anchor="end" transform="translate(428.45 223) rotate(-45)" x="0" y="5.4">-0.100</text>
<line x1="463.7" y1="205.2" x2="463.7" y2="212.4" stroke="#000" stroke-width="2.4"/>
<text class="tick" text-anchor="end" transform="translate(464.2 223) rotate(-45)" x="0" y="5.4">0.000</text>
<line x1="499.45" y1="205.2" x2="499.45" y2="212.4" stroke="#000" stroke-width="2.4"/>
<text class="tick" text-anchor="end" transform="translate(499.95 223) rotate(-45)" x="0" y="5.4">0.100</text>
<line x1="535.2" y1="205.2" x2="535.2" y2="212.4" stroke="#000" stroke-width="2.4"/>
<text class="tick" text-anchor="end" transform="translate(535.7 223) rotate(-45)" x="0" y="5.4">0.200</text>
<line x1="570.95" y1="205.2" x2="570.95" y2="212.4" stroke="#000" stroke-width="2.4"/>
<text class="tick" text-anchor="end" transform="translate(571.45 223) rotate(-45)" x="0" y="5.4">0.300</text>
<line x1="606.7" y1="205.2" x2="606.7" y2="212.4" stroke="#000" stroke-width="2.4"/>
<text class="tick" text-anchor="end" transform="translate(607.2 223) rotate(-45)" x="0" y="5.4">0.400</text>
</g>
<g class="panel" id="p-white">
<text class="title" x="186.82" y="299.2" text-anchor="middle">White</text>
<line x1="62.05" y1="407.65" x2="311.95" y2="407.65" stroke="#000" stroke-width="1.4" stroke-dasharray="1.5 3.45"/>
<clipPath id="clip-white"><rect x="61.7" y="324" width="251.75" height="167.8"/></clipPath>
<g clip-path="url(#clip-white)">
<polygon points="61.7,405.05 62.7,405.1 63.7,405.15 64.71,405.2 65.71,405.24 66.71,405.28 67.71,405.33 68.71,405.37 69.72,405.41 70.72,405.44 71.72,405.48 72.72,405.51 73.72,405.54 74.73,405.56 75.73,405.58 76.73,405.6 77.73,405.62 78.73,405.63 79.74,405.64 80.74,405.65 81.74,405.65 82.74,405.65 83.75,405.64 84.75,405.64 85.75,405.63 86.75,405.62 87.75,405.61 88.76,405.59 89.76,405.58 90.76,405.56 91.76,405.55 92.76,405.53 93.77,405.52 94.77,405.51 95.77,405.49 96.77,405.48 97.77,405.47 98.78,405.46 99.78,405.46 100.78,405.45 101.78,405.45 102.78,405.45 103.79,405.45 104.79,405.46 105.79,405.46 106.79,405.47 107.79,405.47 108.8,405.48 109.8,405.49 110.8,405.49 111.8,405.5 112.8,405.51 113.81,405.52 114.81,405.52 115.81,405.53 116.81,405.54 117.81,405.54 118.82,405.54 119.82,405.55 120.82,405.55 121.82,405.55 122.82,405.55 123.83,405.55 124.83,405.54 125.83,405.53 126.83,405.52 127.84,405.51 128.84,405.5 129.84,405.48 130.84,405.46 131.84,405.43 132.85,405.4 133.85,405.37 134.85,405.33 135.85,405.28 136.85,405.14 137.86,404.39 138.86,403.26 139.86,401.96 140.86,400.01 141.86,399.8 142.87,400.15 143.87,400.74 144.87,403.55 145.87,403.29 146.87,395.02 147.88,387.99 148.88,381.62 149.88,379.5 150.88,379.01 151.88,378.96 152.89,378.96 153.89,378.96 154.89,378.96 155.89,379.19 156.89,379.66 157.9,379.28 158.9,376.17 159.9,374.16 160.9,372.87 161.9,372.47 162.91,372.47 163.91,372.47 164.91,372.59 165.91,374.46 166.92,377.53 167.92,380.62 168.92,384.15 169.92,388.07 170.92,392.04 171.93,396.04 172.93,400.13 173.93,404.05 174.93,407.92 175.93,411.54 176.94,414.33 177.94,416.91 178.94,419.16 179.94,420.59 180.94,420.73 181.95,419.64 182.95,417.76 183.95,415.5 184.95,413.28 185.95,411.1 186.96,408.62 187.96,406.07 188.96,403.67 189.96,401.29 190.96,398.84 191.97,397.11 192.97,396.61 193.97,396.32 194.97,396.12 195.97,396.02 196.98,396.03 197.98,396.19 198.98,396.43 199.98,396.69 200.98,396.94 201.99,397.22 202.99,397.52 203.99,397.83 204.99,398.13 206,398.4 207,398.63 208,398.85 209,399.07 210,399.27 211.01,399.46 212.01,399.65 213.01,399.83 214.01,400.02 215.01,400.18 216.02,400.3 217.02,400.39 218.02,400.48 219.02,400.6 220.02,400.76 221.03,401 222.03,401.34 223.03,404.05 224.03,404.33 225.03,404.52 226.04,404.67 227.04,404.77 228.04,404.85 229.04,404.9 230.04,404.93 231.05,404.93 232.05,404.92 233.05,404.87 234.05,404.8 235.05,404.73 236.06,404.66 237.06,404.62 238.06,404.61 239.06,404.63 240.06,404.68 241.07,404.73 242.07,404.79 243.07,404.85 244.07,404.9 245.07,404.93 246.08,404.94 247.08,404.94 248.08,404.94 249.08,404.94 250.09,404.94 251.09,404.94 252.09,404.94 253.09,404.94 254.09,404.94 255.1,404.94 256.1,404.94 257.1,404.95 258.1,404.97 259.1,405 260.11,405.04 261.11,405.09 262.11,405.15 263.11,405.21 264.11,405.28 265.12,405.36 266.12,405.44 267.12,405.52 268.12,405.61 269.12,405.69 270.13,405.78 271.13,405.87 272.13,405.96 273.13,406.05 274.13,406.13 275.14,406.22 276.14,406.3 277.14,406.37 278.14,406.45 279.14,406.51 280.15,406.57 281.15,406.63 282.15,406.68 283.15,406.74 284.15,406.79 285.16,406.85 286.16,406.9 287.16,406.96 288.16,407.01 289.17,407.07 290.17,407.12 291.17,407.17 292.17,407.22 293.17,407.28 294.18,407.33 295.18,407.38 296.18,407.43 297.18,407.48 298.18,407.53 299.19,407.57 300.19,407.62 301.19,407.67 302.19,407.71 303.19,407.76 304.2,407.81 305.2,407.85 306.2,407.89 307.2,407.94 308.2,407.98 309.21,408.02 310.21,408.06 311.21,408.1 312.21,408.14 313.21,408.18 313.21,415.97 312.21,415.97 311.21,415.97 310.21,415.97 309.21,415.97 308.2,415.97 307.2,415.97 306.2,415.97 305.2,415.97 304.2,415.97 303.19,415.97 302.19,415.97 301.19,415.97 300.19,415.97 299.19,415.97 298.18,415.97 297.18,415.97 296.18,415.97 295.18,415.97 294.18,415.97 293.17,415.97 292.17,416 291.17,416.09 290.17,416.23 289.17,416.39 288.16,416.56 287.16,416.7 286.16,416.81 285.16,416.91 284.15,417.01 283.15,417.11 282.15,417.19 281.15,417.25 280.15,417.27 279.14,417.26 278.14,417.2 277.14,417.11 276.14,416.98 275.14,416.84 274.13,416.68 273.13,416.51 272.13,416.35 271.13,416.18 270.13,415.98 269.12,415.75 268.12,415.51 267.12,415.25 266.12,414.98 265.12,414.72 264.11,414.45 263.11,414.2 262.11,413.92 261.11,413.62 260.11,413.32 259.1,413.03 258.1,412.76 257.1,412.52 256.1,412.32 255.1,412.17 254.09,412.02 253.09,411.88 252.09,411.75 251.09,411.64 250.09,411.54 249.08,411.48 248.08,411.44 247.08,411.43 246.08,411.45 245.07,411.48 244.07,411.52 243.07,411.57 242.07,411.64 241.07,411.71 240.06,411.78 239.06,411.86 238.06,411.93 237.06,412 236.06,412.07 235.05,412.13 234.05,412.18 233.05,412.21 232.05,412.23 231.05,412.24 230.04,412.24 229.04,412.24 228.04,412.24 227.04,412.24 226.04,412.24 225.03,412.24 224.03,412.24 223.03,412.24 222.03,412.08 221.03,412.12 220.02,412.23 219.02,412.39 218.02,412.59 217.02,412.81 216.02,413.03 215.01,413.33 214.01,413.75 213.01,414.2 212.01,414.54 211.01,414.67 210,414.3 209,413.45 208,412.46 207,411.68 206,411.43 204.99,411.46 203.99,411.54 202.99,411.65 201.99,411.8 200.98,411.97 199.98,412.17 198.98,412.44 197.98,412.9 196.98,413.55 195.97,414.35 194.97,415.48 193.97,417.41 192.97,419.82 191.97,422.35 190.96,424.64 189.96,427.09 188.96,429.81 187.96,432.43 186.96,434.59 185.95,435.89 184.95,436.01 183.95,435.19 182.95,433.73 181.95,431.88 180.94,429.89 179.94,428.01 178.94,425.98 177.94,423.72 176.94,421.28 175.93,418.74 174.93,416.16 173.93,413.62 172.93,410.89 171.93,407.59 170.92,404.2 169.92,401.21 168.92,399.13 167.92,398.44 166.92,398.74 165.91,399.39 164.91,400.24 163.91,401.12 162.91,401.85 161.9,402.43 160.9,402.98 159.9,403.59 158.9,404.35 157.9,405.43 156.89,407.37 155.89,409.7 154.89,411.67 153.89,413.59 152.89,414.91 151.88,414.96 150.88,414.82 149.88,414.7 148.88,415.12 147.88,417.97 146.87,426.74 145.87,430.09 144.87,429.97 143.87,429.68 142.87,429.19 141.86,428.45 140.86,415.39 139.86,411.57 138.86,411.34 137.86,411.21 136.85,411.13 135.85,411.07 134.85,411.02 133.85,410.97 132.85,410.93 131.84,410.89 130.84,410.85 129.84,410.82 128.84,410.79 127.84,410.77 126.83,410.74 125.83,410.72 124.83,410.7 123.83,410.68 122.82,410.67 121.82,410.65 120.82,410.64 119.82,410.62 118.82,410.61 117.81,410.59 116.81,410.58 115.81,410.56 114.81,410.55 113.81,410.54 112.8,410.52 111.8,410.51 110.8,410.5 109.8,410.49 108.8,410.48 107.79,410.47 106.79,410.47 105.79,410.46 104.79,410.46 103.79,410.45 102.78,410.45 101.78,410.45 100.78,410.45 99.78,410.46 98.78,410.46 97.77,410.47 96.77,410.48 95.77,410.49 94.77,410.51 93.77,410.52 92.76,410.53 91.76,410.55 90.76,410.56 89.76,410.58 88.76,410.59 87.75,410.61 86.75,410.62 85.75,410.63 84.75,410.64 83.75,410.64 82.74,410.65 81.74,410.65 80.74,410.65 79.74,410.64 78.73,410.63 77.73,410.62 76.73,410.6 75.73,410.58 74.73,410.56 73.72,410.54 72.72,410.51 71.72,410.48 70.72,410.44 69.72,410.41 68.71,410.37 67.71,410.33 66.71,410.28 65.71,410.24 64.71,410.2 63.7,410.15 62.7,410.1 61.7,410.05" fill="#000000" stroke="#000" stroke-width="0.6"/>
<path d="M138.04 402.17h3.4M138.79 400.67h3.4M142.39 401.1h3.4M142.99 402.95h3.4M143.59 404.51h3.4M144.04 403.97h3.4M144.34 402.19h3.4M144.64 399.72h3.4M144.94 397.01h3.4M145.24 394.52h3.4M145.54 392.53h3.4M145.84 390.45h3.4M146.14 388.26h3.4M146.44 386.1h3.4M146.74 384.08h3.4M147.04 382.31h3.4M147.49 380.4h3.4M156.19 379.29h3.4M156.79 377.53h3.4M157.39 375.6h3.4M158.29 374.02h3.4M163.55 373h3.4M164.3 374.69h3.4M164.9 376.51h3.4M165.5 378.44h3.4M166.1 380.25h3.4M166.7 382.25h3.4M167.15 383.88h3.4M167.6 385.61h3.4M168.05 387.39h3.4M168.5 389.19h3.4M168.95 390.97h3.4M169.4 392.72h3.4M169.85 394.51h3.4M170.3 396.34h3.4M170.75 398.19h3.4M171.2 400.02h3.4M171.65 401.82h3.4M172.1 403.56h3.4M172.55 405.28h3.4M173 407.03h3.4M173.45 408.76h3.4M173.9 410.41h3.4M174.35 411.92h3.4M174.95 413.61h3.4M175.55 415.15h3.4M176.15 416.7h3.4M176.9 418.47h3.4M177.8 420.1h3.4M180.05 419.92h3.4M180.95 418.37h3.4M181.71 416.75h3.4M182.46 415.03h3.4M183.21 413.38h3.4M183.96 411.79h3.4M184.71 410h3.4M185.31 408.49h3.4M185.91 406.96h3.4M186.51 405.45h3.4M187.26 403.68h3.4M188.01 401.93h3.4M188.61 400.41h3.4M189.36 398.63h3.4M220.57 401.66h3.4M221.02 403.23h3.4" stroke="#000" stroke-width="0.8" fill="none"/>
<path d="M138.94 412.76h3.4M139.09 414.37h3.4M139.24 416.49h3.4M139.39 418.91h3.4M139.54 421.43h3.4M139.69 423.84h3.4M139.84 425.95h3.4M139.99 427.53h3.4M144.79 429.56h3.4M145.09 427.51h3.4M145.39 424.59h3.4M145.54 423.02h3.4M145.69 421.5h3.4M145.99 418.96h3.4M146.44 417.09h3.4M147.04 415.4h3.4M151.84 414.18h3.4M152.74 412.53h3.4M153.64 410.86h3.4M154.39 409.24h3.4M155.14 407.49h3.4M155.89 405.93h3.4M167.3 399.25h3.4M168.05 400.77h3.4M168.65 402.4h3.4M169.25 404.28h3.4M169.7 405.79h3.4M170.15 407.33h3.4M170.6 408.86h3.4M171.2 410.8h3.4M171.8 412.54h3.4M172.4 414.05h3.4M173 415.57h3.4M173.6 417.11h3.4M174.2 418.65h3.4M174.8 420.19h3.4M175.4 421.69h3.4M176.15 423.51h3.4M176.9 425.24h3.4M177.65 426.85h3.4M178.55 428.58h3.4M179.45 430.31h3.4M180.35 432.09h3.4M181.26 433.74h3.4M184.86 435.23h3.4M185.76 433.59h3.4M186.51 431.81h3.4M187.11 430.22h3.4M187.71 428.58h3.4M188.31 426.97h3.4M188.91 425.46h3.4M189.66 423.79h3.4M190.41 422h3.4M191.01 420.47h3.4M191.61 418.96h3.4M192.36 417.21h3.4M193.26 415.5h3.4" stroke="#000" stroke-width="0.8" fill="none"/>
<polyline points="173.7,411.43 174.7,413.51 175.71,415.56 176.71,417.58 177.72,419.58 178.72,421.56 179.72,423.51 180.73,425.56 181.73,428.01 182.73,430.13 183.74,431.07 184.74,430.24 185.75,428.11 186.75,425.42 187.75,422.91 188.76,420.42 189.76,417.7 190.76,415.02 191.77,412.64 192.77,410.72 193.78,409.01 194.78,407.46 195.78,406.09 196.79,404.9 197.79,403.71 198.79,402.7 199.8,402.34 200.8,402.59 201.8,403.09 202.81,403.68 203.81,404.15 204.82,404.56 205.82,404.99 206.82,405.41 207.83,405.8 208.83,406.14 209.83,406.39 210.84,406.54 211.84,406.6 212.85,406.65 213.85,406.68 214.85,406.71 215.86,406.73 216.86,406.75 217.86,406.77 218.87,406.8 219.87,406.84 220.87,406.89 221.88,406.98 222.88,407.13 223.89,407.31 224.89,407.52 225.89,407.74 226.9,407.96 227.9,408.16 228.9,408.32 229.91,408.44 230.91,408.5 231.92,408.5 232.92,408.5 233.92,408.48 234.93,408.46 235.93,408.44 236.93,408.41 237.94,408.39 238.94,408.36 239.94,408.33 240.95,408.3 241.95,408.27 242.96,408.24 243.96,408.22 244.96,408.2 245.97,408.19 246.97,408.18 247.97,408.18 248.98,408.2 249.98,408.23 250.99,408.28 251.99,408.34 252.99,408.4 254,408.48 255,408.57 256,408.66 257.01,408.76 258.01,408.87 259.01,408.98 260.02,409.09 261.02,409.2 262.03,409.3 263.03,409.41 264.03,409.52 265.04,409.63 266.04,409.77 267.04,409.92 268.05,410.08 269.05,410.24 270.06,410.42 271.06,410.59 272.06,410.77 273.07,410.93 274.07,411.1 275.07,411.25 276.08,411.39 277.08,411.51 278.09,411.62 279.09,411.7 280.09,411.76 281.1,411.81 282.1,411.86 283.1,411.9 284.11,411.95 285.11,411.99 286.11,412.03 287.12,412.07 288.12,412.1 289.13,412.13 290.13,412.16 291.13,412.18 292.14,412.2 293.14,412.22 294.14,412.23 295.15,412.24 296.15,412.24 297.16,412.24 298.16,412.24 299.16,412.24 300.17,412.24 301.17,412.24 302.17,412.23 303.18,412.23 304.18,412.22 305.18,412.22 306.19,412.21 307.19,412.2 308.2,412.18 309.2,412.17 310.2,412.15 311.21,412.13 312.21,412.1 313.21,412.08" fill="none" stroke="#555555" stroke-width="1.9" stroke-linejoin="round" stroke-linecap="round"/>
<polygon points="61.7,405.05 62.7,405.1 63.7,405.15 64.71,405.2 65.71,405.24 66.71,405.28 67.71,405.33 68.71,405.37 69.72,405.41 70.72,405.44 71.72,405.48 72.72,405.51 73.72,405.54 74.73,405.56 75.73,405.58 76.73,405.6 77.73,405.62 78.73,405.63 79.74,405.64 80.74,405.65 81.74,405.65 82.74,405.65 83.75,405.64 84.75,405.64 85.75,405.63 86.75,405.62 87.75,405.61 88.76,405.59 89.76,405.58 90.76,405.56 91.76,405.55 92.76,405.53 93.77,405.52 94.77,405.51 95.77,405.49 96.77,405.48 97.77,405.47 98.78,405.46 99.78,405.46 100.78,405.45 101.78,405.45 102.78,405.45 103.79,405.45 104.79,405.46 105.79,405.46 106.79,405.47 107.79,405.47 108.8,405.48 109.8,405.49 110.8,405.49 111.8,405.5 112.8,405.51 113.81,405.52 114.81,405.52 115.81,405.53 116.81,405.54 117.81,405.54 118.82,405.54 119.82,405.55 120.82,405.55 121.82,405.55 122.82,405.55 123.83,405.55 124.83,405.55 125.83,405.54 126.83,405.54 127.84,405.53 128.84,405.53 129.84,405.52 130.84,405.51 131.84,405.5 132.85,405.49 133.85,405.47 134.85,405.45 135.85,405.43 136.85,405.31 137.86,404.56 138.86,403.41 139.86,402.14 140.86,400.31 141.86,400.12 142.87,400.45 143.87,401.14 144.87,404.3 145.87,402.49 146.87,393.85 147.88,386.63 148.88,380.42 149.88,378.16 150.88,377.34 151.88,377.34 152.89,377.34 153.89,377.34 154.89,377.34 155.89,377.8 156.89,378.73 157.9,377.94 158.9,372.9 159.9,371.62 160.9,370.97 161.9,370.89 162.91,371.43 163.91,372.41 164.91,375.26 165.91,380.06 166.92,384.27 167.92,388.22 168.92,392.22 169.92,396.38 170.92,400.92 171.93,405.44 172.93,409.39 173.93,412.79 174.93,415.88 175.93,418.75 176.94,421.56 177.94,424.23 178.94,426.62 179.94,428.56 180.94,430.21 181.95,431.64 182.95,432.85 183.95,433.85 184.95,434.69 185.95,434.6 186.96,433.35 187.96,431.26 188.96,428.67 189.96,425.93 190.96,423.37 191.97,420.94 192.97,418.29 193.97,415.54 194.97,412.8 195.97,410.19 196.98,407.84 197.98,405.65 198.98,403.57 199.98,401.61 200.98,399.79 201.99,398.12 202.99,396.62 203.99,395.31 204.99,394.11 206,393.41 207,392.97 208,392.76 209,393.29 210,394.49 211.01,395.19 212.01,395.19 213.01,395.19 214.01,395.19 215.01,395.17 216.02,395.07 217.02,394.95 218.02,394.88 219.02,394.99 220.02,395.51 221.03,396.31 222.03,397.38 223.03,399.13 224.03,400.5 225.03,401.79 226.04,402.98 227.04,404.06 228.04,404.98 229.04,405.84 230.04,406.66 231.05,407.37 232.05,407.92 233.05,408.22 234.05,408.43 235.05,408.61 236.06,408.76 237.06,408.88 238.06,408.95 239.06,408.99 240.06,408.94 241.07,408.7 242.07,408.29 243.07,407.77 244.07,407.17 245.07,406.53 246.08,405.6 247.08,404.32 248.08,402.94 249.08,401.7 250.09,400.51 251.09,399.29 252.09,398.26 253.09,397.65 254.09,397.37 255.1,397.14 256.1,396.96 257.1,396.85 258.1,396.82 259.1,397.05 260.11,397.57 261.11,398.2 262.11,398.78 263.11,399.35 264.11,399.98 265.12,400.59 266.12,401.09 267.12,401.4 268.12,401.6 269.12,401.76 270.13,401.88 271.13,401.99 272.13,402.09 273.13,402.2 274.13,402.34 275.14,402.51 276.14,402.74 277.14,403.02 278.14,403.34 279.14,403.68 280.15,404.02 281.15,404.35 282.15,404.66 283.15,404.93 284.15,405.18 285.16,405.45 286.16,405.71 287.16,405.94 288.16,406.12 289.17,406.22 290.17,406.23 291.17,406.2 292.17,406.13 293.17,406.04 294.18,405.92 295.18,405.78 296.18,405.35 297.18,404.48 298.18,403.76 299.19,403.58 300.19,403.51 301.19,403.44 302.19,403.39 303.19,403.35 304.2,403.33 305.2,403.31 306.2,403.31 307.2,403.32 308.2,403.34 309.21,403.38 310.21,403.42 311.21,403.48 312.21,403.55 313.21,403.64 313.21,413.86 312.21,413.87 311.21,413.89 310.21,413.91 309.21,413.95 308.2,413.99 307.2,414.04 306.2,414.1 305.2,414.17 304.2,414.24 303.19,414.31 302.19,414.4 301.19,414.57 300.19,414.79 299.19,415.04 298.18,415.26 297.18,415.42 296.18,415.49 295.18,415.49 294.18,415.49 293.17,415.49 292.17,415.49 291.17,415.49 290.17,415.49 289.17,415.48 288.16,415.42 287.16,415.31 286.16,415.16 285.16,414.99 284.15,414.8 283.15,414.62 282.15,414.44 281.15,414.29 280.15,414.14 279.14,413.99 278.14,413.83 277.14,413.67 276.14,413.51 275.14,413.34 274.13,413.17 273.13,413 272.13,412.81 271.13,412.63 270.13,412.43 269.12,412.23 268.12,412.03 267.12,411.82 266.12,411.6 265.12,411.38 264.11,411.1 263.11,410.78 262.11,410.45 261.11,410.15 260.11,409.92 259.1,409.81 258.1,409.86 257.1,410.07 256.1,410.42 255.1,410.86 254.09,411.36 253.09,412.09 252.09,413.24 251.09,414.6 250.09,415.97 249.08,417.12 248.08,418.12 247.08,419.13 246.08,420.04 245.07,420.77 244.07,421.22 243.07,421.54 242.07,421.82 241.07,422.07 240.06,422.26 239.06,422.4 238.06,422.46 237.06,422.45 236.06,422.35 235.05,422.17 234.05,421.95 233.05,421.69 232.05,421.4 231.05,421.12 230.04,420.82 229.04,420.49 228.04,420.1 227.04,419.6 226.04,418.98 225.03,418.19 224.03,416.47 223.03,413.05 222.03,410.55 221.03,409.42 220.02,408.61 219.02,408.14 218.02,407.83 217.02,407.58 216.02,407.42 215.01,407.37 214.01,407.51 213.01,407.79 212.01,408.07 211.01,408.18 210,408.18 209,408.18 208,408.18 207,408.96 206,411.36 204.99,414.03 203.99,417.28 202.99,420.93 201.99,424.9 200.98,429.06 199.98,432.57 198.98,435.54 197.98,438.39 196.98,441.52 195.97,445.03 194.97,448.66 193.97,452.09 192.97,455.47 191.97,458.75 190.96,461.34 189.96,463.15 188.96,464.73 187.96,465.69 186.96,465.8 185.95,465.72 184.95,465.57 183.95,465.36 182.95,465.09 181.95,464.62 180.94,463.57 179.94,462.15 178.94,460.65 177.94,459.26 176.94,457.85 175.93,456.29 174.93,454.49 173.93,452.27 172.93,449.42 171.93,446.15 170.92,442.7 169.92,438.98 168.92,434.89 167.92,430.43 166.92,425.26 165.91,419.7 164.91,414 163.91,408.11 162.91,404.23 161.9,401.55 160.9,400.11 159.9,400.58 158.9,401.87 157.9,402.76 156.89,403.44 155.89,403.96 154.89,404.12 153.89,404.12 152.89,404.12 151.88,404.12 150.88,404.23 149.88,404.62 148.88,406.69 147.88,415.12 146.87,424.72 145.87,429.28 144.87,429.16 143.87,428.84 142.87,428.3 141.86,426.98 140.86,414.34 139.86,411.29 138.86,411.12 137.86,411.02 136.85,410.96 135.85,410.92 134.85,410.89 133.85,410.86 132.85,410.83 131.84,410.8 130.84,410.78 129.84,410.76 128.84,410.75 127.84,410.73 126.83,410.72 125.83,410.7 124.83,410.69 123.83,410.68 122.82,410.66 121.82,410.65 120.82,410.64 119.82,410.62 118.82,410.61 117.81,410.6 116.81,410.58 115.81,410.57 114.81,410.56 113.81,410.54 112.8,410.53 111.8,410.52 110.8,410.51 109.8,410.5 108.8,410.49 107.79,410.48 106.79,410.47 105.79,410.46 104.79,410.46 103.79,410.45 102.78,410.45 101.78,410.45 100.78,410.45 99.78,410.46 98.78,410.46 97.77,410.47 96.77,410.48 95.77,410.49 94.77,410.51 93.77,410.52 92.76,410.53 91.76,410.55 90.76,410.56 89.76,410.58 88.76,410.59 87.75,410.61 86.75,410.62 85.75,410.63 84.75,410.64 83.75,410.64 82.74,410.65 81.74,410.65 80.74,410.65 79.74,410.64 78.73,410.63 77.73,410.62 76.73,410.6 75.73,410.58 74.73,410.56 73.72,410.54 72.72,410.51 71.72,410.48 70.72,410.44 69.72,410.41 68.71,410.37 67.71,410.33 66.71,410.28 65.71,410.24 64.71,410.2 63.7,410.15 62.7,410.1 61.7,410.05" fill="#686868" stroke="#686868" stroke-width="0.6"/>
<path d="M138.19 402.09h3.4M139.09 400.42h3.4M142.24 401.29h3.4M142.84 403.24h3.4M143.44 404.84h3.4M143.89 404.23h3.4M144.19 402.36h3.4M144.49 399.81h3.4M144.79 397.02h3.4M145.09 394.47h3.4M145.39 392.41h3.4M145.69 390.26h3.4M145.99 388.02h3.4M146.29 385.81h3.4M146.59 383.73h3.4M146.89 381.88h3.4M147.19 380.37h3.4M147.79 378.74h3.4M156.04 378.51h3.4M156.49 376.44h3.4M156.79 374.74h3.4M157.24 372.76h3.4M162.5 372.86h3.4M163.1 374.78h3.4M163.55 376.79h3.4M164 379h3.4M164.45 381.15h3.4M164.9 383.01h3.4M165.35 384.8h3.4M165.8 386.57h3.4M166.25 388.35h3.4M166.7 390.13h3.4M167.15 391.94h3.4M167.6 393.77h3.4M168.05 395.64h3.4M168.5 397.61h3.4M168.95 399.66h3.4M169.4 401.74h3.4M169.85 403.79h3.4M170.3 405.77h3.4M170.75 407.62h3.4M171.2 409.3h3.4M171.65 410.87h3.4M172.1 412.38h3.4M172.7 414.28h3.4M173.3 416.09h3.4M173.9 417.82h3.4M174.5 419.51h3.4M175.1 421.19h3.4M175.7 422.83h3.4M176.3 424.4h3.4M177.05 426.21h3.4M177.8 427.77h3.4M178.7 429.35h3.4M179.75 430.97h3.4M185.01 433.75h3.4M185.91 432.07h3.4M186.66 430.27h3.4M187.26 428.68h3.4M187.86 427.03h3.4M188.46 425.4h3.4M189.06 423.86h3.4M189.81 422.08h3.4M190.41 420.57h3.4M191.01 418.99h3.4M191.61 417.36h3.4M192.21 415.7h3.4M192.81 414.05h3.4M193.41 412.43h3.4M194.01 410.86h3.4M194.76 409.02h3.4M195.51 407.32h3.4M196.26 405.69h3.4M197.01 404.12h3.4M197.76 402.61h3.4M198.66 400.9h3.4M199.56 399.31h3.4M200.61 397.61h3.4M201.66 396.11h3.4M220.27 397.3h3.4M221.17 398.88h3.4M222.37 400.55h3.4M245.03 404.79h3.4M246.23 403.14h3.4" stroke="#686868" stroke-width="0.8" fill="none"/>
<path d="M138.94 412.22h3.4M139.24 415.25h3.4M139.39 417.28h3.4M139.54 419.46h3.4M139.69 421.64h3.4M139.84 423.69h3.4M139.99 425.45h3.4M140.29 427.55h3.4M144.64 428.77h3.4M144.94 426.87h3.4M145.24 424.07h3.4M145.39 422.5h3.4M145.54 420.9h3.4M145.69 419.34h3.4M145.99 416.59h3.4M146.29 414.16h3.4M146.59 411.45h3.4M146.89 408.82h3.4M147.19 406.62h3.4M147.64 404.94h3.4M157.39 401.62h3.4M159.8 400.75h3.4M160.55 402.38h3.4M161.15 404.05h3.4M161.75 405.96h3.4M162.2 408.05h3.4M162.5 409.7h3.4M162.8 411.47h3.4M163.1 413.3h3.4M163.4 415.13h3.4M163.7 416.89h3.4M164 418.53h3.4M164.3 420.17h3.4M164.6 421.83h3.4M164.9 423.51h3.4M165.2 425.17h3.4M165.5 426.79h3.4M165.8 428.36h3.4M166.25 430.58h3.4M166.7 432.63h3.4M167.15 434.59h3.4M167.6 436.48h3.4M168.05 438.3h3.4M168.5 440.05h3.4M168.95 441.72h3.4M169.4 443.32h3.4M169.85 444.87h3.4M170.3 446.4h3.4M170.9 448.38h3.4M171.5 450.25h3.4M172.1 451.94h3.4M172.85 453.72h3.4M173.75 455.46h3.4M174.65 456.96h3.4M175.7 458.52h3.4M176.9 460.17h3.4M177.95 461.72h3.4M179 463.25h3.4M187.41 464.52h3.4M188.46 462.8h3.4M189.36 461.14h3.4M190.11 459.21h3.4M190.71 457.35h3.4M191.16 455.84h3.4M191.61 454.3h3.4M192.06 452.78h3.4M192.66 450.8h3.4M193.11 449.24h3.4M193.56 447.62h3.4M194.01 445.99h3.4M194.46 444.36h3.4M194.91 442.77h3.4M195.36 441.23h3.4M195.96 439.33h3.4M196.56 437.57h3.4M197.16 435.87h3.4M197.76 434.15h3.4M198.36 432.32h3.4M198.96 430.28h3.4M199.41 428.55h3.4M199.86 426.69h3.4M200.31 424.79h3.4M200.76 422.93h3.4M201.21 421.2h3.4M201.66 419.55h3.4M202.11 417.91h3.4M202.56 416.33h3.4M203.17 414.41h3.4M203.77 412.78h3.4M204.37 411.16h3.4M204.97 409.64h3.4M220.42 410.68h3.4M221.17 412.53h3.4M221.62 414.08h3.4M222.07 415.65h3.4M222.67 417.35h3.4M248.64 415.64h3.4M249.84 413.98h3.4" stroke="#686868" stroke-width="0.8" fill="none"/>
<polyline points="61.7,407.55 62.7,407.6 63.7,407.65 64.71,407.7 65.71,407.74 66.71,407.78 67.71,407.83 68.71,407.87 69.72,407.91 70.72,407.94 71.72,407.98 72.72,408.01 73.72,408.04 74.73,408.06 75.73,408.08 76.73,408.1 77.73,408.12 78.73,408.13 79.74,408.14 80.74,408.15 81.74,408.15 82.74,408.15 83.75,408.14 84.75,408.14 85.75,408.13 86.75,408.12 87.75,408.11 88.76,408.09 89.76,408.08 90.76,408.06 91.76,408.05 92.76,408.03 93.77,408.02 94.77,408.01 95.77,407.99 96.77,407.98 97.77,407.97 98.78,407.96 99.78,407.96 100.78,407.95 101.78,407.95 102.78,407.95 103.79,407.96 104.79,407.96 105.79,407.97 106.79,407.98 107.79,407.99 108.8,408 109.8,408.02 110.8,408.03 111.8,408.04 112.8,408.06 113.81,408.07 114.81,408.08 115.81,408.1 116.81,408.11 117.81,408.12 118.82,408.13 119.82,408.14 120.82,408.15 121.82,408.15 122.82,408.15 123.83,408.16 124.83,408.16 125.83,408.16 126.83,408.17 127.84,408.17 128.84,408.17 129.84,408.17 130.84,408.18 131.84,408.18 132.85,408.18 133.85,408.18 134.85,408.18 135.85,408.18 136.85,408.08 137.86,407.47 138.86,406.78 139.86,406.61 140.86,407.63 141.86,409.94 142.87,413.83 143.87,416.08 144.87,417.1 145.87,414.08 146.87,408.79 147.88,400.9 148.88,395.39 149.88,391.63 150.88,389.57 151.88,389.13 152.89,388.84 153.89,388.71 154.89,389.15 155.89,390.57 156.89,391.05 157.9,389.46 158.9,387.04 159.9,384.64 160.9,384.08 161.9,383.83 162.91,385.22 163.91,388.53 164.91,393.07 165.91,398.96 166.92,404.52 167.92,410.06 168.92,415.08 169.92,419.46 170.92,423.48 171.93,427.14 172.93,430.56 173.93,433.77 174.93,436.51 175.93,438.62 176.94,440.36 177.94,441.87 178.94,443.28 179.94,444.65 180.94,445.91 181.95,447.12 182.95,448.39 183.95,450 184.95,451.45 185.95,452.01 186.96,451.65 187.96,450.83 188.96,449.76 189.96,448.29 190.96,446.05 191.97,443.38 192.97,440.48 193.97,436.98 194.97,433.24 195.97,429.65 196.98,426.06 197.98,422.52 198.98,419.17 199.98,415.93 200.98,412.83 201.99,410.11 202.99,407.7 203.99,405.49 204.99,403.76 206,402.62 207,401.64 208,401 209,400.88 210,400.88 211.01,400.88 212.01,400.88 213.01,400.86 214.01,400.67 215.01,400.38 216.02,400.13 217.02,400.08 218.02,400.4 219.02,401.01 220.02,401.82 221.03,402.76 222.03,404.45 223.03,406.67 224.03,408.75 225.03,410.13 226.04,411.15 227.04,412.07 228.04,412.87 229.04,413.57 230.04,414.14 231.05,414.6 232.05,414.98 233.05,415.34 234.05,415.67 235.05,415.94 236.06,416.15 237.06,416.27 238.06,416.29 239.06,416.18 240.06,415.96 241.07,415.64 242.07,415.26 243.07,414.83 244.07,414.29 245.07,413.43 246.08,412.36 247.08,411.18 248.08,410.02 249.08,408.83 250.09,407.41 251.09,406 252.09,404.84 253.09,404.14 254.09,403.83 255.1,403.57 256.1,403.39 257.1,403.31 258.1,403.41 259.1,403.71 260.11,404.14 261.11,404.64 262.11,405.14 263.11,405.56 264.11,405.85 265.12,406.09 266.12,406.31 267.12,406.5 268.12,406.69 269.12,406.87 270.13,407.05 271.13,407.24 272.13,407.43 273.13,407.64 274.13,407.85 275.14,408.06 276.14,408.27 277.14,408.48 278.14,408.67 279.14,408.86 280.15,409.03 281.15,409.19 282.15,409.36 283.15,409.52 284.15,409.67 285.16,409.81 286.16,409.94 287.16,410.05 288.16,410.14 289.17,410.22 290.17,410.31 291.17,410.39 292.17,410.46 293.17,410.53 294.18,410.57 295.18,410.61 296.18,410.62 297.18,410.29 298.18,409.62 299.19,409.06 300.19,408.84 301.19,408.67 302.19,408.53 303.19,408.41 304.2,408.31 305.2,408.23 306.2,408.16 307.2,408.1 308.2,408.04 309.21,407.98 310.21,407.93 311.21,407.89 312.21,407.87 313.21,407.86" fill="none" stroke="#ababab" stroke-width="1.9" stroke-linejoin="round" stroke-linecap="round"/>
</g>
<path d="M61.7 323.05V490.6H312.95" fill="none" stroke="#000" stroke-width="2.5" stroke-linejoin="miter"/>
<line x1="54.5" y1="324.3" x2="61.7" y2="324.3" stroke="#000" stroke-width="2.4"/>
<text class="tick" x="52.3" y="329.9" text-anchor="end">0.2</text>
<line x1="54.5" y1="365.88" x2="61.7" y2="365.88" stroke="#000" stroke-width="2.4"/>
<text class="tick" x="52.3" y="371.48" text-anchor="end">0.1</text>
<line x1="54.5" y1="407.45" x2="61.7" y2="407.45" stroke="#000" stroke-width="2.4"/>
<text class="tick" x="52.3" y="413.05" text-anchor="end">0.0</text>
<line x1="54.5" y1="449.03" x2="61.7" y2="449.03" stroke="#000" stroke-width="2.4"/>
<text class="tick" x="52.3" y="454.63" text-anchor="end">-0.1</text>
<line x1="54.5" y1="490.6" x2="61.7" y2="490.6" stroke="#000" stroke-width="2.4"/>
<text class="tick" x="52.3" y="496.2" text-anchor="end">-0.2</text>
<line x1="61.7" y1="490.6" x2="61.7" y2="497.8" stroke="#000" stroke-width="2.4"/>
<text class="tick" text-anchor="end" transform="translate(62.2 508.4) rotate(-45)" x="0" y="5.4">-0.200</text>
<line x1="97.45" y1="490.6" x2="97.45" y2="497.8" stroke="#000" stroke-width="2.4"/>
<text class="tick" text-anchor="end" transform="translate(97.95 508.4) rotate(-45)" x="0" y="5.4">-0.100</text>
<line x1="133.2" y1="490.6" x2="133.2" y2="497.8" stroke="#000" stroke-width="2.4"/>
<text class="tick" text-anchor="end" transform="translate(133.7 508.4) rotate(-45)" x="0" y="5.4">0.000</text>
<line x1="168.95" y1="490.6" x2="168.95" y2="497.8" stroke="#000" stroke-width="2.4"/>
<text class="tick" text-anchor="end" transform="translate(169.45 508.4) rotate(-45)" x="0" y="5.4">0.100</text>
<line x1="204.7" y1="490.6" x2="204.7" y2="497.8" stroke="#000" stroke-width="2.4"/>
<text class="tick" text-anchor="end" transform="translate(205.2 508.4) rotate(-45)" x="0" y="5.4">0.200</text>
<line x1="240.45" y1="490.6" x2="240.45" y2="497.8" stroke="#000" stroke-width="2.4"/>
<text class="tick" text-anchor="end" transform="translate(240.95 508.4) rotate(-45)" x="0" y="5.4">0.300</text>
<line x1="276.2" y1="490.6" x2="276.2" y2="497.8" stroke="#000" stroke-width="2.4"/>
<text class="tick" text-anchor="end" transform="translate(276.7 508.4) rotate(-45)" x="0" y="5.4">0.400</text>
<text class="axl" text-anchor="middle" transform="translate(16.1 405.85) rotate(-90)">Amplitude [mV]</text>
</g>
<g class="panel" id="p-swb">
<text class="title" x="520.83" y="299.5" text-anchor="middle">Short Wave Blue</text>
<line x1="396.05" y1="407.8" x2="645.95" y2="407.8" stroke="#000" stroke-width="1.4" stroke-dasharray="1.5 3.45"/>
<clipPath id="clip-swb"><rect x="395.7" y="324.3" width="251.75" height="167.5"/></clipPath>
<g clip-path="url(#clip-swb)">
<line x1="400.3" y1="322.6" x2="400.3" y2="492.6" stroke="#7a7a7a" stroke-width="0.9"/>
<line x1="463.7" y1="322.6" x2="463.7" y2="492.6" stroke="#7a7a7a" stroke-width="1"/>
<line x1="466.2" y1="322.6" x2="466.2" y2="492.6" stroke="#7a7a7a" stroke-width="1"/>
<line x1="474.7" y1="322.6" x2="474.7" y2="492.6" stroke="#7a7a7a" stroke-width="0.9"/>
<line x1="480.4" y1="347.3" x2="480.4" y2="492.6" stroke="#555555" stroke-width="1"/>
<line x1="478.4" y1="347.3" x2="482.4" y2="347.3" stroke="#555555" stroke-width="1"/>
<line x1="480.4" y1="322.6" x2="480.4" y2="347.3" stroke="#9a9a9a" stroke-width="0.8"/>
<line x1="514.3" y1="322.6" x2="514.3" y2="492.6" stroke="#333333" stroke-width="1.1"/>
<line x1="539.4" y1="322.6" x2="539.4" y2="492.6" stroke="#7a7a7a" stroke-width="1"/>
<line x1="543.5" y1="322.6" x2="543.5" y2="492.6" stroke="#333333" stroke-width="1.1"/>
<line x1="555.8" y1="343" x2="555.8" y2="492.6" stroke="#555555" stroke-width="1.1"/>
<line x1="553.8" y1="343" x2="557.8" y2="343" stroke="#555555" stroke-width="1"/>
<line x1="561.2" y1="322.6" x2="561.2" y2="492.6" stroke="#9a9a9a" stroke-width="1"/>
<line x1="573.8" y1="388.7" x2="573.8" y2="446.3" stroke="#555555" stroke-width="1.1"/>
<line x1="571.8" y1="388.7" x2="575.8" y2="388.7" stroke="#555555" stroke-width="1"/>
<line x1="571.8" y1="446.3" x2="575.8" y2="446.3" stroke="#555555" stroke-width="1"/>
<line x1="578.5" y1="322.6" x2="578.5" y2="492.6" stroke="#555555" stroke-width="1"/>
<line x1="576.5" y1="343" x2="580.5" y2="343" stroke="#555555" stroke-width="1"/>
<line x1="581.1" y1="389.2" x2="581.1" y2="446.8" stroke="#555555" stroke-width="1.1"/>
<line x1="579.1" y1="389.2" x2="583.1" y2="389.2" stroke="#555555" stroke-width="1"/>
<line x1="579.1" y1="446.8" x2="583.1" y2="446.8" stroke="#555555" stroke-width="1"/>
<line x1="586.3" y1="322.6" x2="586.3" y2="492.6" stroke="#7a7a7a" stroke-width="1"/>
<line x1="589.1" y1="322.6" x2="589.1" y2="492.6" stroke="#555555" stroke-width="1"/>
<line x1="594.5" y1="322.6" x2="594.5" y2="492.6" stroke="#000000" stroke-width="1.4"/>
<line x1="606.1" y1="322.6" x2="606.1" y2="492.6" stroke="#000000" stroke-width="1.8"/>
<line x1="607.8" y1="322.6" x2="607.8" y2="492.6" stroke="#7a7a7a" stroke-width="1.4"/>
<line x1="609.4" y1="322.6" x2="609.4" y2="492.6" stroke="#000000" stroke-width="1.8"/>
<line x1="613.6" y1="322.6" x2="613.6" y2="360.3" stroke="#9a9a9a" stroke-width="0.9"/>
<line x1="613.6" y1="360.3" x2="613.6" y2="439.4" stroke="#555555" stroke-width="1.1"/>
<line x1="611.6" y1="360.3" x2="615.6" y2="360.3" stroke="#555555" stroke-width="1"/>
<line x1="611.6" y1="439.4" x2="615.6" y2="439.4" stroke="#555555" stroke-width="1"/>
<line x1="622.9" y1="322.6" x2="622.9" y2="492.6" stroke="#000000" stroke-width="1.5"/>
<line x1="626.9" y1="322.6" x2="626.9" y2="492.6" stroke="#9a9a9a" stroke-width="1.1"/>
<line x1="638.3" y1="322.6" x2="638.3" y2="492.6" stroke="#000000" stroke-width="2.2"/>
<line x1="643.2" y1="322.6" x2="643.2" y2="492.6" stroke="#7a7a7a" stroke-width="1.1"/>
<rect x="554.8" y="425.8" width="2" height="2" fill="#444444"/>
<rect x="588.1" y="463.2" width="2" height="2" fill="#444444"/>
<rect x="606.8" y="371.5" width="2" height="2" fill="#8a8a8a"/>
<polygon points="471.23,404.12 472.24,403.99 473.24,403.58 474.25,402.86 475.26,399.01 476.26,399.02 477.27,400.4 478.27,404.93 479.28,404.75 480.28,401.1 481.29,390.01 482.3,383.14 483.3,378.49 484.31,377.97 485.31,377.8 486.32,377.7 487.32,377.66 488.33,377.66 489.33,377.66 490.34,377.66 491.35,377.66 492.35,376.73 493.36,374.32 494.36,373.98 495.37,373.87 496.37,373.8 497.38,373.77 498.39,374.11 499.39,376.27 500.4,379.47 501.4,382.62 502.41,385.48 503.41,388.53 504.42,391.65 505.42,394.72 506.43,397.65 507.44,400.57 508.44,403.45 509.45,406.18 510.45,408.68 511.46,411.22 512.46,413.83 513.47,415.75 514.47,416.14 515.48,413.3 516.49,412.07 517.49,411.83 518.5,411.72 519.5,411.64 520.51,411.49 521.51,411.19 522.52,408.75 523.53,403.21 524.53,397.12 525.54,396.73 526.54,396.46 527.55,396.29 528.55,396.2 529.56,396.17 530.56,396.17 531.57,396.17 532.58,396.17 533.58,396.17 534.59,396.17 535.59,396.72 536.6,398.81 537.6,399.57 538.61,399.97 539.61,400.27 540.62,400.5 541.63,400.69 542.63,400.87 543.64,401.02 544.64,401.12 545.65,401.2 546.65,401.31 547.66,401.5 548.67,402.11 549.67,402.47 550.68,402.31 551.68,402.08 552.69,401.82 553.69,401.58 554.7,401.41 555.7,401.36 556.71,401.4 557.72,401.49 558.72,401.62 559.73,401.78 560.73,401.96 561.74,402.15 562.74,402.34 563.75,402.53 564.75,402.72 565.76,402.94 566.77,403.18 567.77,403.44 568.78,403.72 569.78,404.02 570.79,404.38 571.79,404.86 572.8,405.42 573.81,406.02 574.81,406.6 575.82,407.12 576.82,407.54 577.83,407.81 578.83,407.91 579.84,407.99 580.84,408.05 581.85,408.11 582.86,408.15 583.86,408.18 584.87,408.18 585.87,408.18 586.88,408.18 587.88,408.18 588.89,408.18 589.89,408.18 590.9,408.18 591.91,408.18 592.91,408.18 593.92,408.18 594.92,408.18 595.93,408.18 596.93,408.18 597.94,408.18 598.95,408.18 599.95,408.18 600.96,408.18 601.96,408.18 602.97,408.18 603.97,408.18 604.98,408.18 605.98,408.18 606.99,408.18 608,408.18 609,408.18 610.01,408.18 611.01,408.18 612.02,408.18 613.02,408.18 614.03,408.18 615.03,408.18 616.04,408.18 617.05,408.18 618.05,408.18 619.06,408.18 620.06,408.18 621.07,408.18 622.07,408.18 623.08,408.18 624.09,408.18 625.09,408.18 626.1,408.18 627.1,408.18 628.11,408.18 629.11,408.18 630.12,408.18 631.12,408.18 632.13,408.18 633.14,408.18 634.14,408.18 635.15,408.18 636.15,408.18 637.16,408.18 638.16,408.18 639.17,408.18 640.18,408.18 641.18,408.18 642.19,408.18 643.19,408.18 644.2,408.18 645.2,408.18 646.21,408.18 647.21,408.18 647.21,411.43 646.21,411.43 645.2,411.43 644.2,411.43 643.19,411.43 642.19,411.43 641.18,411.43 640.18,411.43 639.17,411.43 638.16,411.43 637.16,411.43 636.15,411.43 635.15,411.43 634.14,411.43 633.14,411.43 632.13,411.43 631.12,411.43 630.12,411.43 629.11,411.43 628.11,411.43 627.1,411.43 626.1,411.43 625.09,411.43 624.09,411.43 623.08,411.43 622.07,411.43 621.07,411.43 620.06,411.43 619.06,411.43 618.05,411.43 617.05,411.43 616.04,411.43 615.03,411.43 614.03,411.43 613.02,411.43 612.02,411.43 611.01,411.43 610.01,411.43 609,411.43 608,411.43 606.99,411.43 605.98,411.43 604.98,411.43 603.97,411.43 602.97,411.43 601.96,411.43 600.96,411.43 599.95,411.43 598.95,411.43 597.94,411.43 596.93,411.43 595.93,411.43 594.92,411.43 593.92,411.43 592.91,411.43 591.91,411.43 590.9,411.43 589.89,411.43 588.89,411.43 587.88,411.43 586.88,411.43 585.87,411.43 584.87,411.43 583.86,411.43 582.86,411.43 581.85,411.43 580.84,411.43 579.84,411.43 578.83,411.43 577.83,411.43 576.82,411.39 575.82,411.31 574.81,411.2 573.81,411.07 572.8,410.92 571.79,410.76 570.79,410.6 569.78,410.43 568.78,410.27 567.77,410.13 566.77,410 565.76,409.9 564.75,409.83 563.75,409.81 562.74,409.81 561.74,409.85 560.73,409.9 559.73,409.99 558.72,410.09 557.72,410.23 556.71,410.39 555.7,410.57 554.7,411.2 553.69,412.58 552.69,413.71 551.68,413.86 550.68,413.87 549.67,414.01 548.67,414.32 547.66,414.67 546.65,414.93 545.65,415 544.64,414.98 543.64,414.92 542.63,414.84 541.63,414.72 540.62,414.57 539.61,414.39 538.61,413.55 537.6,411.61 536.6,410.01 535.59,409.81 534.59,409.81 533.58,409.81 532.58,409.81 531.57,409.81 530.56,410.37 529.56,412.44 528.55,415.09 527.55,417.52 526.54,420.28 525.54,422.93 524.53,424.87 523.53,426.52 522.52,428.04 521.51,429.26 520.51,429.98 519.5,430.01 518.5,429.29 517.49,428.09 516.49,426.77 515.48,425.61 514.47,424.48 513.47,423.3 512.46,422.04 511.46,420.66 510.45,419.17 509.45,417.55 508.44,415.83 507.44,413.99 506.43,411.96 505.42,409.49 504.42,406.83 503.41,404.29 502.41,402.22 501.4,400.68 500.4,399.21 499.39,397.94 498.39,397.08 497.38,396.83 496.37,397.61 495.37,399.22 494.36,401.17 493.36,402.99 492.35,404.45 491.35,405.85 490.34,407.24 489.33,408.64 488.33,410.11 487.32,411.66 486.32,413.31 485.31,415.06 484.31,416.88 483.3,418.71 482.3,420.61 481.29,429.02 480.28,430.56 479.28,430.46 478.27,430.23 477.27,429.86 476.26,426.24 475.26,416.92 474.25,416.32 473.24,415.93 472.24,415.71 471.23,415.65" fill="#000000" stroke="#000" stroke-width="0.6"/>
<path d="M472.68 402.52h3.4M473.13 400.61h3.4M473.58 398.95h3.4M475.53 400.23h3.4M475.83 402.25h3.4M476.13 404.32h3.4M478.24 403.83h3.4M478.54 401.57h3.4M478.69 400.06h3.4M478.84 398.39h3.4M478.99 396.63h3.4M479.14 394.84h3.4M479.29 393.1h3.4M479.44 391.48h3.4M479.74 388.87h3.4M480.04 386.88h3.4M480.34 384.85h3.4M480.64 382.89h3.4M480.94 381.12h3.4M481.39 379.09h3.4M490.39 377.28h3.4M491.14 375.45h3.4M496.84 374.33h3.4M497.59 375.99h3.4M498.19 377.79h3.4M498.79 379.78h3.4M499.39 381.71h3.4M499.99 383.41h3.4M500.59 385.13h3.4M501.19 386.93h3.4M501.79 388.77h3.4M502.39 390.63h3.4M502.99 392.49h3.4M503.59 394.32h3.4M504.19 396.09h3.4M504.79 397.82h3.4M505.39 399.57h3.4M505.99 401.31h3.4M506.59 403.03h3.4M507.19 404.69h3.4M507.79 406.3h3.4M508.39 407.81h3.4M509.14 409.61h3.4M509.74 411.17h3.4M510.34 412.77h3.4M511.09 414.56h3.4M512.89 415.94h3.4M513.49 414.22h3.4M514.09 412.53h3.4M520.24 410.82h3.4M520.84 408.64h3.4M521.14 407.05h3.4M521.44 405.34h3.4M521.74 403.65h3.4M522.04 401.7h3.4M522.34 399.25h3.4M522.64 397.44h3.4M533.89 396.73h3.4M534.65 398.33h3.4M546.95 402.08h3.4" stroke="#000" stroke-width="0.8" fill="none"/>
<path d="M473.73 417.36h3.4M474.03 419.83h3.4M474.18 421.58h3.4M474.33 423.46h3.4M474.48 425.33h3.4M474.63 427.04h3.4M474.93 429.33h3.4M479.44 430.13h3.4M479.74 427.55h3.4M479.89 425.84h3.4M480.04 424.12h3.4M480.19 422.61h3.4M480.49 420.93h3.4M481.24 419.29h3.4M482.14 417.75h3.4M483.04 416.09h3.4M483.94 414.49h3.4M484.84 412.94h3.4M485.89 411.24h3.4M486.94 409.65h3.4M487.99 408.15h3.4M489.19 406.48h3.4M490.39 404.82h3.4M491.59 403.1h3.4M492.49 401.51h3.4M493.39 399.75h3.4M494.29 398.16h3.4M498.49 398.92h3.4M499.54 400.44h3.4M500.59 402.02h3.4M501.49 403.78h3.4M502.24 405.58h3.4M502.84 407.15h3.4M503.44 408.74h3.4M504.04 410.3h3.4M504.79 412.1h3.4M505.54 413.61h3.4M506.44 415.29h3.4M507.34 416.87h3.4M508.39 418.6h3.4M509.44 420.2h3.4M510.64 421.88h3.4M515.14 427.23h3.4M520.69 428.22h3.4M521.74 426.65h3.4M522.79 424.93h3.4M523.69 423.26h3.4M524.44 421.38h3.4M525.04 419.71h3.4M525.64 418.05h3.4M526.24 416.54h3.4M526.99 414.72h3.4M527.59 413.12h3.4M528.34 411.3h3.4M535.25 410.43h3.4M536.15 412.1h3.4M537.05 413.76h3.4M551.9 412.71h3.4" stroke="#000" stroke-width="0.8" fill="none"/>
<polyline points="511.82,416.3 512.83,417.6 513.85,418.85 514.86,420.04 515.88,421.17 516.89,422.44 517.91,423.7 518.92,424.39 519.94,424.15 520.95,423.2 521.96,421.8 522.98,419.65 523.99,415.78 525.01,412.55 526.02,410.28 527.04,408.34 528.05,406.56 529.07,404.61 530.08,402.74 531.1,401.72 532.11,401.72 533.12,401.84 534.14,402.03 535.15,402.25 536.17,402.5 537.18,402.86 538.2,403.39 539.21,404.01 540.23,404.65 541.24,405.22 542.26,405.64 543.27,405.88 544.29,406.09 545.3,406.28 546.31,406.42 547.33,406.52 548.34,406.56" fill="none" stroke="#555555" stroke-width="1.9" stroke-linejoin="round" stroke-linecap="round"/>
<polygon points="395.7,402.8 396.7,402.73 397.7,402.66 398.71,402.6 399.71,402.55 400.71,402.5 401.71,402.47 402.71,402.44 403.72,402.42 404.72,402.4 405.72,402.4 406.72,402.41 407.72,402.44 408.73,402.48 409.73,402.54 410.73,402.61 411.73,402.68 412.73,402.76 413.74,402.84 414.74,402.92 415.74,403 416.74,403.06 417.75,403.12 418.75,403.16 419.75,403.19 420.75,403.2 421.75,403.19 422.76,403.17 423.76,403.14 424.76,403.09 425.76,403.04 426.76,402.99 427.77,402.93 428.77,402.87 429.77,402.81 430.77,402.75 431.77,402.7 432.78,402.66 433.78,402.63 434.78,402.61 435.78,402.6 436.78,402.6 437.79,402.61 438.79,402.62 439.79,402.64 440.79,402.66 441.79,402.69 442.8,402.71 443.8,402.74 444.8,402.78 445.8,402.81 446.8,402.85 447.81,402.89 448.81,402.92 449.81,402.96 450.81,403 451.81,403.06 452.82,403.13 453.82,403.22 454.82,403.32 455.82,403.42 456.82,403.53 457.83,403.64 458.83,403.75 459.83,403.85 460.83,403.94 461.84,404.02 462.84,404.08 463.84,404.11 464.84,404.12 465.84,404.11 466.85,404.08 467.85,404.03 468.85,403.97 469.85,403.9 470.85,403.83 471.86,403.75 472.86,403.64 473.86,403.47 474.86,402.9 475.86,401.01 476.87,402.72 477.87,404.94 478.87,404.94 479.87,404.64 480.87,397.03 481.88,388.12 482.88,381.24 483.88,377.35 484.88,376.94 485.88,376.68 486.89,376.55 487.89,376.53 488.89,376.53 489.89,376.53 490.89,376.53 491.9,376.1 492.9,373.49 493.9,373.28 494.9,373.28 495.9,373.28 496.91,373.28 497.91,375.4 498.91,381.53 499.91,385.65 500.92,389.23 501.92,392.52 502.92,395.61 503.92,398.59 504.92,401.4 505.93,404.07 506.93,406.64 507.93,409.17 508.93,411.75 509.93,414.46 510.94,417.16 511.94,419.69 512.94,421.9 513.94,423.62 514.94,425.08 515.95,426.49 516.95,427.74 517.95,428.68 518.95,429.21 519.95,429.19 520.96,428.53 521.96,427.37 522.96,425.87 523.96,424.2 524.96,422.52 525.97,420.47 526.97,417.99 527.97,415.34 528.97,412.78 529.97,410.23 530.98,407.65 531.98,405.23 532.98,402.89 533.98,400.57 534.98,398.83 535.99,397.95 536.99,397.3 537.99,396.89 538.99,396.84 540,397.07 541,397.46 542,397.91 543,398.3 544,398.58 545.01,398.85 546.01,399.08 547.01,399.23 548.01,399.25 549.01,399.25 550.02,399.25 551.02,399.25 552.02,399.25 553.02,399.25 554.02,399.25 555.03,399.28 556.03,399.6 557.03,400.2 558.03,400.94 559.03,401.69 560.04,402.34 561.04,402.79 562.04,403.19 563.04,403.54 564.04,403.89 565.05,404.23 566.05,404.61 567.05,405.02 568.05,405.53 569.05,406.1 570.06,406.7 571.06,407.27 572.06,407.75 573.06,408.11 574.06,408.34 575.07,408.54 576.07,408.72 577.07,408.87 578.07,408.96 579.07,408.99 580.08,408.7 581.08,408.02 582.08,407.14 583.08,406.29 584.09,405.65 585.09,405.1 586.09,404.56 587.09,404.06 588.09,403.65 589.1,403.38 590.1,403.27 591.1,403.19 592.1,403.12 593.1,403.06 594.11,403.02 595.11,403 596.11,402.99 597.11,403.02 598.11,403.09 599.12,403.21 600.12,403.35 601.12,403.52 602.12,403.72 603.12,404.13 604.13,404.69 605.13,405.29 606.13,405.83 607.13,406.18 608.13,406.32 609.14,406.43 610.14,406.53 611.14,406.62 612.14,406.7 613.14,406.76 614.15,406.81 615.15,406.85 616.15,406.87 617.15,406.88 618.15,406.88 619.16,406.87 620.16,406.84 621.16,406.82 622.16,406.78 623.17,406.74 624.17,406.7 625.17,406.65 626.17,406.6 627.17,406.54 628.18,406.46 629.18,406.34 630.18,406.2 631.18,406.05 632.18,405.88 633.19,405.72 634.19,405.56 635.19,405.42 636.19,405.3 637.19,405.22 638.2,405.13 639.2,405.05 640.2,404.98 641.2,404.9 642.2,404.84 643.21,404.78 644.21,404.72 645.21,404.68 646.21,404.64 647.21,404.61 647.21,415.97 646.21,416.08 645.21,416.18 644.21,416.29 643.21,416.39 642.2,416.5 641.2,416.61 640.2,416.72 639.2,416.83 638.2,416.94 637.19,417.05 636.19,417.16 635.19,417.28 634.19,417.39 633.19,417.5 632.18,417.62 631.18,417.73 630.18,417.85 629.18,417.97 628.18,418.09 627.17,418.22 626.17,418.35 625.17,418.49 624.17,418.65 623.17,418.81 622.16,418.97 621.16,419.12 620.16,419.26 619.16,419.38 618.15,419.48 617.15,419.55 616.15,419.6 615.15,419.65 614.15,419.7 613.14,419.74 612.14,419.78 611.14,419.81 610.14,419.84 609.14,419.86 608.13,419.87 607.13,419.86 606.13,419.72 605.13,419.45 604.13,419.09 603.12,418.69 602.12,418.3 601.12,417.97 600.12,417.68 599.12,417.35 598.11,417.02 597.11,416.72 596.11,416.48 595.11,416.33 594.11,416.31 593.1,416.43 592.1,416.67 591.1,417 590.1,417.38 589.1,417.79 588.09,418.26 587.09,418.93 586.09,419.73 585.09,420.57 584.09,421.35 583.08,421.98 582.08,422.55 581.08,423.13 580.08,423.67 579.07,424.1 578.07,424.36 577.07,424.41 576.07,424.35 575.07,424.24 574.06,424.08 573.06,423.89 572.06,423.68 571.06,423.42 570.06,423.04 569.05,422.56 568.05,422.01 567.05,421.42 566.05,420.82 565.05,420.25 564.04,419.69 563.04,419.1 562.04,418.49 561.04,417.86 560.04,417.2 559.03,416.51 558.03,415.75 557.03,414.87 556.03,413.96 555.03,413.09 554.02,412.34 553.02,411.68 552.02,411.01 551.02,410.41 550.02,409.97 549.01,409.81 548.01,410.85 547.01,411.86 546.01,412.69 545.01,413.38 544,413.8 543,413.83 542,413.62 541,413.33 540,413.1 538.99,413.28 537.99,415.18 536.99,417.9 535.99,421.49 534.98,425.89 533.98,429.75 532.98,433.35 531.98,436.79 530.98,440.08 529.97,443.36 528.97,446.42 527.97,448.95 526.97,451.2 525.97,453.17 524.96,454.36 523.96,454.79 522.96,455.12 521.96,455.37 520.96,455.53 519.95,455.58 518.95,455.47 517.95,455.17 516.95,454.72 515.95,454.16 514.94,453.56 513.94,452.7 512.94,451.53 511.94,450.15 510.94,448.66 509.93,447 508.93,445.08 507.93,442.94 506.93,440.6 505.93,437.96 504.92,434.95 503.92,431.66 502.92,428.12 501.92,424.25 500.92,420 499.91,415.11 498.91,409.2 497.91,404.54 496.91,400.94 495.9,398.62 494.9,399.05 493.9,401.13 492.9,402.79 491.9,403.73 490.89,404.71 489.89,406.28 488.89,408.4 487.89,410.6 486.89,412.48 485.88,414.18 484.88,415.9 483.88,417.72 482.88,419.53 481.88,423.79 480.87,430.1 479.87,430.05 478.87,429.91 477.87,429.65 476.87,429.23 475.86,420.67 474.86,416.87 473.86,416.45 472.86,416.2 471.86,416.05 470.85,415.93 469.85,415.81 468.85,415.71 467.85,415.63 466.85,415.56 465.84,415.51 464.84,415.49 463.84,415.48 462.84,415.46 461.84,415.45 460.83,415.44 459.83,415.44 458.83,415.43 457.83,415.42 456.82,415.42 455.82,415.41 454.82,415.41 453.82,415.4 452.82,415.4 451.81,415.4 450.81,415.4 449.81,415.4 448.81,415.41 447.81,415.43 446.8,415.45 445.8,415.48 444.8,415.5 443.8,415.53 442.8,415.56 441.79,415.59 440.79,415.62 439.79,415.65 438.79,415.67 437.79,415.68 436.78,415.7 435.78,415.7 434.78,415.69 433.78,415.68 432.78,415.65 431.77,415.62 430.77,415.57 429.77,415.53 428.77,415.48 427.77,415.43 426.76,415.38 425.76,415.33 424.76,415.29 423.76,415.25 422.76,415.23 421.75,415.21 420.75,415.2 419.75,415.2 418.75,415.22 417.75,415.24 416.74,415.27 415.74,415.3 414.74,415.34 413.74,415.38 412.73,415.42 411.73,415.46 410.73,415.5 409.73,415.53 408.73,415.56 407.72,415.58 406.72,415.59 405.72,415.6 404.72,415.59 403.72,415.56 402.71,415.51 401.71,415.44 400.71,415.35 399.71,415.26 398.71,415.15 397.7,415.04 396.7,414.92 395.7,414.8" fill="#686868" stroke="#686868" stroke-width="0.6"/>
<path d="M473.24 402.77h3.4M473.99 401.25h3.4M474.74 401.32h3.4M475.34 403.36h3.4M475.94 404.9h3.4M478.19 404.59h3.4M478.64 402.04h3.4M478.94 399.39h3.4M479.24 396.37h3.4M479.39 394.82h3.4M479.54 393.31h3.4M479.84 390.53h3.4M480.14 388.36h3.4M480.44 386.32h3.4M480.74 384.2h3.4M481.04 382.13h3.4M481.34 380.27h3.4M481.64 378.75h3.4M490.19 376.1h3.4M490.79 374.44h3.4M495.75 373.56h3.4M496.2 375.34h3.4M496.5 377.09h3.4M496.8 379.02h3.4M497.1 380.88h3.4M497.4 382.44h3.4M497.85 384.25h3.4M498.3 385.96h3.4M498.75 387.6h3.4M499.2 389.17h3.4M499.65 390.68h3.4M500.25 392.62h3.4M500.85 394.48h3.4M501.45 396.3h3.4M502.05 398.09h3.4M502.65 399.81h3.4M503.25 401.47h3.4M503.85 403.08h3.4M504.45 404.65h3.4M505.05 406.19h3.4M505.65 407.71h3.4M506.25 409.22h3.4M506.85 410.75h3.4M507.45 412.34h3.4M508.05 413.96h3.4M508.65 415.6h3.4M509.25 417.2h3.4M509.85 418.75h3.4M510.6 420.54h3.4M511.35 422.12h3.4M512.25 423.64h3.4M513.3 425.17h3.4M514.5 426.84h3.4M520.21 427.44h3.4M521.26 425.87h3.4M522.31 424.12h3.4M523.21 422.62h3.4M524.11 420.83h3.4M524.86 419.04h3.4M525.46 417.49h3.4M526.06 415.9h3.4M526.66 414.32h3.4M527.26 412.81h3.4M527.86 411.3h3.4M528.46 409.74h3.4M529.06 408.2h3.4M529.66 406.69h3.4M530.41 404.93h3.4M531.16 403.17h3.4M531.91 401.39h3.4M532.66 399.81h3.4" stroke="#686868" stroke-width="0.8" fill="none"/>
<path d="M473.69 417.28h3.4M473.99 419.02h3.4M474.29 421.95h3.4M474.44 423.59h3.4M474.59 425.21h3.4M474.89 427.93h3.4M479.54 429.28h3.4M479.84 426.96h3.4M480.14 424.13h3.4M480.44 421.79h3.4M480.89 420.23h3.4M481.64 418.63h3.4M482.54 417.07h3.4M483.44 415.44h3.4M484.34 413.92h3.4M485.24 412.38h3.4M486.14 410.69h3.4M486.89 409.07h3.4M487.64 407.41h3.4M488.54 405.65h3.4M491.54 402.37h3.4M492.44 400.59h3.4M493.2 399.06h3.4M494.4 398.88h3.4M495.15 400.74h3.4M495.6 402.29h3.4M496.05 403.94h3.4M496.5 405.62h3.4M496.95 407.75h3.4M497.25 409.41h3.4M497.55 411.17h3.4M497.85 412.97h3.4M498.15 414.73h3.4M498.45 416.4h3.4M498.9 418.58h3.4M499.35 420.58h3.4M499.8 422.52h3.4M500.25 424.37h3.4M500.7 426.15h3.4M501.15 427.86h3.4M501.6 429.5h3.4M502.05 431.07h3.4M502.5 432.59h3.4M503.1 434.55h3.4M503.7 436.42h3.4M504.3 438.17h3.4M504.9 439.78h3.4M505.65 441.61h3.4M506.4 443.32h3.4M507.15 444.92h3.4M508.05 446.67h3.4M508.95 448.22h3.4M510 449.8h3.4M511.2 451.48h3.4M523.96 453.64h3.4M524.86 452.07h3.4M525.61 450.44h3.4M526.36 448.75h3.4M527.11 446.87h3.4M527.71 445.13h3.4M528.31 443.24h3.4M528.91 441.28h3.4M529.51 439.31h3.4M530.11 437.34h3.4M530.56 435.83h3.4M531.01 434.29h3.4M531.46 432.71h3.4M531.91 431.09h3.4M532.36 429.45h3.4M532.81 427.78h3.4M533.26 425.98h3.4M533.71 424.02h3.4M534.16 422.02h3.4M534.61 420.15h3.4M535.06 418.55h3.4M535.66 416.87h3.4M536.26 415.25h3.4M537.01 413.65h3.4M546.32 410.83h3.4" stroke="#686868" stroke-width="0.8" fill="none"/>
<polyline points="395.7,408.6 396.7,408.69 397.7,408.78 398.71,408.87 399.71,408.95 400.71,409.02 401.71,409.08 402.71,409.13 403.72,409.17 404.72,409.19 405.72,409.2 406.72,409.19 407.72,409.18 408.73,409.16 409.73,409.13 410.73,409.1 411.73,409.06 412.73,409.02 413.74,408.98 414.74,408.94 415.74,408.9 416.74,408.87 417.75,408.84 418.75,408.82 419.75,408.8 420.75,408.8 421.75,408.81 422.76,408.83 423.76,408.85 424.76,408.89 425.76,408.93 426.76,408.98 427.77,409.03 428.77,409.08 429.77,409.13 430.77,409.17 431.77,409.22 432.78,409.25 433.78,409.28 434.78,409.29 435.78,409.3 436.78,409.3 437.79,409.3 438.79,409.3 439.79,409.3 440.79,409.3 441.79,409.3 442.8,409.3 443.8,409.3 444.8,409.3 445.8,409.3 446.8,409.3 447.81,409.3 448.81,409.3 449.81,409.3 450.81,409.3 451.81,409.31 452.82,409.33 453.82,409.36 454.82,409.41 455.82,409.45 456.82,409.5 457.83,409.56 458.83,409.61 459.83,409.66 460.83,409.71 461.84,409.75 462.84,409.78 463.84,409.8 464.84,409.81 465.84,409.81 466.85,409.81 467.85,409.81 468.85,409.81 469.85,409.81 470.85,409.81 471.86,409.81 472.86,409.81 473.86,409.51 474.86,409.06 475.86,410.72 476.87,416.15 477.87,418.82 478.87,420.32 479.87,418.49 480.87,413.57 481.88,405.64 482.88,398.72 483.88,394.48 484.88,392.07 485.88,391.5 486.89,391.19 487.89,391.2 488.89,391.64 489.89,391.95 490.89,390.3 491.9,387.78 492.9,384.76 493.9,383.03 494.9,383.15 495.9,383.56 496.91,384.64 497.91,388.18 498.91,392.24 499.91,396.09 500.92,400.18 501.92,404.29 502.92,408.34 503.92,412.43 504.92,416.4 505.93,420.2 506.93,424 507.93,427.45 508.93,430.19 509.93,432.51 510.94,434.54 511.94,436.31 512.94,437.87 513.94,439.42 514.94,440.82 515.95,441.86 516.95,442.35 517.95,442.62 518.95,442.83 519.95,442.98 520.96,443.07 521.96,443.02 522.96,442.41 523.96,441.32 524.96,439.96 525.97,438.49 526.97,436.52 527.97,434.06 528.97,431.3 529.97,428.39 530.98,424.94 531.98,421.22 532.98,417.73 533.98,414.28 534.98,410.95 535.99,408.48 536.99,406.98 537.99,405.74 538.99,405.01 540,404.98 541,405.21 542,405.5 543,405.72 544,405.63 545.01,404.97 546.01,404.08 547.01,403.42 548.01,403.48 549.01,404.13 550.02,404.35 551.02,404.49 552.02,404.61 553.02,404.75 554.02,404.98 555.03,405.44 556.03,406.12 557.03,406.9 558.03,407.68 559.03,408.37 560.04,409.01 561.04,409.65 562.04,410.28 563.04,410.91 564.04,411.52 565.05,412.13 566.05,412.76 567.05,413.45 568.05,414.15 569.05,414.81 570.06,415.38 571.06,415.8 572.06,416.04 573.06,416.21 574.06,416.37 575.07,416.49 576.07,416.58 577.07,416.62 578.07,416.56 579.07,416.23 580.08,415.72 581.08,415.1 582.08,414.45 583.08,413.87 584.09,413.28 585.09,412.61 586.09,411.93 587.09,411.31 588.09,410.83 589.1,410.54 590.1,410.33 591.1,410.13 592.1,409.98 593.1,409.87 594.11,409.81 595.11,409.84 596.11,409.98 597.11,410.22 598.11,410.53 599.12,410.86 600.12,411.18 601.12,411.48 602.12,411.81 603.12,412.2 604.13,412.6 605.13,412.96 606.13,413.23 607.13,413.37 608.13,413.37 609.14,413.36 610.14,413.34 611.14,413.31 612.14,413.28 613.14,413.24 614.15,413.2 615.15,413.15 616.15,413.1 617.15,413.05 618.15,413 619.16,412.93 620.16,412.86 621.16,412.77 622.16,412.68 623.17,412.59 624.17,412.49 625.17,412.4 626.17,412.3 627.17,412.22 628.18,412.14 629.18,412.06 630.18,411.98 631.18,411.9 632.18,411.82 633.19,411.74 634.19,411.66 635.19,411.57 636.19,411.47 637.19,411.38 638.2,411.27 639.2,411.16 640.2,411.05 641.2,410.93 642.2,410.81 643.21,410.68 644.21,410.55 645.21,410.41 646.21,410.27 647.21,410.13" fill="none" stroke="#ababab" stroke-width="1.9" stroke-linejoin="round" stroke-linecap="round"/>
</g>
<path d="M395.7 323.35V490.6H646.95" fill="none" stroke="#000" stroke-width="2.5" stroke-linejoin="miter"/>
<line x1="388.5" y1="324.6" x2="395.7" y2="324.6" stroke="#000" stroke-width="2.4"/>
<text class="tick" x="386.3" y="330.2" text-anchor="end">0.2</text>
<line x1="388.5" y1="366.1" x2="395.7" y2="366.1" stroke="#000" stroke-width="2.4"/>
<text class="tick" x="386.3" y="371.7" text-anchor="end">0.1</text>
<line x1="388.5" y1="407.6" x2="395.7" y2="407.6" stroke="#000" stroke-width="2.4"/>
<text class="tick" x="386.3" y="413.2" text-anchor="end">0.0</text>
<line x1="388.5" y1="449.1" x2="395.7" y2="449.1" stroke="#000" stroke-width="2.4"/>
<text class="tick" x="386.3" y="454.7" text-anchor="end">-0.1</text>
<line x1="388.5" y1="490.6" x2="395.7" y2="490.6" stroke="#000" stroke-width="2.4"/>
<text class="tick" x="386.3" y="496.2" text-anchor="end">-0.2</text>
<line x1="395.7" y1="490.6" x2="395.7" y2="497.8" stroke="#000" stroke-width="2.4"/>
<text class="tick" text-anchor="end" transform="translate(396.2 508.4) rotate(-45)" x="0" y="5.4">-0.200</text>
<line x1="431.45" y1="490.6" x2="431.45" y2="497.8" stroke="#000" stroke-width="2.4"/>
<text class="tick" text-anchor="end" transform="translate(431.95 508.4) rotate(-45)" x="0" y="5.4">-0.100</text>
<line x1="467.2" y1="490.6" x2="467.2" y2="497.8" stroke="#000" stroke-width="2.4"/>
<text class="tick" text-anchor="end" transform="translate(467.7 508.4) rotate(-45)" x="0" y="5.4">0.000</text>
<line x1="502.95" y1="490.6" x2="502.95" y2="497.8" stroke="#000" stroke-width="2.4"/>
<text class="tick" text-anchor="end" transform="translate(503.45 508.4) rotate(-45)" x="0" y="5.4">0.100</text>
<line x1="538.7" y1="490.6" x2="538.7" y2="497.8" stroke="#000" stroke-width="2.4"/>
<text class="tick" text-anchor="end" transform="translate(539.2 508.4) rotate(-45)" x="0" y="5.4">0.200</text>
<line x1="574.45" y1="490.6" x2="574.45" y2="497.8" stroke="#000" stroke-width="2.4"/>
<text class="tick" text-anchor="end" transform="translate(574.95 508.4) rotate(-45)" x="0" y="5.4">0.300</text>
<line x1="610.2" y1="490.6" x2="610.2" y2="497.8" stroke="#000" stroke-width="2.4"/>
<text class="tick" text-anchor="end" transform="translate(610.7 508.4) rotate(-45)" x="0" y="5.4">0.400</text>
<text class="axl" text-anchor="middle" x="521.12" y="568.6">Time [s]</text>
</g>
<g class="panel" id="p-red">
<text class="title" x="187.62" y="587.7" text-anchor="middle">Red</text>
<line x1="62.85" y1="696.5" x2="312.75" y2="696.5" stroke="#000" stroke-width="1.4" stroke-dasharray="1.5 3.45"/>
<clipPath id="clip-red"><rect x="62.5" y="612.5" width="251.75" height="168.5"/></clipPath>
<g clip-path="url(#clip-red)">
<line x1="68" y1="650.3" x2="68" y2="722.5" stroke="#9a9a9a" stroke-width="0.9"/>
<line x1="66" y1="650.3" x2="70" y2="650.3" stroke="#9a9a9a" stroke-width="1"/>
<line x1="66" y1="722.5" x2="70" y2="722.5" stroke="#9a9a9a" stroke-width="1"/>
<line x1="145.7" y1="610.8" x2="145.7" y2="781.8" stroke="#555555" stroke-width="1"/>
<line x1="149" y1="610.8" x2="149" y2="781.8" stroke="#7a7a7a" stroke-width="1"/>
<line x1="155" y1="610.8" x2="155" y2="781.8" stroke="#7a7a7a" stroke-width="1.1"/>
<line x1="160.4" y1="610.8" x2="160.4" y2="781.8" stroke="#3c3c3c" stroke-width="1.2"/>
<line x1="162.3" y1="610.8" x2="162.3" y2="781.8" stroke="#3c3c3c" stroke-width="1.2"/>
<line x1="176.5" y1="610.8" x2="176.5" y2="781.8" stroke="#555555" stroke-width="1"/>
<line x1="189.9" y1="610.8" x2="189.9" y2="781.8" stroke="#7a7a7a" stroke-width="1"/>
<line x1="191.6" y1="610.8" x2="191.6" y2="781.8" stroke="#555555" stroke-width="1.1"/>
<line x1="196.4" y1="610.8" x2="196.4" y2="781.8" stroke="#555555" stroke-width="1.1"/>
<line x1="216.7" y1="610.8" x2="216.7" y2="781.8" stroke="#7a7a7a" stroke-width="1.1"/>
<line x1="226" y1="610.8" x2="226" y2="781.8" stroke="#555555" stroke-width="1.1"/>
<line x1="238.5" y1="706" x2="238.5" y2="716" stroke="#7a7a7a" stroke-width="0.9"/>
<line x1="236.5" y1="716" x2="240.5" y2="716" stroke="#7a7a7a" stroke-width="1"/>
<line x1="248.4" y1="610.8" x2="248.4" y2="781.8" stroke="#444444" stroke-width="1.1"/>
<line x1="249.1" y1="663.3" x2="249.1" y2="718.5" stroke="#1c1c1c" stroke-width="1.4"/>
<line x1="247.1" y1="663.3" x2="251.1" y2="663.3" stroke="#1c1c1c" stroke-width="1"/>
<line x1="247.1" y1="718.5" x2="251.1" y2="718.5" stroke="#1c1c1c" stroke-width="1"/>
<line x1="252.7" y1="610.8" x2="252.7" y2="781.8" stroke="#000000" stroke-width="1.4"/>
<line x1="260.8" y1="610.8" x2="260.8" y2="781.8" stroke="#a6a6a6" stroke-width="3"/>
<line x1="270" y1="610.8" x2="270" y2="781.8" stroke="#a6a6a6" stroke-width="1.9"/>
<line x1="274.3" y1="610.8" x2="274.3" y2="781.8" stroke="#555555" stroke-width="1"/>
<line x1="279.4" y1="676.8" x2="279.4" y2="734.7" stroke="#333333" stroke-width="1.1"/>
<line x1="277.4" y1="676.8" x2="281.4" y2="676.8" stroke="#333333" stroke-width="1"/>
<line x1="277.4" y1="734.7" x2="281.4" y2="734.7" stroke="#333333" stroke-width="1"/>
<line x1="287.1" y1="610.8" x2="287.1" y2="781.8" stroke="#707070" stroke-width="1.5"/>
<line x1="300.8" y1="610.8" x2="300.8" y2="636.7" stroke="#555555" stroke-width="1"/>
<line x1="301.4" y1="636.7" x2="301.4" y2="781.8" stroke="#333333" stroke-width="1.5"/>
<line x1="299.4" y1="636.7" x2="303.4" y2="636.7" stroke="#333333" stroke-width="1"/>
<rect x="225" y="759.7" width="2" height="2" fill="#444444"/>
<rect x="300.4" y="718.3" width="2" height="2" fill="#777777"/>
<polygon points="141.23,694.29 142.24,693.01 143.25,691.94 144.25,691.39 145.26,691.36 146.26,691.36 147.27,691.36 148.27,691.36 149.28,691.36 150.29,692.19 151.29,694.2 152.3,696.76 153.3,699.9 154.31,699.37 155.31,696.78 156.32,693.62 157.33,689.11 158.33,685.92 159.34,684.74 160.34,683.95 161.35,682.99 162.35,681.28 163.36,678.89 164.37,676.38 165.37,674.06 166.38,671.64 167.38,669.91 168.39,669.13 169.39,668.51 170.4,668.11 171.41,668 172.41,668.55 173.42,669.61 174.42,671.06 175.43,673.37 176.43,676.07 177.44,678.64 178.45,680.66 179.45,682.4 180.46,684.03 181.46,685.66 182.47,687.41 183.47,689.34 184.48,691.3 185.49,693.06 186.49,694.53 187.5,696.05 188.5,697.34 189.51,698.1 190.51,697.94 191.52,696.77 192.53,695.45 193.53,694.8 194.54,694.44 195.54,694.2 196.55,694.13 197.55,694.57 198.56,695.3 199.57,695.74 200.57,695.56 201.58,695.04 202.58,694.35 203.59,693.49 204.6,692.16 205.6,691.09 206.61,690.92 207.61,691.22 208.62,691.57 209.62,691.68 210.63,691.51 211.64,691.23 212.64,690.97 213.65,690.89 214.65,691.22 215.66,691.85 216.66,692.54 217.67,693.04 218.68,693.43 219.68,693.82 220.69,694.17 221.69,694.44 222.7,694.59 223.7,694.61 224.71,694.58 225.72,694.54 226.72,694.48 227.73,694.41 228.73,694.33 229.74,694.24 230.74,694.16 231.75,694.08 232.76,693.97 233.76,693.85 234.77,693.74 235.77,693.66 236.78,693.6 237.78,693.56 238.79,693.52 239.8,693.48 240.8,693.44 241.81,693.41 242.81,693.38 243.82,693.35 244.82,693.33 245.83,693.32 246.84,693.31 247.84,693.31 248.85,693.32 249.85,693.34 250.86,693.36 251.86,693.38 252.87,693.42 253.88,693.45 254.88,693.49 255.89,693.53 256.89,693.57 257.9,693.6 258.9,693.64 259.91,693.68 260.92,693.73 261.92,693.78 262.93,693.84 263.93,693.9 264.94,693.95 265.94,694 266.95,694.05 267.96,694.09 268.96,694.11 269.97,694.12 270.97,694.12 271.98,694.09 272.98,694.05 273.99,693.99 275,693.93 276,693.86 277.01,693.79 278.01,693.73 279.02,693.67 280.03,693.63 281.03,693.6 282.04,693.57 283.04,693.54 284.05,693.52 285.05,693.49 286.06,693.47 287.07,693.45 288.07,693.43 289.08,693.4 290.08,693.38 291.09,693.36 292.09,693.33 293.1,693.31 294.11,693.28 295.11,693.24 296.12,693.21 297.12,693.17 298.13,693.13 299.13,693.09 300.14,693.06 301.15,693.03 302.15,693.01 303.16,692.99 304.16,692.99 305.17,692.99 306.17,692.99 307.18,692.99 308.19,692.99 309.19,692.99 310.2,693.05 311.2,693.2 312.21,693.4 313.21,693.64 313.21,699.48 312.21,699.48 311.2,699.48 310.2,699.48 309.19,699.49 308.19,699.49 307.18,699.49 306.17,699.5 305.17,699.5 304.16,699.51 303.16,699.51 302.15,699.52 301.15,699.53 300.14,699.54 299.13,699.54 298.13,699.55 297.12,699.56 296.12,699.57 295.11,699.58 294.11,699.6 293.1,699.61 292.09,699.62 291.09,699.63 290.08,699.65 289.08,699.66 288.07,699.67 287.07,699.69 286.06,699.7 285.05,699.72 284.05,699.74 283.04,699.75 282.04,699.77 281.03,699.79 280.03,699.8 279.02,699.82 278.01,699.85 277.01,699.89 276,699.93 275,699.97 273.99,700.03 272.98,700.08 271.98,700.14 270.97,700.2 269.97,700.26 268.96,700.32 267.96,700.38 266.95,700.44 265.94,700.5 264.94,700.55 263.93,700.61 262.93,700.65 261.92,700.7 260.92,700.75 259.91,700.79 258.9,700.84 257.9,700.88 256.89,700.93 255.89,700.97 254.88,701.02 253.88,701.06 252.87,701.11 251.86,701.16 250.86,701.22 249.85,701.28 248.85,701.34 247.84,701.4 246.84,701.47 245.83,701.54 244.82,701.61 243.82,701.68 242.81,701.75 241.81,701.83 240.8,701.91 239.8,702.01 238.79,702.11 237.78,702.23 236.78,702.36 235.77,702.51 234.77,702.68 233.76,702.87 232.76,703.08 231.75,703.51 230.74,704.21 229.74,705.02 228.73,705.81 227.73,706.45 226.72,707.11 225.72,707.69 224.71,707.92 223.7,707.52 222.7,707.07 221.69,706.69 220.69,706.25 219.68,705.56 218.68,704.67 217.67,703.82 216.66,703.21 215.66,703.06 214.65,703.22 213.65,703.52 212.64,703.87 211.64,704.32 210.63,704.92 209.62,705.62 208.62,706.35 207.61,707.07 206.61,707.69 205.6,708.21 204.6,708.74 203.59,709.29 202.58,709.81 201.58,710.29 200.57,710.69 199.57,710.98 198.56,711.15 197.55,711.17 196.55,711.17 195.54,711.17 194.54,711.17 193.53,711.17 192.53,711.17 191.52,711.17 190.51,711.17 189.51,711.16 188.5,711.04 187.5,710.8 186.49,710.45 185.49,710.02 184.48,709.52 183.47,708.95 182.47,708.34 181.46,707.66 180.46,706.57 179.45,705.15 178.45,703.58 177.44,702.08 176.43,700.74 175.43,699.22 174.42,697.7 173.42,696.47 172.41,695.8 171.41,695.87 170.4,696.4 169.39,697.21 168.39,698.1 167.38,698.88 166.38,699.45 165.37,699.9 164.37,700.34 163.36,700.84 162.35,701.5 161.35,702.44 160.34,704.33 159.34,707.35 158.33,711.27 157.33,719.66 156.32,723.34 155.31,723.34 154.31,723.34 153.3,722.19 152.3,717.25 151.29,712.35 150.29,706.99 149.28,703.95 148.27,703.14 147.27,702.63 146.26,702.23 145.26,701.73 144.25,701.12 143.25,700.49 142.24,699.83 141.23,699.16" fill="#000000" stroke="#000" stroke-width="0.6"/>
<path d="M148.54 692.12h3.4M149.44 693.87h3.4M150.19 695.49h3.4M150.79 697.46h3.4M151.24 699.03h3.4M152.44 699.66h3.4M153.19 697.99h3.4M153.79 696.27h3.4M154.39 694.49h3.4M154.84 692.68h3.4M155.29 690.62h3.4M155.74 688.61h3.4M156.19 686.94h3.4M159.94 682.59h3.4M160.84 680.86h3.4M161.59 679.05h3.4M162.19 677.53h3.4M162.94 675.73h3.4M163.7 674h3.4M164.45 672.17h3.4M165.2 670.6h3.4M172.25 670.26h3.4M173.15 671.95h3.4M173.9 673.81h3.4M174.5 675.43h3.4M175.1 677.05h3.4M175.7 678.55h3.4M176.45 680.12h3.4M177.35 681.73h3.4M178.4 683.46h3.4M179.45 685.15h3.4M180.35 686.66h3.4M181.25 688.32h3.4M182.15 690.09h3.4M183.05 691.81h3.4M183.95 693.32h3.4M185.01 694.86h3.4M186.06 696.41h3.4M189.66 697h3.4M202.26 693.02h3.4" stroke="#000" stroke-width="0.8" fill="none"/>
<path d="M147.79 704.22h3.4M148.39 706.1h3.4M148.84 708.26h3.4M149.14 709.88h3.4M149.44 711.53h3.4M149.74 713.11h3.4M150.19 715.19h3.4M150.64 717.48h3.4M150.94 719.1h3.4M151.24 720.64h3.4M151.69 722.49h3.4M155.14 723h3.4M155.44 721.24h3.4M155.74 718.55h3.4M156.04 715.57h3.4M156.34 712.93h3.4M156.64 711.23h3.4M157.09 709.38h3.4M157.54 707.68h3.4M157.99 706.17h3.4M158.59 704.46h3.4M159.34 702.88h3.4M172.55 697.46h3.4M173.6 699.02h3.4M174.65 700.62h3.4M175.55 701.82h3.4M176.6 703.36h3.4M177.65 704.99h3.4M178.7 706.5h3.4" stroke="#000" stroke-width="0.8" fill="none"/>
<polyline points="178.57,694.94 179.59,696.56 180.6,698.08 181.62,699.46 182.63,700.64 183.64,701.61 184.66,702.5 185.67,703.37 186.69,704.16 187.7,704.81 188.72,705.27 189.73,705.48 190.75,705.44 191.76,705.28 192.78,705.04 193.79,704.73 194.81,704.39 195.82,704.05 196.83,703.74 197.85,703.4 198.86,703.02 199.88,702.63 200.89,702.22 201.91,701.82 202.92,701.43 203.94,701.02 204.95,700.59 205.97,700.15 206.98,699.73 208,699.36 209.01,699.08 210.02,698.88 211.04,698.7 212.05,698.53 213.07,698.38 214.08,698.27 215.1,698.2 216.11,698.18 217.13,698.25 218.14,698.39 219.16,698.61 220.17,698.91 221.19,699.26 222.2,699.67 223.21,700.13" fill="none" stroke="#555555" stroke-width="1.9" stroke-linejoin="round" stroke-linecap="round"/>
<polygon points="62.5,693.3 63.5,693.36 64.51,693.41 65.51,693.46 66.51,693.52 67.51,693.57 68.52,693.61 69.52,693.66 70.52,693.7 71.53,693.74 72.53,693.79 73.53,693.83 74.53,693.88 75.54,693.92 76.54,693.96 77.54,694 78.55,694.03 79.55,694.06 80.55,694.08 81.55,694.1 82.56,694.1 83.56,694.1 84.56,694.1 85.57,694.09 86.57,694.08 87.57,694.07 88.57,694.06 89.58,694.05 90.58,694.04 91.58,694.03 92.59,694.02 93.59,694 94.59,693.99 95.59,693.97 96.6,693.96 97.6,693.95 98.6,693.94 99.61,693.93 100.61,693.92 101.61,693.91 102.61,693.9 103.62,693.89 104.62,693.89 105.62,693.88 106.63,693.87 107.63,693.86 108.63,693.86 109.63,693.85 110.64,693.84 111.64,693.84 112.64,693.83 113.65,693.83 114.65,693.82 115.65,693.82 116.65,693.81 117.66,693.81 118.66,693.81 119.66,693.8 120.67,693.8 121.67,693.8 122.67,693.8 123.67,693.8 124.68,693.81 125.68,693.82 126.68,693.84 127.69,693.86 128.69,693.88 129.69,693.91 130.69,693.93 131.7,693.96 132.7,693.98 133.7,694.01 134.71,694.03 135.71,694.06 136.71,694.08 137.71,694.09 138.72,694.11 139.72,694.12 140.72,694.12 141.73,693.92 142.73,692.69 143.73,691.32 144.73,690.88 145.74,690.88 146.74,690.88 147.74,690.88 148.75,690.88 149.75,691.05 150.75,692.61 151.75,694.87 152.76,698.42 153.76,699.65 154.76,697.85 155.77,695.15 156.77,691.2 157.77,686.59 158.77,684.5 159.78,683.58 160.78,682.8 161.78,681.54 162.79,679.26 163.79,676.45 164.79,673.79 165.79,670.97 166.8,668.4 167.8,667.66 168.8,667.66 169.81,667.66 170.81,667.66 171.81,668.2 172.81,671 173.82,674.15 174.82,677.03 175.82,679.81 176.83,682.53 177.83,685.14 178.83,687.57 179.83,689.89 180.84,692.1 181.84,694.17 182.84,696.11 183.85,697.94 184.85,699.69 185.85,701.39 186.85,703.15 187.86,704.78 188.86,705.83 189.86,706.68 190.87,707.42 191.87,707.96 192.87,708.23 193.87,708.18 194.88,707.9 195.88,707.45 196.88,706.92 197.89,706.38 198.89,705.84 199.89,705.19 200.89,704.49 201.9,703.76 202.9,703.07 203.9,702.43 204.91,701.82 205.91,701.2 206.91,700.51 207.91,699.7 208.92,698.6 209.92,697.29 210.92,695.97 211.93,694.86 212.93,693.92 213.93,693.06 214.93,692.29 215.94,691.67 216.94,691.12 217.94,690.58 218.95,690.13 219.95,689.83 220.95,689.74 221.95,689.74 222.96,689.74 223.96,689.8 224.96,690.04 225.97,690.4 226.97,690.8 227.97,691.24 228.97,691.82 229.98,692.48 230.98,693.15 231.98,693.81 232.99,694.54 233.99,695.28 234.99,695.96 235.99,696.51 237,696.97 238,697.42 239,697.81 240.01,698.08 241.01,698.18 242.01,698.15 243.01,698.06 244.02,697.93 245.02,697.77 246.02,697.61 247.03,697.44 248.03,697.28 249.03,697.09 250.03,696.88 251.04,696.65 252.04,696.42 253.04,696.2 254.05,696 255.05,695.82 256.05,695.69 257.05,695.58 258.06,695.49 259.06,695.41 260.06,695.34 261.07,695.25 262.07,695.15 263.07,695.03 264.07,694.87 265.08,694.61 266.08,694.28 267.08,693.88 268.09,693.44 269.09,692.99 270.09,692.54 271.09,692.02 272.1,691.37 273.1,690.73 274.1,690.25 275.11,690.06 276.11,690.06 277.11,690.06 278.11,690.06 279.12,690.06 280.12,690.07 281.12,690.21 282.13,690.5 283.13,690.85 284.13,691.19 285.13,691.43 286.14,691.64 287.14,691.83 288.14,692.02 289.15,692.19 290.15,692.34 291.15,692.48 292.15,692.61 293.16,692.73 294.16,692.84 295.16,692.95 296.17,693.05 297.17,693.14 298.17,693.22 299.17,693.3 300.18,693.36 301.18,693.43 302.18,693.5 303.19,693.56 304.19,693.6 305.19,693.63 306.19,693.64 307.2,693.64 308.2,693.64 309.2,693.64 310.21,693.64 311.21,693.64 312.21,693.64 313.21,693.64 313.21,702.73 312.21,702.78 311.21,702.84 310.21,702.9 309.2,702.95 308.2,703.01 307.2,703.07 306.19,703.13 305.19,703.19 304.19,703.25 303.19,703.31 302.18,703.37 301.18,703.43 300.18,703.49 299.17,703.55 298.17,703.62 297.17,703.7 296.17,703.78 295.16,703.86 294.16,703.93 293.16,703.98 292.15,704.02 291.15,704.03 290.15,704.02 289.15,704 288.14,703.97 287.14,703.94 286.14,703.91 285.13,703.89 284.13,703.87 283.13,703.86 282.13,703.86 281.12,703.86 280.12,703.86 279.12,703.86 278.11,703.86 277.11,703.86 276.11,703.89 275.11,704.05 274.1,704.32 273.1,704.65 272.1,705.02 271.09,705.37 270.09,705.68 269.09,705.98 268.09,706.31 267.08,706.64 266.08,706.95 265.08,707.21 264.07,707.39 263.07,707.49 262.07,707.57 261.07,707.64 260.06,707.69 259.06,707.74 258.06,707.78 257.05,707.83 256.05,707.89 255.05,707.96 254.05,708.03 253.04,708.09 252.04,708.16 251.04,708.24 250.03,708.32 249.03,708.4 248.03,708.49 247.03,708.6 246.02,708.71 245.02,708.87 244.02,709.11 243.01,709.41 242.01,709.71 241.01,709.99 240.01,710.22 239,710.34 238,710.35 237,710.29 235.99,710.17 234.99,710.01 233.99,709.81 232.99,709.58 231.98,709.1 230.98,708.22 229.98,707.22 228.97,706.4 227.97,705.88 226.97,705.43 225.97,705.05 224.96,704.74 223.96,704.46 222.96,704.36 221.95,704.6 220.95,705.08 219.95,705.72 218.95,706.47 217.94,707.65 216.94,709.27 215.94,711.12 214.93,713.36 213.93,716.05 212.93,718.67 211.93,720.97 210.92,723.21 209.92,725.09 208.92,726.34 207.91,727.32 206.91,728.13 205.91,728.76 204.91,729.22 203.9,729.64 202.9,730.02 201.9,730.33 200.89,730.55 199.89,730.65 198.89,730.61 197.89,730.48 196.88,730.26 195.88,729.97 194.88,729.64 193.87,729.28 192.87,728.91 191.87,728.45 190.87,727.87 189.86,727.18 188.86,726.36 187.86,725.22 186.85,723.8 185.85,722.21 184.85,720.55 183.85,718.73 182.84,716.73 181.84,714.6 180.84,712.42 179.83,710.12 178.83,707.7 177.83,705.23 176.83,702.75 175.82,700.19 174.82,697.61 173.82,695.19 172.81,692.67 171.81,690.48 170.81,690.11 169.81,690.47 168.8,691.09 167.8,691.91 166.8,693.7 165.79,696.11 164.79,698.15 163.79,699.43 162.79,700.41 161.78,701.47 160.78,702.93 159.78,705.36 158.77,708.99 157.77,714.92 156.77,722.41 155.77,722.53 154.76,722.53 153.76,722.47 152.76,719.14 151.75,714.29 150.75,709.21 149.75,704.71 148.75,703.27 147.74,702.59 146.74,702.12 145.74,701.67 144.73,701.05 143.73,700.28 142.73,699.54 141.73,699.07 140.72,698.99 139.72,698.98 138.72,698.97 137.71,698.96 136.71,698.95 135.71,698.94 134.71,698.93 133.7,698.93 132.7,698.92 131.7,698.92 130.69,698.91 129.69,698.91 128.69,698.91 127.69,698.9 126.68,698.9 125.68,698.9 124.68,698.9 123.67,698.9 122.67,698.9 121.67,698.9 120.67,698.9 119.66,698.91 118.66,698.91 117.66,698.92 116.65,698.93 115.65,698.94 114.65,698.95 113.65,698.96 112.64,698.97 111.64,698.99 110.64,699 109.63,699.01 108.63,699.03 107.63,699.04 106.63,699.05 105.62,699.06 104.62,699.08 103.62,699.09 102.61,699.1 101.61,699.11 100.61,699.12 99.61,699.13 98.6,699.15 97.6,699.16 96.6,699.17 95.59,699.18 94.59,699.2 93.59,699.21 92.59,699.22 91.58,699.24 90.58,699.25 89.58,699.26 88.57,699.27 87.57,699.28 86.57,699.29 85.57,699.29 84.56,699.3 83.56,699.3 82.56,699.3 81.55,699.3 80.55,699.28 79.55,699.27 78.55,699.24 77.54,699.21 76.54,699.17 75.54,699.13 74.53,699.09 73.53,699.04 72.53,699 71.53,698.95 70.52,698.9 69.52,698.85 68.52,698.79 67.51,698.72 66.51,698.65 65.51,698.56 64.51,698.48 63.5,698.39 62.5,698.3" fill="#686868" stroke="#686868" stroke-width="0.6"/>
<path d="M140.77 693.07h3.4M141.82 691.56h3.4M148.42 691.48h3.4M149.32 693.2h3.4M150.07 694.91h3.4M150.67 696.91h3.4M151.12 698.66h3.4M152.47 699.11h3.4M153.22 697.45h3.4M153.82 695.81h3.4M154.42 694.04h3.4M154.87 692.13h3.4M155.32 689.94h3.4M155.77 687.8h3.4M156.22 686.06h3.4M159.83 681.95h3.4M160.73 680.18h3.4M161.33 678.61h3.4M161.93 676.91h3.4M162.53 675.23h3.4M163.13 673.7h3.4M163.73 672.06h3.4M164.33 670.29h3.4M164.93 668.75h3.4M170.03 668.05h3.4M170.78 669.91h3.4M171.38 671.89h3.4M171.98 673.77h3.4M172.58 675.47h3.4M173.18 677.19h3.4M173.78 678.86h3.4M174.38 680.51h3.4M174.98 682.14h3.4M175.58 683.73h3.4M176.18 685.26h3.4M176.93 687.09h3.4M177.68 688.86h3.4M178.43 690.56h3.4M179.18 692.19h3.4M179.93 693.75h3.4M180.83 695.51h3.4M181.73 697.19h3.4M182.63 698.8h3.4M183.53 700.35h3.4M184.43 701.86h3.4M185.33 703.46h3.4M207.69 698h3.4M208.89 696.4h3.4" stroke="#686868" stroke-width="0.8" fill="none"/>
<path d="M147.82 704.13h3.4M148.42 706.1h3.4M148.87 708.27h3.4M149.17 709.87h3.4M149.47 711.48h3.4M149.77 713.01h3.4M150.22 715h3.4M150.67 717.2h3.4M150.97 718.73h3.4M151.42 720.79h3.4M152.02 722.43h3.4M155.17 722.09h3.4M155.47 720.32h3.4M155.77 717.73h3.4M156.07 714.89h3.4M156.37 712.39h3.4M156.67 710.73h3.4M157.12 708.78h3.4M157.57 707.04h3.4M158.02 705.52h3.4M158.63 703.87h3.4M159.53 702.21h3.4M162.83 698.54h3.4M163.73 696.95h3.4M164.48 695.18h3.4M165.23 693.42h3.4M170.18 690.58h3.4M170.93 692.19h3.4M171.53 693.78h3.4M172.28 695.56h3.4M173.03 697.38h3.4M173.63 698.91h3.4M174.23 700.46h3.4M174.83 702.01h3.4M175.58 703.87h3.4M176.33 705.72h3.4M177.08 707.58h3.4M177.83 709.4h3.4M178.58 711.16h3.4M179.33 712.84h3.4M180.08 714.47h3.4M180.83 716.07h3.4M181.58 717.62h3.4M182.48 719.36h3.4M183.38 720.94h3.4M184.43 722.66h3.4M185.48 724.29h3.4M207.99 725.43h3.4M208.89 723.9h3.4M209.64 722.31h3.4M210.39 720.59h3.4M211.14 718.88h3.4M211.74 717.38h3.4M212.34 715.76h3.4M212.94 714.13h3.4M213.54 712.61h3.4M214.29 711.02h3.4M215.19 709.36h3.4M216.24 707.65h3.4" stroke="#686868" stroke-width="0.8" fill="none"/>
<polyline points="62.5,695.8 63.5,695.89 64.51,695.99 65.51,696.07 66.51,696.16 67.51,696.23 68.52,696.3 69.52,696.36 70.52,696.4 71.53,696.44 72.53,696.48 73.53,696.51 74.53,696.55 75.54,696.58 76.54,696.61 77.54,696.64 78.55,696.66 79.55,696.68 80.55,696.69 81.55,696.7 82.56,696.7 83.56,696.7 84.56,696.7 85.57,696.69 86.57,696.68 87.57,696.67 88.57,696.66 89.58,696.65 90.58,696.64 91.58,696.63 92.59,696.62 93.59,696.6 94.59,696.59 95.59,696.57 96.6,696.56 97.6,696.55 98.6,696.54 99.61,696.53 100.61,696.52 101.61,696.51 102.61,696.5 103.62,696.49 104.62,696.49 105.62,696.48 106.63,696.47 107.63,696.46 108.63,696.46 109.63,696.45 110.64,696.44 111.64,696.44 112.64,696.43 113.65,696.43 114.65,696.42 115.65,696.42 116.65,696.41 117.66,696.41 118.66,696.41 119.66,696.4 120.67,696.4 121.67,696.4 122.67,696.4 123.67,696.4 124.68,696.41 125.68,696.41 126.68,696.42 127.69,696.43 128.69,696.44 129.69,696.45 130.69,696.46 131.7,696.48 132.7,696.49 133.7,696.5 134.71,696.51 135.71,696.53 136.71,696.54 137.71,696.54 138.72,696.55 139.72,696.56 140.72,696.56 141.73,696.55 142.73,696.49 143.73,696.39 144.73,696.3 145.74,696.24 146.74,696.26 147.74,696.4 148.75,696.67 149.75,697.24 150.75,699.58 151.75,702.94 152.76,708.05 153.76,712.37 154.76,715.05 155.77,712.93 156.77,707.4 157.77,702.24 158.77,697.6 159.78,694.85 160.78,692.94 161.78,691.19 162.79,689 163.79,686.34 164.79,683.69 165.79,681.55 166.8,679.52 167.8,677.82 168.8,677.08 169.81,677.08 170.81,677.08 171.81,677.48 172.81,679.63 173.82,682.23 174.82,685.09 175.82,688.31 176.83,691.36 177.83,693.98 178.83,696.46 179.83,698.81 180.84,701.06 181.84,703.22 182.84,705.3 183.85,707.29 184.85,709.16 185.85,710.97 186.85,712.78 187.86,714.43 188.86,715.76 189.86,716.77 190.87,717.7 191.87,718.45 192.87,718.9 193.87,719.04 194.88,719.14 195.88,719.22 196.88,719.27 197.89,719.29 198.89,719.16 199.89,718.75 200.89,718.16 201.9,717.49 202.9,716.86 203.9,716.31 204.91,715.75 205.91,715.13 206.91,714.4 207.91,713.48 208.92,711.96 209.92,710.01 210.92,708.11 211.93,706.49 212.93,704.92 213.93,703.5 214.93,702.27 215.94,701.11 216.94,700.04 217.94,699.1 218.95,698.32 219.95,697.66 220.95,697.02 221.95,696.51 222.96,696.25 223.96,696.28 224.96,696.48 225.97,696.76 226.97,697.14 227.97,697.81 228.97,698.66 229.98,699.58 230.98,700.43 231.98,701.15 232.99,701.86 233.99,702.55 234.99,703.2 235.99,703.8 237,704.43 238,705.06 239,705.45 240.01,705.47 241.01,705.37 242.01,705.2 243.01,704.97 244.02,704.72 245.02,704.46 246.02,704.19 247.03,703.96 248.03,703.75 249.03,703.56 250.03,703.36 251.04,703.17 252.04,702.98 253.04,702.78 254.05,702.57 255.05,702.36 256.05,702.13 257.05,701.9 258.06,701.66 259.06,701.4 260.06,701.14 261.07,700.88 262.07,700.6 263.07,700.31 264.07,700.02 265.08,699.69 266.08,699.35 267.08,698.99 268.09,698.62 269.09,698.26 270.09,697.91 271.09,697.59 272.1,697.29 273.1,696.97 274.1,696.63 275.11,696.31 276.11,696.04 277.11,695.84 278.11,695.75 279.12,695.75 280.12,695.75 281.12,695.75 282.13,695.75 283.13,695.75 284.13,695.8 285.13,695.94 286.14,696.14 287.14,696.38 288.14,696.61 289.15,696.8 290.15,696.95 291.15,697.08 292.15,697.22 293.16,697.35 294.16,697.48 295.16,697.6 296.17,697.7 297.17,697.78 298.17,697.83 299.17,697.86 300.18,697.85 301.18,697.82 302.18,697.78 303.19,697.72 304.19,697.65 305.19,697.57 306.19,697.49 307.2,697.4 308.2,697.31 309.2,697.19 310.21,697.05 311.21,696.9 312.21,696.73 313.21,696.56" fill="none" stroke="#ababab" stroke-width="1.9" stroke-linejoin="round" stroke-linecap="round"/>
</g>
<path d="M62.5 611.55V779.8H313.75" fill="none" stroke="#000" stroke-width="2.5" stroke-linejoin="miter"/>
<line x1="55.3" y1="612.8" x2="62.5" y2="612.8" stroke="#000" stroke-width="2.4"/>
<text class="tick" x="53.1" y="618.4" text-anchor="end">0.2</text>
<line x1="55.3" y1="654.55" x2="62.5" y2="654.55" stroke="#000" stroke-width="2.4"/>
<text class="tick" x="53.1" y="660.15" text-anchor="end">0.1</text>
<line x1="55.3" y1="696.3" x2="62.5" y2="696.3" stroke="#000" stroke-width="2.4"/>
<text class="tick" x="53.1" y="701.9" text-anchor="end">0.0</text>
<line x1="55.3" y1="738.05" x2="62.5" y2="738.05" stroke="#000" stroke-width="2.4"/>
<text class="tick" x="53.1" y="743.65" text-anchor="end">-0.1</text>
<line x1="55.3" y1="779.8" x2="62.5" y2="779.8" stroke="#000" stroke-width="2.4"/>
<text class="tick" x="53.1" y="785.4" text-anchor="end">-0.2</text>
<line x1="62.5" y1="779.8" x2="62.5" y2="787" stroke="#000" stroke-width="2.4"/>
<text class="tick" text-anchor="end" transform="translate(63 797.6) rotate(-45)" x="0" y="5.4">-0.200</text>
<line x1="98.25" y1="779.8" x2="98.25" y2="787" stroke="#000" stroke-width="2.4"/>
<text class="tick" text-anchor="end" transform="translate(98.75 797.6) rotate(-45)" x="0" y="5.4">-0.100</text>
<line x1="134" y1="779.8" x2="134" y2="787" stroke="#000" stroke-width="2.4"/>
<text class="tick" text-anchor="end" transform="translate(134.5 797.6) rotate(-45)" x="0" y="5.4">0.000</text>
<line x1="169.75" y1="779.8" x2="169.75" y2="787" stroke="#000" stroke-width="2.4"/>
<text class="tick" text-anchor="end" transform="translate(170.25 797.6) rotate(-45)" x="0" y="5.4">0.100</text>
<line x1="205.5" y1="779.8" x2="205.5" y2="787" stroke="#000" stroke-width="2.4"/>
<text class="tick" text-anchor="end" transform="translate(206 797.6) rotate(-45)" x="0" y="5.4">0.200</text>
<line x1="241.25" y1="779.8" x2="241.25" y2="787" stroke="#000" stroke-width="2.4"/>
<text class="tick" text-anchor="end" transform="translate(241.75 797.6) rotate(-45)" x="0" y="5.4">0.300</text>
<line x1="277" y1="779.8" x2="277" y2="787" stroke="#000" stroke-width="2.4"/>
<text class="tick" text-anchor="end" transform="translate(277.5 797.6) rotate(-45)" x="0" y="5.4">0.400</text>
<text class="axl" text-anchor="middle" transform="translate(16.9 694.7) rotate(-90)">Amplitude [mV]</text>
<text class="axl" text-anchor="middle" x="187.93" y="857.8">Time [s]</text>
</g>
<g id="legend">
<rect x="252.3" y="15.4" width="82.2" height="52.4" fill="#fff" stroke="#000" stroke-width="2.3"/>
<line x1="261.2" y1="29.1" x2="279.7" y2="29.1" stroke="#9b9b9b" stroke-width="3"/>
<line x1="260.1" y1="49.9" x2="278.6" y2="49.9" stroke="#000" stroke-width="3"/>
<text class="leg" x="292.3" y="36.2">KO</text>
<text class="leg" x="291.2" y="58.1">WT</text>
</g>
</svg></body></html>
